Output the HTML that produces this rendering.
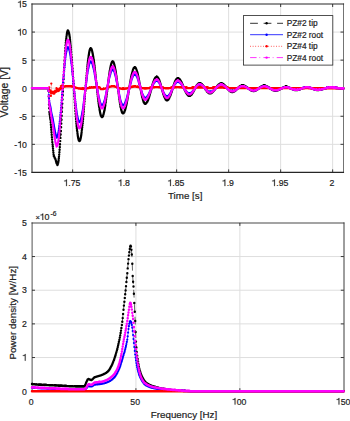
<!DOCTYPE html><html><head><meta charset="utf-8"><style>html,body{margin:0;padding:0;background:#fff;overflow:hidden}svg{display:block}text{font-family:"Liberation Sans",sans-serif;fill:#222;stroke:#222;stroke-width:0.2px}</style></head><body>
<svg width="350" height="421" viewBox="0 0 350 421">
<rect width="350" height="421" fill="#fff"/>
<path d="M72.65 4.0V172.4M124.65 4.0V172.4M176.65 4.0V172.4M228.65 4.0V172.4M280.65 4.0V172.4M332.65 4.0V172.4M32.0 32.07H343.5M32.0 60.13H343.5M32.0 88.20H343.5M32.0 116.27H343.5M32.0 144.33H343.5" stroke="#dedede" stroke-width="1" fill="none"/>
<path d="M135.93 222.9V391.2M239.87 222.9V391.2M32.0 256.56H343.8M32.0 290.22H343.8M32.0 323.88H343.8M32.0 357.54H343.8" stroke="#dedede" stroke-width="1" fill="none"/>
<path d="M32.0 4.0H343.5" stroke="#262626" stroke-width="1.15" stroke-linecap="square" fill="none"/>
<path d="M32.0 172.4H343.5" stroke="#262626" stroke-width="1.1" stroke-linecap="square" fill="none"/>
<path d="M32.0 4.0V172.4" stroke="#262626" stroke-width="1.0" stroke-linecap="square" fill="none"/>
<path d="M343.5 4.0V172.4" stroke="#262626" stroke-width="0.65" stroke-linecap="square" fill="none"/>
<path d="M72.65 172.4v-3M72.65 4.0v3M124.65 172.4v-3M124.65 4.0v3M176.65 172.4v-3M176.65 4.0v3M228.65 172.4v-3M228.65 4.0v3M280.65 172.4v-3M280.65 4.0v3M332.65 172.4v-3M332.65 4.0v3M32.0 32.07h3M343.5 32.07h-3M32.0 60.13h3M343.5 60.13h-3M32.0 88.20h3M343.5 88.20h-3M32.0 116.27h3M343.5 116.27h-3M32.0 144.33h3M343.5 144.33h-3" stroke="#262626" stroke-width="0.9" fill="none"/>
<path d="M32.0 223.0H343.8" stroke="#262626" stroke-width="0.85" stroke-linecap="square" fill="none"/>
<path d="M32.0 391.2H343.8" stroke="#262626" stroke-width="1.0" stroke-linecap="square" fill="none"/>
<path d="M32.1 222.9V391.2" stroke="#262626" stroke-width="0.8" stroke-linecap="square" fill="none"/>
<path d="M344.0 222.9V391.2" stroke="#262626" stroke-width="0.9" stroke-linecap="square" fill="none"/>
<path d="M135.93 391.2v-3M135.93 222.9v3M239.87 391.2v-3M239.87 222.9v3M32.0 256.56h3M343.8 256.56h-3M32.0 290.22h3M343.8 290.22h-3M32.0 323.88h3M343.8 323.88h-3M32.0 357.54h3M343.8 357.54h-3" stroke="#262626" stroke-width="0.9" fill="none"/>
<polyline points="32.00,88.10 32.21,88.10 32.42,88.10 32.62,88.10 32.83,88.10 33.04,88.10 33.25,88.10 33.45,88.10 33.66,88.10 33.87,88.10 34.08,88.10 34.28,88.10 34.49,88.10 34.70,88.10 34.91,88.10 35.11,88.10 35.32,88.10 35.53,88.10 35.74,88.10 35.94,88.10 36.15,88.10 36.36,88.10 36.57,88.10 36.77,88.10 36.98,88.10 37.19,88.10 37.40,88.10 37.61,88.10 37.81,88.10 38.02,88.10 38.23,88.10 38.44,88.10 38.64,88.10 38.85,88.10 39.06,88.10 39.27,88.10 39.47,88.10 39.68,88.10 39.89,88.10 40.10,88.10 40.30,88.10 40.51,88.10 40.72,88.10 40.93,88.10 41.13,88.10 41.34,88.10 41.55,88.10 41.76,88.10 41.96,88.10 42.17,88.10 42.38,88.10 42.59,88.10 42.80,88.10 43.00,88.10 43.21,88.10 43.42,88.10 43.63,88.10 43.83,88.10 44.04,88.10 44.25,88.10 44.46,88.10 44.66,88.10 44.87,88.10 45.08,88.10 45.29,88.10 45.49,88.10 45.70,88.10 45.91,88.10 46.12,88.10 46.32,88.10 46.53,88.10 46.74,88.10 46.95,88.10 47.15,88.10 47.36,88.10 47.57,88.10 47.78,88.10 47.99,88.10 48.19,88.10 48.40,88.10 48.61,90.94 48.82,96.62 49.02,104.42 49.23,108.15 49.44,111.89 49.65,114.02 49.85,115.48 50.06,116.93 50.27,118.38 50.48,119.83 50.68,122.21 50.89,124.70 51.10,127.19 51.31,129.68 51.51,132.17 51.72,134.66 51.93,137.16 52.14,139.65 52.34,142.14 52.55,144.51 52.76,146.53 52.97,148.56 53.18,150.58 53.38,152.61 53.59,154.63 53.80,155.91 54.01,156.35 54.21,156.78 54.42,157.22 54.63,157.66 54.84,158.10 55.04,158.54 55.25,158.97 55.46,159.41 55.67,160.08 55.87,160.81 56.08,161.54 56.29,162.26 56.50,162.99 56.70,163.51 56.91,164.03 57.12,164.55 57.33,164.97 57.53,164.72 57.74,164.38 57.95,163.65 58.16,162.79 58.37,161.58 58.57,160.21 58.78,158.54 58.99,156.69 59.20,154.59 59.40,152.29 59.61,149.78 59.82,147.06 60.03,144.18 60.23,141.09 60.44,137.89 60.65,134.47 60.86,130.98 61.06,127.30 61.27,123.57 61.48,119.68 61.69,115.76 61.89,111.73 62.10,107.68 62.31,103.57 62.52,99.45 62.72,95.32 62.93,91.20 63.14,87.11 63.35,83.04 63.56,79.06 63.76,75.12 63.97,71.29 64.18,67.54 64.39,63.92 64.59,60.42 64.80,57.06 65.01,53.87 65.22,50.82 65.42,47.98 65.63,45.28 65.84,42.84 66.05,40.53 66.25,38.54 66.46,36.65 66.67,35.13 66.88,33.69 67.08,32.67 67.29,31.70 67.50,31.19 67.71,30.72 67.91,30.70 68.12,30.72 68.33,31.06 68.54,31.46 68.75,32.14 68.95,32.90 69.16,33.91 69.37,35.02 69.58,36.35 69.78,37.79 69.99,39.42 70.20,41.18 70.41,43.08 70.61,45.13 70.82,47.30 71.03,49.61 71.24,52.01 71.44,54.55 71.65,57.16 71.86,59.90 72.07,62.67 72.27,65.57 72.48,68.49 72.69,71.50 72.90,74.53 73.10,77.62 73.31,80.72 73.52,83.84 73.73,86.97 73.94,90.09 74.14,93.20 74.35,96.28 74.56,99.34 74.77,102.34 74.97,105.30 75.18,108.19 75.39,111.01 75.60,113.75 75.80,116.40 76.01,118.95 76.22,121.39 76.43,123.73 76.63,125.92 76.84,128.03 77.05,129.94 77.26,131.78 77.46,133.39 77.67,134.94 77.88,136.23 78.09,137.48 78.29,138.42 78.50,139.35 78.71,139.94 78.92,140.51 79.13,140.76 79.33,140.97 79.54,140.90 79.75,140.75 79.96,140.38 80.16,139.92 80.37,139.26 80.58,138.50 80.79,137.55 80.99,136.48 81.20,135.27 81.41,133.92 81.62,132.45 81.82,130.83 82.03,129.12 82.24,127.26 82.45,125.34 82.65,123.27 82.86,121.14 83.07,118.89 83.28,116.60 83.48,114.19 83.69,111.76 83.90,109.23 84.11,106.69 84.32,104.08 84.52,101.46 84.73,98.80 84.94,96.14 85.15,93.47 85.35,90.81 85.56,88.16 85.77,85.52 85.98,82.93 86.18,80.36 86.39,77.85 86.60,75.40 86.81,73.00 87.01,70.69 87.22,68.44 87.43,66.30 87.64,64.22 87.84,62.29 88.05,60.41 88.26,58.71 88.47,57.05 88.67,55.61 88.88,54.20 89.09,53.03 89.30,51.88 89.51,51.00 89.71,50.14 89.92,49.55 90.13,49.00 90.34,48.71 90.54,48.47 90.75,48.46 90.96,48.51 91.17,48.73 91.37,49.03 91.58,49.47 91.79,50.00 92.00,50.65 92.20,51.40 92.41,52.25 92.62,53.21 92.83,54.26 93.03,55.42 93.24,56.65 93.45,57.99 93.66,59.38 93.86,60.89 94.07,62.43 94.28,64.08 94.49,65.75 94.70,67.52 94.90,69.30 95.11,71.16 95.32,73.03 95.53,74.96 95.73,76.89 95.94,78.86 96.15,80.83 96.36,82.81 96.56,84.79 96.77,86.76 96.98,88.72 97.19,90.66 97.39,92.57 97.60,94.45 97.81,96.29 98.02,98.09 98.22,99.83 98.43,101.53 98.64,103.14 98.85,104.71 99.05,106.18 99.26,107.61 99.47,108.91 99.68,110.18 99.89,111.29 100.09,112.38 100.30,113.29 100.51,114.18 100.72,114.88 100.92,115.56 101.13,116.05 101.34,116.50 101.55,116.78 101.75,116.99 101.96,117.05 102.17,117.04 102.38,116.89 102.58,116.66 102.79,116.32 103.00,115.88 103.21,115.34 103.41,114.70 103.62,113.98 103.83,113.15 104.04,112.25 104.24,111.24 104.45,110.18 104.66,109.01 104.87,107.81 105.08,106.49 105.28,105.15 105.49,103.71 105.70,102.26 105.91,100.72 106.11,99.17 106.32,97.56 106.53,95.94 106.74,94.28 106.94,92.61 107.15,90.92 107.36,89.23 107.57,87.54 107.77,85.85 107.98,84.18 108.19,82.53 108.40,80.90 108.60,79.31 108.81,77.74 109.02,76.23 109.23,74.76 109.43,73.35 109.64,71.98 109.85,70.71 110.06,69.47 110.27,68.34 110.47,67.24 110.68,66.29 110.89,65.35 111.10,64.57 111.30,63.81 111.51,63.22 111.72,62.65 111.93,62.26 112.13,61.90 112.34,61.70 112.55,61.55 112.76,61.55 112.96,61.61 113.17,61.81 113.38,62.08 113.59,62.48 113.79,62.96 114.00,63.55 114.21,64.24 114.42,65.01 114.62,65.88 114.83,66.82 115.04,67.87 115.25,68.96 115.46,70.17 115.66,71.40 115.87,72.74 116.08,74.10 116.29,75.55 116.49,77.02 116.70,78.56 116.91,80.10 117.12,81.70 117.32,83.30 117.53,84.94 117.74,86.57 117.95,88.21 118.15,89.85 118.36,91.48 118.57,93.09 118.78,94.68 118.98,96.24 119.19,97.76 119.40,99.25 119.61,100.68 119.81,102.06 120.02,103.40 120.23,104.65 120.44,105.85 120.65,106.96 120.85,108.02 121.06,108.95 121.27,109.85 121.48,110.60 121.68,111.33 121.89,111.88 122.10,112.42 122.31,112.77 122.51,113.11 122.72,113.26 122.93,113.38 123.14,113.35 123.34,113.29 123.55,113.12 123.76,112.92 123.97,112.61 124.17,112.27 124.38,111.84 124.59,111.35 124.80,110.79 125.00,110.18 125.21,109.51 125.42,108.77 125.63,107.98 125.84,107.13 126.04,106.25 126.25,105.29 126.46,104.31 126.67,103.27 126.87,102.21 127.08,101.09 127.29,99.97 127.50,98.79 127.70,97.60 127.91,96.38 128.12,95.15 128.33,93.89 128.53,92.64 128.74,91.37 128.95,90.10 129.16,88.83 129.36,87.57 129.57,86.31 129.78,85.07 129.99,83.84 130.19,82.64 130.40,81.45 130.61,80.30 130.82,79.17 131.03,78.09 131.23,77.03 131.44,76.02 131.65,75.04 131.86,74.13 132.06,73.25 132.27,72.45 132.48,71.66 132.69,70.98 132.89,70.30 133.10,69.74 133.31,69.19 133.52,68.76 133.72,68.34 133.93,68.04 134.14,67.77 134.35,67.60 134.55,67.46 134.76,67.43 134.97,67.44 135.18,67.55 135.38,67.70 135.59,67.94 135.80,68.25 136.01,68.62 136.22,69.06 136.42,69.56 136.63,70.14 136.84,70.76 137.05,71.45 137.25,72.18 137.46,72.99 137.67,73.82 137.88,74.73 138.08,75.65 138.29,76.63 138.50,77.63 138.71,78.68 138.91,79.74 139.12,80.84 139.33,81.94 139.54,83.07 139.74,84.20 139.95,85.34 140.16,86.48 140.37,87.61 140.57,88.74 140.78,89.86 140.99,90.95 141.20,92.03 141.41,93.08 141.61,94.11 141.82,95.10 142.03,96.05 142.24,96.96 142.44,97.84 142.65,98.64 142.86,99.42 143.07,100.12 143.27,100.80 143.48,101.37 143.69,101.93 143.90,102.38 144.10,102.81 144.31,103.12 144.52,103.41 144.73,103.58 144.93,103.73 145.14,103.77 145.35,103.78 145.56,103.72 145.76,103.63 145.97,103.48 146.18,103.31 146.39,103.08 146.60,102.82 146.80,102.52 147.01,102.17 147.22,101.80 147.43,101.38 147.63,100.93 147.84,100.44 148.05,99.92 148.26,99.37 148.46,98.79 148.67,98.18 148.88,97.56 149.09,96.90 149.29,96.23 149.50,95.53 149.71,94.82 149.92,94.09 150.12,93.36 150.33,92.61 150.54,91.85 150.75,91.09 150.95,90.33 151.16,89.57 151.37,88.81 151.58,88.06 151.79,87.31 151.99,86.57 152.20,85.85 152.41,85.14 152.62,84.45 152.82,83.77 153.03,83.12 153.24,82.48 153.45,81.89 153.65,81.30 153.86,80.76 154.07,80.23 154.28,79.76 154.48,79.29 154.69,78.89 154.90,78.50 155.11,78.17 155.31,77.85 155.52,77.61 155.73,77.38 155.94,77.21 156.14,77.06 156.35,76.98 156.56,76.92 156.77,76.92 156.98,76.95 157.18,77.05 157.39,77.17 157.60,77.35 157.81,77.58 158.01,77.84 158.22,78.16 158.43,78.51 158.64,78.91 158.84,79.33 159.05,79.81 159.26,80.31 159.47,80.85 159.67,81.42 159.88,82.02 160.09,82.64 160.30,83.30 160.50,83.96 160.71,84.66 160.92,85.36 161.13,86.09 161.33,86.81 161.54,87.55 161.75,88.29 161.96,89.04 162.17,89.78 162.37,90.51 162.58,91.24 162.79,91.96 163.00,92.67 163.20,93.36 163.41,94.03 163.62,94.68 163.83,95.30 164.03,95.90 164.24,96.47 164.45,97.01 164.66,97.51 164.86,97.99 165.07,98.41 165.28,98.81 165.49,99.15 165.69,99.48 165.90,99.73 166.11,99.97 166.32,100.12 166.52,100.27 166.73,100.34 166.94,100.39 167.15,100.37 167.36,100.33 167.56,100.24 167.77,100.11 167.98,99.94 168.19,99.74 168.39,99.49 168.60,99.21 168.81,98.89 169.02,98.54 169.22,98.16 169.43,97.74 169.64,97.29 169.85,96.81 170.05,96.31 170.26,95.78 170.47,95.23 170.68,94.65 170.88,94.06 171.09,93.45 171.30,92.83 171.51,92.18 171.71,91.54 171.92,90.88 172.13,90.22 172.34,89.55 172.55,88.88 172.75,88.22 172.96,87.56 173.17,86.91 173.38,86.26 173.58,85.63 173.79,85.01 174.00,84.40 174.21,83.82 174.41,83.25 174.62,82.71 174.83,82.18 175.04,81.69 175.24,81.22 175.45,80.79 175.66,80.38 175.87,80.02 176.07,79.67 176.28,79.38 176.49,79.09 176.70,78.88 176.90,78.67 177.11,78.54 177.32,78.41 177.53,78.35 177.74,78.31 177.94,78.32 178.15,78.35 178.36,78.41 178.57,78.50 178.77,78.61 178.98,78.75 179.19,78.92 179.40,79.12 179.60,79.34 179.81,79.58 180.02,79.85 180.23,80.14 180.43,80.45 180.64,80.79 180.85,81.14 181.06,81.51 181.26,81.90 181.47,82.31 181.68,82.73 181.89,83.17 182.09,83.61 182.30,84.08 182.51,84.54 182.72,85.02 182.93,85.50 183.13,85.99 183.34,86.48 183.55,86.98 183.76,87.47 183.96,87.96 184.17,88.45 184.38,88.94 184.59,89.42 184.79,89.89 185.00,90.36 185.21,90.81 185.42,91.25 185.62,91.68 185.83,92.09 186.04,92.50 186.25,92.87 186.45,93.24 186.66,93.58 186.87,93.91 187.08,94.21 187.28,94.49 187.49,94.74 187.70,94.98 187.91,95.18 188.12,95.37 188.32,95.52 188.53,95.65 188.74,95.75 188.95,95.83 189.15,95.87 189.36,95.89 189.57,95.88 189.78,95.85 189.98,95.79 190.19,95.71 190.40,95.60 190.61,95.47 190.81,95.31 191.02,95.13 191.23,94.93 191.44,94.70 191.64,94.46 191.85,94.20 192.06,93.92 192.27,93.62 192.47,93.30 192.68,92.97 192.89,92.63 193.10,92.27 193.31,91.90 193.51,91.52 193.72,91.14 193.93,90.75 194.14,90.35 194.34,89.95 194.55,89.55 194.76,89.15 194.97,88.75 195.17,88.35 195.38,87.96 195.59,87.57 195.80,87.20 196.00,86.83 196.21,86.47 196.42,86.13 196.63,85.80 196.83,85.48 197.04,85.18 197.25,84.90 197.46,84.64 197.66,84.39 197.87,84.17 198.08,83.96 198.29,83.79 198.50,83.62 198.70,83.50 198.91,83.38 199.12,83.31 199.33,83.24 199.53,83.22 199.74,83.20 199.95,83.22 200.16,83.25 200.36,83.31 200.57,83.38 200.78,83.48 200.99,83.59 201.19,83.73 201.40,83.88 201.61,84.05 201.82,84.23 202.02,84.43 202.23,84.65 202.44,84.88 202.65,85.13 202.85,85.39 203.06,85.66 203.27,85.94 203.48,86.23 203.69,86.53 203.89,86.83 204.10,87.14 204.31,87.46 204.52,87.78 204.72,88.10 204.93,88.43 205.14,88.75 205.35,89.07 205.55,89.38 205.76,89.70 205.97,90.00 206.18,90.31 206.38,90.60 206.59,90.88 206.80,91.15 207.01,91.41 207.21,91.66 207.42,91.90 207.63,92.12 207.84,92.32 208.04,92.52 208.25,92.68 208.46,92.84 208.67,92.98 208.88,93.10 209.08,93.19 209.29,93.28 209.50,93.33 209.71,93.38 209.91,93.39 210.12,93.40 210.33,93.37 210.54,93.34 210.74,93.29 210.95,93.22 211.16,93.13 211.37,93.04 211.57,92.92 211.78,92.79 211.99,92.64 212.20,92.48 212.40,92.31 212.61,92.13 212.82,91.93 213.03,91.72 213.23,91.50 213.44,91.26 213.65,91.02 213.86,90.77 214.07,90.51 214.27,90.25 214.48,89.98 214.69,89.70 214.90,89.42 215.10,89.14 215.31,88.85 215.52,88.56 215.73,88.28 215.93,87.99 216.14,87.70 216.35,87.42 216.56,87.14 216.76,86.86 216.97,86.59 217.18,86.33 217.39,86.07 217.59,85.83 217.80,85.59 218.01,85.36 218.22,85.14 218.42,84.93 218.63,84.73 218.84,84.55 219.05,84.38 219.26,84.22 219.46,84.08 219.67,83.95 219.88,83.84 220.09,83.74 220.29,83.67 220.50,83.59 220.71,83.55 220.92,83.52 221.12,83.51 221.33,83.50 221.54,83.53 221.75,83.55 221.95,83.60 222.16,83.66 222.37,83.74 222.58,83.82 222.78,83.93 222.99,84.04 223.20,84.17 223.41,84.31 223.61,84.46 223.82,84.62 224.03,84.79 224.24,84.98 224.45,85.17 224.65,85.38 224.86,85.59 225.07,85.81 225.28,86.03 225.48,86.26 225.69,86.50 225.90,86.74 226.11,86.98 226.31,87.23 226.52,87.48 226.73,87.72 226.94,87.97 227.14,88.22 227.35,88.47 227.56,88.71 227.77,88.96 227.97,89.19 228.18,89.42 228.39,89.65 228.60,89.87 228.80,90.08 229.01,90.29 229.22,90.48 229.43,90.67 229.64,90.84 229.84,91.01 230.05,91.16 230.26,91.30 230.47,91.44 230.67,91.55 230.88,91.66 231.09,91.75 231.30,91.83 231.50,91.89 231.71,91.94 231.92,91.97 232.13,91.99 232.33,91.99 232.54,91.99 232.75,91.96 232.96,91.93 233.16,91.88 233.37,91.82 233.58,91.74 233.79,91.66 233.99,91.56 234.20,91.45 234.41,91.32 234.62,91.19 234.83,91.05 235.03,90.89 235.24,90.73 235.45,90.56 235.66,90.39 235.86,90.20 236.07,90.01 236.28,89.82 236.49,89.62 236.69,89.41 236.90,89.20 237.11,89.00 237.32,88.78 237.52,88.57 237.73,88.36 237.94,88.16 238.15,87.95 238.35,87.75 238.56,87.55 238.77,87.35 238.98,87.16 239.18,86.98 239.39,86.80 239.60,86.63 239.81,86.47 240.02,86.32 240.22,86.18 240.43,86.05 240.64,85.93 240.85,85.82 241.05,85.73 241.26,85.64 241.47,85.57 241.68,85.51 241.88,85.47 242.09,85.43 242.30,85.41 242.51,85.40 242.71,85.41 242.92,85.42 243.13,85.45 243.34,85.48 243.54,85.53 243.75,85.58 243.96,85.64 244.17,85.71 244.37,85.79 244.58,85.87 244.79,85.97 245.00,86.07 245.21,86.18 245.41,86.30 245.62,86.42 245.83,86.56 246.04,86.69 246.24,86.83 246.45,86.98 246.66,87.13 246.87,87.28 247.07,87.44 247.28,87.60 247.49,87.76 247.70,87.92 247.90,88.08 248.11,88.25 248.32,88.41 248.53,88.58 248.73,88.74 248.94,88.90 249.15,89.06 249.36,89.21 249.56,89.36 249.77,89.51 249.98,89.65 250.19,89.79 250.40,89.92 250.60,90.05 250.81,90.17 251.02,90.28 251.23,90.39 251.43,90.49 251.64,90.58 251.85,90.66 252.06,90.74 252.26,90.80 252.47,90.86 252.68,90.90 252.89,90.94 253.09,90.97 253.30,90.99 253.51,90.99 253.72,91.00 253.92,90.98 254.13,90.97 254.34,90.93 254.55,90.89 254.75,90.84 254.96,90.78 255.17,90.71 255.38,90.63 255.59,90.54 255.79,90.45 256.00,90.34 256.21,90.23 256.42,90.11 256.62,89.99 256.83,89.85 257.04,89.71 257.25,89.57 257.45,89.42 257.66,89.27 257.87,89.12 258.08,88.96 258.28,88.80 258.49,88.63 258.70,88.47 258.91,88.30 259.11,88.14 259.32,87.98 259.53,87.82 259.74,87.66 259.94,87.50 260.15,87.34 260.36,87.19 260.57,87.05 260.78,86.91 260.98,86.77 261.19,86.64 261.40,86.52 261.61,86.41 261.81,86.30 262.02,86.20 262.23,86.11 262.44,86.02 262.64,85.95 262.85,85.88 263.06,85.83 263.27,85.78 263.47,85.75 263.68,85.72 263.89,85.71 264.10,85.70 264.30,85.71 264.51,85.72 264.72,85.74 264.93,85.76 265.13,85.80 265.34,85.84 265.55,85.90 265.76,85.95 265.97,86.02 266.17,86.09 266.38,86.17 266.59,86.26 266.80,86.35 267.00,86.45 267.21,86.55 267.42,86.66 267.63,86.77 267.83,86.89 268.04,87.02 268.25,87.14 268.46,87.27 268.66,87.41 268.87,87.54 269.08,87.68 269.29,87.82 269.49,87.96 269.70,88.10 269.91,88.24 270.12,88.38 270.32,88.52 270.53,88.66 270.74,88.80 270.95,88.94 271.16,89.07 271.36,89.20 271.57,89.33 271.78,89.46 271.99,89.58 272.19,89.69 272.40,89.80 272.61,89.91 272.82,90.01 273.02,90.10 273.23,90.19 273.44,90.27 273.65,90.35 273.85,90.42 274.06,90.48 274.27,90.53 274.48,90.58 274.68,90.62 274.89,90.65 275.10,90.67 275.31,90.69 275.51,90.70 275.72,90.70 275.93,90.69 276.14,90.67 276.35,90.65 276.55,90.62 276.76,90.58 276.97,90.54 277.18,90.49 277.38,90.43 277.59,90.36 277.80,90.29 278.01,90.22 278.21,90.14 278.42,90.05 278.63,89.96 278.84,89.86 279.04,89.76 279.25,89.66 279.46,89.55 279.67,89.44 279.87,89.32 280.08,89.21 280.29,89.09 280.50,88.97 280.70,88.85 280.91,88.74 281.12,88.62 281.33,88.50 281.54,88.38 281.74,88.27 281.95,88.15 282.16,88.04 282.37,87.94 282.57,87.83 282.78,87.73 282.99,87.63 283.20,87.54 283.40,87.46 283.61,87.38 283.82,87.30 284.03,87.23 284.23,87.17 284.44,87.11 284.65,87.06 284.86,87.01 285.06,86.98 285.27,86.95 285.48,86.93 285.69,86.91 285.89,86.90 286.10,86.90 286.31,86.91 286.52,86.92 286.73,86.94 286.93,86.97 287.14,87.00 287.35,87.04 287.56,87.09 287.76,87.14 287.97,87.19 288.18,87.25 288.39,87.32 288.59,87.39 288.80,87.47 289.01,87.55 289.22,87.64 289.42,87.73 289.63,87.82 289.84,87.91 290.05,88.01 290.25,88.11 290.46,88.21 290.67,88.31 290.88,88.41 291.08,88.52 291.29,88.62 291.50,88.72 291.71,88.82 291.92,88.92 292.12,89.02 292.33,89.12 292.54,89.21 292.75,89.30 292.95,89.39 293.16,89.47 293.37,89.56 293.58,89.63 293.78,89.70 293.99,89.77 294.20,89.83 294.41,89.88 294.61,89.93 294.82,89.97 295.03,90.01 295.24,90.04 295.44,90.06 295.65,90.08 295.86,90.09 296.07,90.10 296.27,90.10 296.48,90.09 296.69,90.08 296.90,90.06 297.11,90.04 297.31,90.01 297.52,89.97 297.73,89.94 297.94,89.89 298.14,89.85 298.35,89.79 298.56,89.74 298.77,89.68 298.97,89.61 299.18,89.55 299.39,89.47 299.60,89.40 299.80,89.32 300.01,89.24 300.22,89.16 300.43,89.08 300.63,88.99 300.84,88.90 301.05,88.82 301.26,88.73 301.46,88.64 301.67,88.55 301.88,88.46 302.09,88.37 302.30,88.28 302.50,88.19 302.71,88.11 302.92,88.02 303.13,87.94 303.33,87.86 303.54,87.79 303.75,87.71 303.96,87.64 304.16,87.57 304.37,87.51 304.58,87.45 304.79,87.40 304.99,87.35 305.20,87.30 305.41,87.26 305.62,87.22 305.82,87.19 306.03,87.16 306.24,87.14 306.45,87.12 306.65,87.11 306.86,87.10 307.07,87.10 307.28,87.11 307.49,87.12 307.69,87.13 307.90,87.15 308.11,87.18 308.32,87.21 308.52,87.25 308.73,87.29 308.94,87.33 309.15,87.39 309.35,87.44 309.56,87.50 309.77,87.56 309.98,87.63 310.18,87.70 310.39,87.77 310.60,87.85 310.81,87.93 311.01,88.01 311.22,88.10 311.43,88.18 311.64,88.27 311.84,88.36 312.05,88.44 312.26,88.53 312.47,88.62 312.68,88.71 312.88,88.80 313.09,88.89 313.30,88.97 313.51,89.06 313.71,89.14 313.92,89.22 314.13,89.30 314.34,89.37 314.54,89.44 314.75,89.51 314.96,89.58 315.17,89.64 315.37,89.69 315.58,89.75 315.79,89.79 316.00,89.84 316.20,89.88 316.41,89.91 316.62,89.94 316.83,89.96 317.03,89.98 317.24,89.99 317.45,90.00 317.66,90.00 317.87,90.00 318.07,89.99 318.28,89.98 318.49,89.97 318.70,89.95 318.90,89.93 319.11,89.91 319.32,89.88 319.53,89.85 319.73,89.82 319.94,89.79 320.15,89.75 320.36,89.71 320.56,89.66 320.77,89.62 320.98,89.57 321.19,89.52 321.39,89.46 321.60,89.41 321.81,89.35 322.02,89.30 322.22,89.24 322.43,89.17 322.64,89.11 322.85,89.05 323.06,88.98 323.26,88.92 323.47,88.85 323.68,88.79 323.89,88.72 324.09,88.66 324.30,88.59 324.51,88.53 324.72,88.46 324.92,88.40 325.13,88.34 325.34,88.28 325.55,88.22 325.75,88.16 325.96,88.10 326.17,88.04 326.38,87.99 326.58,87.94 326.79,87.89 327.00,87.84 327.21,87.80 327.41,87.76 327.62,87.72 327.83,87.69 328.04,87.65 328.25,87.62 328.45,87.60 328.66,87.57 328.87,87.55 329.08,87.54 329.28,87.52 329.49,87.51 329.70,87.50 329.91,87.50 330.11,87.50 330.32,87.50 330.53,87.50 330.74,87.51 330.94,87.51 331.15,87.52 331.36,87.53 331.57,87.53 331.77,87.54 331.98,87.55 332.19,87.56 332.40,87.58 332.60,87.59 332.81,87.60 333.02,87.62 333.23,87.63 333.44,87.65 333.64,87.67 333.85,87.69 334.06,87.71 334.27,87.73 334.47,87.75 334.68,87.77 334.89,87.79 335.10,87.81 335.30,87.83 335.51,87.86 335.72,87.88 335.93,87.90 336.13,87.93 336.34,87.95 336.55,87.98 336.76,88.00 336.96,88.02 337.17,88.05 337.38,88.07 337.59,88.10 337.79,88.12 338.00,88.14 338.21,88.17 338.42,88.19 338.63,88.21 338.83,88.23 339.04,88.25 339.25,88.27 339.46,88.29 339.66,88.31 339.87,88.33 340.08,88.35 340.29,88.37 340.49,88.38 340.70,88.40 340.91,88.41 341.12,88.42 341.32,88.44 341.53,88.45 341.74,88.46 341.95,88.47 342.15,88.48 342.36,88.48 342.57,88.49 342.78,88.49 342.98,88.50 343.19,88.50 343.40,88.50" fill="none" stroke="#000" stroke-width="0.6" stroke-dasharray="7.8,5.7"/>
<path d="M32 88.1h0m.2 0h0m.2 0h0m.2 0h0m.2 0h0m.2 0h0m.2 0h0m.3 0h0m.2 0h0m.2 0h0m.2 0h0m.2 0h0m.2 0h0m.2 0h0m.2 0h0m.2 0h0m.2 0h0m.2 0h0m.2 0h0m.2 0h0m.3 0h0m.2 0h0m.2 0h0m.2 0h0m.2 0h0m.2 0h0m.2 0h0m.2 0h0m.2 0h0m.2 0h0m.2 0h0m.2 0h0m.2 0h0m.3 0h0m.2 0h0m.2 0h0m.2 0h0m.2 0h0m.2 0h0m.2 0h0m.2 0h0m.2 0h0m.2 0h0m.2 0h0m.2 0h0m.2 0h0m.2 0h0m.3 0h0m.2 0h0m.2 0h0m.2 0h0m.2 0h0m.2 0h0m.2 0h0m.2 0h0m.2 0h0m.2 0h0m.2 0h0m.2 0h0m.2 0h0m.3 0h0m.2 0h0m.2 0h0m.2 0h0m.2 0h0m.2 0h0m.2 0h0m.2 0h0m.2 0h0m.2 0h0m.2 0h0m.2 0h0m.2 0h0m.3 0h0m.2 0h0m.2 0h0m.2 0h0m.2 0h0m.2 0h0m.2 0h0m.2 2.8h0m.2 5.7h0m.2 7.8h0m.2 3.8h0m.2 3.7h0m.2 2.1h0m.3 1.5h0m.2 1.4h0m.2 1.5h0m.2 1.4h0m.2 2.4h0m.2 2.5h0m.2 2.5h0m.2 2.5h0m.2 2.5h0m.2 2.5h0m.2 2.5h0m.2 2.4h0m.2 2.5h0m.3 2.4h0m.2 2h0m.2 2.1h0m.2 2h0m.2 2h0m.2 2h0m.2 1.3h0m.2 .4h0m.2 .5h0m.2 .4h0m.2 .5h0m.2 .4h0m.2 .4h0m.3 .5h0m.2 .4h0m.2 .7h0m.2 .7h0m.2 .7h0m.2 .8h0m.2 .7h0m.2 .5h0m.2 .5h0m.2 .5h0m.2 .5h0m.2-.3h0m.2-.3h0m.2-.8h0m.3-.8h0m.2-1.2h0m.2-1.4h0m.2-1.7h0m.2-1.8h0m.2-2.1h0m.2-2.3h0m.2-2.5h0m.2-2.7h0m.2-2.9h0m.2-3.1h0m.2-3.2h0m.2-3.4h0m.3-3.5h0m.2-3.7h0m.2-3.7h0m.2-3.9h0m.2-3.9h0m.2-4.1h0m.2-4h0m.2-4.1h0m.2-4.2h0m.2-4.1h0m.2-4.1h0m.2-4.1h0m.2-4.1h0m.3-3.9h0m.2-4h0m.2-3.8h0m.2-3.8h0m.2-3.6h0m.2-3.5h0m.2-3.3h0m.2-3.2h0m.2-3.1h0m.2-2.8h0m.2-2.7h0m.2-2.5h0m.2-2.3h0m.3-2h0m.2-1.8h0m.2-1.6h0m.2-1.4h0m.2-1h0m.2-1h0m.2-.5h0m.2-.5h0m.2 0h0m.2 0h0m.2 .4h0m.2 .4h0m.2 .6h0m.3 .8h0m.2 1h0m.2 1.1h0m.2 1.3h0m.2 1.5h0m.2 1.6h0m.2 1.8h0m.2 1.9h0m.2 2h0m.2 2.2h0m.2 2.3h0m.2 2.4h0m.2 2.6h0m.3 2.6h0m.2 2.7h0m.2 2.8h0m.2 2.9h0m.2 2.9h0m.2 3h0m.2 3h0m.2 3.1h0m.2 3.1h0m.2 3.1h0m.2 3.2h0m.2 3.1h0m.2 3.1h0m.3 3.1h0m.2 3h0m.2 3h0m.2 3h0m.2 2.9h0m.2 2.8h0m.2 2.8h0m.2 2.6h0m.2 2.6h0m.2 2.4h0m.2 2.3h0m.2 2.2h0m.2 2.1h0m.2 1.9h0m.3 1.9h0m.2 1.6h0m.2 1.5h0m.2 1.3h0m.2 1.3h0m.2 .9h0m.2 .9h0m.2 .6h0m.2 .6h0m.2 .3h0m.2 .2h0m.2-.1h0m.2-.1h0m.3-.4h0m.2-.5h0m.2-.6h0m.2-.8h0m.2-.9h0m.2-1.1h0m.2-1.2h0m.2-1.4h0m.2-1.5h0m.2-1.6h0m.2-1.7h0m.2-1.8h0m.2-2h0m.3-2h0m.2-2.2h0m.2-2.2h0m.2-2.3h0m.2-2.4h0m.2-2.4h0m.2-2.6h0m.2-2.5h0m.2-2.6h0m.2-2.6h0m.2-2.7h0m.2-2.7h0m.2-2.6h0m.3-2.7h0m.2-2.6h0m.2-2.7h0m.2-2.6h0m.2-2.5h0m.2-2.5h0m.2-2.5h0m.2-2.4h0m.2-2.3h0m.2-2.3h0m.2-2.1h0m.2-2.1h0m.2-1.9h0m.3-1.9h0m.2-1.7h0m.2-1.6h0m.2-1.5h0m.2-1.4h0m.2-1.2h0m.2-1.1h0m.2-.9h0m.2-.9h0m.2-.5h0m.2-.6h0m.2-.3h0m.2-.2h0m.3 0h0m.2 0h0m.2 .2h0m.2 .3h0m.2 .5h0m.2 .5h0m.2 .6h0m.2 .8h0m.2 .8h0m.2 1h0m.2 1.1h0m.2 1.1h0m.2 1.2h0m.2 1.4h0m.3 1.4h0m.2 1.5h0m.2 1.5h0m.2 1.7h0m.2 1.7h0m.2 1.7h0m.2 1.8h0m.2 1.9h0m.2 1.8h0m.2 2h0m.2 1.9h0m.2 2h0m.2 1.9h0m.3 2h0m.2 2h0m.2 2h0m.2 1.9h0m.2 2h0m.2 1.9h0m.2 1.9h0m.2 1.8h0m.2 1.8h0m.2 1.7h0m.2 1.7h0m.2 1.6h0m.2 1.6h0m.3 1.5h0m.2 1.4h0m.2 1.3h0m.2 1.3h0m.2 1.1h0m.2 1.1h0m.2 .9h0m.2 .9h0m.2 .7h0m.2 .7h0m.2 .5h0m.2 .4h0m.2 .3h0m.3 .2h0m.2 .1h0m.2-.1h0m.2-.1h0m.2-.2h0m.2-.4h0m.2-.4h0m.2-.6h0m.2-.6h0m.2-.7h0m.2-.9h0m.2-.8h0m.2-1.1h0m.3-1h0m.2-1.2h0m.2-1.2h0m.2-1.3h0m.2-1.3h0m.2-1.5h0m.2-1.4h0m.2-1.6h0m.2-1.5h0m.2-1.6h0m.2-1.7h0m.2-1.6h0m.2-1.7h0m.3-1.7h0m.2-1.7h0m.2-1.7h0m.2-1.6h0m.2-1.7h0m.2-1.7h0m.2-1.6h0m.2-1.6h0m.2-1.6h0m.2-1.5h0m.2-1.4h0m.2-1.4h0m.2-1.4h0m.2-1.3h0m.3-1.2h0m.2-1.2h0m.2-1.1h0m.2-.9h0m.2-1h0m.2-.7h0m.2-.8h0m.2-.6h0m.2-.5h0m.2-.4h0m.2-.4h0m.2-.2h0m.2-.2h0m.3 0h0m.2 .1h0m.2 .2h0m.2 .3h0m.2 .4h0m.2 .5h0m.2 .6h0m.2 .6h0m.2 .8h0m.2 .9h0m.2 .9h0m.2 1.1h0m.2 1.1h0m.3 1.2h0m.2 1.2h0m.2 1.3h0m.2 1.4h0m.2 1.5h0m.2 1.4h0m.2 1.6h0m.2 1.5h0m.2 1.6h0m.2 1.6h0m.2 1.6h0m.2 1.7h0m.2 1.6h0m.3 1.6h0m.2 1.7h0m.2 1.6h0m.2 1.6h0m.2 1.5h0m.2 1.6h0m.2 1.4h0m.2 1.5h0m.2 1.4h0m.2 1.3h0m.2 1.2h0m.2 1.3h0m.2 1.1h0m.3 1h0m.2 1h0m.2 .9h0m.2 .7h0m.2 .7h0m.2 .6h0m.2 .5h0m.2 .4h0m.2 .3h0m.2 .2h0m.2 .1h0m.2 0h0m.2-.1h0m.3-.2h0m.2-.2h0m.2-.3h0m.2-.3h0m.2-.5h0m.2-.4h0m.2-.6h0m.2-.6h0m.2-.7h0m.2-.7h0m.2-.8h0m.2-.9h0m.2-.9h0m.3-.9h0m.2-1h0m.2-1h0m.2-1.1h0m.2-1.1h0m.2-1.1h0m.2-1.2h0m.2-1.2h0m.2-1.2h0m.2-1.3h0m.2-1.2h0m.2-1.3h0m.2-1.2h0m.2-1.3h0m.3-1.3h0m.2-1.2h0m.2-1.3h0m.2-1.2h0m.2-1.3h0m.2-1.2h0m.2-1.1h0m.2-1.2h0m.2-1.1h0m.2-1.1h0m.2-1.1h0m.2-1h0m.2-1h0m.3-.9h0m.2-.9h0m.2-.8h0m.2-.7h0m.2-.7h0m.2-.7h0m.2-.6h0m.2-.5h0m.2-.4h0m.2-.5h0m.2-.3h0m.2-.2h0m.2-.2h0m.3-.1h0m.2-.1h0m.2 0h0m.2 .1h0m.2 .2h0m.2 .2h0m.2 .3h0m.2 .4h0m.2 .5h0m.2 .5h0m.2 .5h0m.2 .7h0m.2 .7h0m.3 .7h0m.2 .8h0m.2 .8h0m.2 .9h0m.2 .9h0m.2 1h0m.2 1h0m.2 1.1h0m.2 1h0m.2 1.1h0m.2 1.1h0m.2 1.2h0m.2 1.1h0m.3 1.1h0m.2 1.2h0m.2 1.1h0m.2 1.1h0m.2 1.2h0m.2 1.1h0m.2 1h0m.2 1.1h0m.2 1h0m.2 1h0m.2 1h0m.2 .9h0m.2 .8h0m.3 .8h0m.2 .8h0m.2 .7h0m.2 .7h0m.2 .6h0m.2 .5h0m.2 .5h0m.2 .4h0m.2 .3h0m.2 .3h0m.2 .2h0m.2 .1h0m.2 .1h0m.2 0h0m.3-.1h0m.2-.1h0m.2-.1h0m.2-.2h0m.2-.2h0m.2-.3h0m.2-.3h0m.2-.3h0m.2-.4h0m.2-.4h0m.2-.5h0m.2-.5h0m.2-.5h0m.3-.5h0m.2-.6h0m.2-.6h0m.2-.6h0m.2-.7h0m.2-.7h0m.2-.7h0m.2-.7h0m.2-.7h0m.2-.7h0m.2-.8h0m.2-.7h0m.2-.8h0m.3-.8h0m.2-.7h0m.2-.8h0m.2-.7h0m.2-.8h0m.2-.7h0m.2-.8h0m.2-.7h0m.2-.7h0m.2-.6h0m.2-.7h0m.2-.6h0m.2-.6h0m.3-.6h0m.2-.5h0m.2-.6h0m.2-.4h0m.2-.5h0m.2-.4h0m.2-.4h0m.2-.3h0m.2-.3h0m.2-.3h0m.2-.2h0m.2-.2h0m.2-.1h0m.3-.1h0m.2-.1h0m.2 0h0m.2 .1h0m.2 0h0m.2 .2h0m.2 .2h0m.2 .2h0m.2 .2h0m.2 .4h0m.2 .3h0m.2 .4h0m.2 .4h0m.3 .5h0m.2 .5h0m.2 .6h0m.2 .5h0m.2 .6h0m.2 .6h0m.2 .7h0m.2 .7h0m.2 .7h0m.2 .7h0m.2 .7h0m.2 .7h0m.2 .8h0m.2 .7h0m.3 .7h0m.2 .8h0m.2 .7h0m.2 .7h0m.2 .8h0m.2 .7h0m.2 .7h0m.2 .6h0m.2 .7h0m.2 .6h0m.2 .6h0m.2 .6h0m.2 .5h0m.3 .5h0m.2 .5h0m.2 .4h0m.2 .4h0m.2 .4h0m.2 .3h0m.2 .2h0m.2 .3h0m.2 .1h0m.2 .2h0m.2 0h0m.2 .1h0m.2 0h0m.3-.1h0m.2-.1h0m.2-.1h0m.2-.2h0m.2-.2h0m.2-.2h0m.2-.3h0m.2-.3h0m.2-.4h0m.2-.3h0m.2-.5h0m.2-.4h0m.2-.5h0m.3-.5h0m.2-.5h0m.2-.6h0m.2-.5h0m.2-.6h0m.2-.7h0m.2-.6h0m.2-.6h0m.2-.7h0m.2-.6h0m.2-.7h0m.2-.6h0m.2-.7h0m.3-.7h0m.2-.6h0m.2-.7h0m.2-.6h0m.2-.7h0m.2-.6h0m.2-.6h0m.2-.6h0m.2-.6h0m.2-.5h0m.2-.5h0m.2-.5h0m.2-.5h0m.3-.4h0m.2-.4h0m.2-.4h0m.2-.3h0m.2-.3h0m.2-.3h0m.2-.2h0m.2-.2h0m.2-.2h0m.2-.1h0m.2 0h0m.2-.1h0m.2 0h0m.3 0h0m.2 .1h0m.2 .1h0m.2 .1h0m.2 .2h0m.2 .1h0m.2 .2h0m.2 .2h0m.2 .3h0m.2 .2h0m.2 .3h0m.2 .4h0m.2 .3h0m.2 .3h0m.3 .4h0m.2 .4h0m.2 .4h0m.2 .4h0m.2 .5h0m.2 .4h0m.2 .5h0m.2 .4h0m.2 .5h0m.2 .5h0m.2 .5h0m.2 .5h0m.2 .5h0m.3 .5h0m.2 .5h0m.2 .5h0m.2 .4h0m.2 .5h0m.2 .5h0m.2 .5h0m.2 .4h0m.2 .5h0m.2 .4h0m.2 .4h0m.2 .4h0m.2 .4h0m.3 .3h0m.2 .4h0m.2 .3h0m.2 .3h0m.2 .3h0m.2 .2h0m.2 .3h0m.2 .2h0m.2 .2h0m.2 .1h0m.2 .2h0m.2 0h0m.2 .1h0m.3 .1h0m.2 0h0m.2 0h0m.2 0h0m.2-.1h0m.2-.1h0m.2-.1h0m.2-.1h0m.2-.2h0m.2-.2h0m.2-.2h0m.2-.2h0m.2-.2h0m.3-.3h0m.2-.3h0m.2-.3h0m.2-.3h0m.2-.3h0m.2-.4h0m.2-.3h0m.2-.4h0m.2-.4h0m.2-.4h0m.2-.4h0m.2-.3h0m.2-.5h0m.3-.4h0m.2-.4h0m.2-.4h0m.2-.3h0m.2-.4h0m.2-.4h0m.2-.4h0m.2-.4h0m.2-.3h0m.2-.4h0m.2-.3h0m.2-.3h0m.2-.3h0m.2-.3h0m.3-.3h0m.2-.2h0m.2-.2h0m.2-.2h0m.2-.2h0m.2-.2h0m.2-.1h0m.2-.1h0m.2-.1h0m.2-.1h0m.2 0h0m.2 0h0m.2 0h0m.3 .1h0m.2 0h0m.2 .1h0m.2 .1h0m.2 .1h0m.2 .1h0m.2 .2h0m.2 .1h0m.2 .2h0m.2 .2h0m.2 .3h0m.2 .2h0m.2 .2h0m.3 .3h0m.2 .3h0m.2 .2h0m.2 .3h0m.2 .3h0m.2 .3h0m.2 .3h0m.2 .4h0m.2 .3h0m.2 .3h0m.2 .3h0m.2 .3h0m.2 .4h0m.3 .3h0m.2 .3h0m.2 .3h0m.2 .3h0m.2 .3h0m.2 .3h0m.2 .3h0m.2 .2h0m.2 .3h0m.2 .2h0m.2 .2h0m.2 .2h0m.2 .2h0m.3 .2h0m.2 .1h0m.2 .2h0m.2 .1h0m.2 .1h0m.2 .1h0m.2 0h0m.2 .1h0m.2 0h0m.2 0h0m.2 0h0m.2-.1h0m.2 0h0m.3-.1h0m.2-.1h0m.2-.1h0m.2-.1h0m.2-.1h0m.2-.2h0m.2-.1h0m.2-.2h0m.2-.2h0m.2-.2h0m.2-.2h0m.2-.2h0m.2-.2h0m.2-.3h0m.3-.2h0m.2-.3h0m.2-.3h0m.2-.2h0m.2-.3h0m.2-.3h0m.2-.3h0m.2-.2h0m.2-.3h0m.2-.3h0m.2-.3h0m.2-.3h0m.2-.3h0m.3-.3h0m.2-.2h0m.2-.3h0m.2-.3h0m.2-.2h0m.2-.3h0m.2-.2h0m.2-.2h0m.2-.3h0m.2-.2h0m.2-.2h0m.2-.2h0m.2-.1h0m.3-.2h0m.2-.1h0m.2-.1h0m.2-.2h0m.2-.1h0m.2 0h0m.2-.1h0m.2 0h0m.2-.1h0m.2 0h0m.2 0h0m.2 0h0m.2 .1h0m.3 0h0m.2 .1h0m.2 0h0m.2 .1h0m.2 .1h0m.2 .1h0m.2 .2h0m.2 .1h0m.2 .2h0m.2 .1h0m.2 .2h0m.2 .2h0m.2 .2h0m.3 .2h0m.2 .2h0m.2 .2h0m.2 .2h0m.2 .3h0m.2 .2h0m.2 .2h0m.2 .3h0m.2 .2h0m.2 .3h0m.2 .2h0m.2 .3h0m.2 .2h0m.3 .3h0m.2 .2h0m.2 .3h0m.2 .2h0m.2 .2h0m.2 .2h0m.2 .3h0m.2 .2h0m.2 .2h0m.2 .2h0m.2 .2h0m.2 .1h0m.2 .2h0m.3 .2h0m.2 .1h0m.2 .1h0m.2 .2h0m.2 .1h0m.2 0h0m.2 .1h0m.2 .1h0m.2 0h0m.2 .1h0m.2 0h0m.2 0h0m.2 0h0m.2 0h0m.3-.1h0m.2 0h0m.2-.1h0m.2-.1h0m.2 0h0m.2-.1h0m.2-.2h0m.2-.1h0m.2-.1h0m.2-.2h0m.2-.1h0m.2-.2h0m.2-.1h0m.3-.2h0m.2-.2h0m.2-.2h0m.2-.2h0m.2-.2h0m.2-.2h0m.2-.2h0m.2-.2h0m.2-.2h0m.2-.2h0m.2-.2h0m.2-.2h0m.2-.3h0m.3-.2h0m.2-.2h0m.2-.1h0m.2-.2h0m.2-.2h0m.2-.2h0m.2-.2h0m.2-.1h0m.2-.2h0m.2-.1h0m.2-.1h0m.2-.2h0m.2-.1h0m.3-.1h0m.2-.1h0m.2 0h0m.2-.1h0m.2 0h0m.2-.1h0m.2 0h0m.2 0h0m.2 0h0m.2 0h0m.2 0h0m.2 .1h0m.2 0h0m.3 .1h0m.2 0h0m.2 .1h0m.2 .1h0m.2 .1h0m.2 .1h0m.2 .1h0m.2 .1h0m.2 .1h0m.2 .1h0m.2 .2h0m.2 .1h0m.2 .1h0m.3 .2h0m.2 .1h0m.2 .2h0m.2 .1h0m.2 .2h0m.2 .2h0m.2 .1h0m.2 .2h0m.2 .1h0m.2 .2h0m.2 .2h0m.2 .1h0m.2 .2h0m.2 .2h0m.3 .1h0m.2 .2h0m.2 .1h0m.2 .2h0m.2 .1h0m.2 .1h0m.2 .1h0m.2 .2h0m.2 .1h0m.2 .1h0m.2 .1h0m.2 .1h0m.2 .1h0m.3 0h0m.2 .1h0m.2 .1h0m.2 0h0m.2 0h0m.2 .1h0m.2 0h0m.2 0h0m.2 0h0m.2 0h0m.2 0h0m.2-.1h0m.2 0h0m.3-.1h0m.2 0h0m.2-.1h0m.2-.1h0m.2-.1h0m.2-.1h0m.2-.1h0m.2-.1h0m.2-.1h0m.2-.1h0m.2-.1h0m.2-.2h0m.2-.1h0m.3-.2h0m.2-.1h0m.2-.2h0m.2-.1h0m.2-.2h0m.2-.2h0m.2-.1h0m.2-.2h0m.2-.2h0m.2-.1h0m.2-.2h0m.2-.1h0m.2-.2h0m.3-.2h0m.2-.1h0m.2-.2h0m.2-.1h0m.2-.1h0m.2-.2h0m.2-.1h0m.2-.1h0m.2-.1h0m.2-.1h0m.2-.1h0m.2-.1h0m.2 0h0m.3-.1h0m.2-.1h0m.2 0h0m.2 0h0m.2-.1h0m.2 0h0m.2 0h0m.2 0h0m.2 0h0m.2 0h0m.2 .1h0m.2 0h0m.2 0h0m.2 .1h0m.3 .1h0m.2 0h0m.2 .1h0m.2 .1h0m.2 .1h0m.2 0h0m.2 .1h0m.2 .2h0m.2 .1h0m.2 .1h0m.2 .1h0m.2 .1h0m.2 .1h0m.3 .2h0m.2 .1h0m.2 .1h0m.2 .2h0m.2 .1h0m.2 .2h0m.2 .1h0m.2 .1h0m.2 .2h0m.2 .1h0m.2 .2h0m.2 .1h0m.2 .1h0m.3 .2h0m.2 .1h0m.2 .1h0m.2 .2h0m.2 .1h0m.2 .1h0m.2 .1h0m.2 .1h0m.2 .1h0m.2 .1h0m.2 .1h0m.2 .1h0m.2 .1h0m.3 0h0m.2 .1h0m.2 0h0m.2 .1h0m.2 0h0m.2 .1h0m.2 0h0m.2 0h0m.2 0h0m.2 0h0m.2 0h0m.2 0h0m.2-.1h0m.3 0h0m.2 0h0m.2-.1h0m.2 0h0m.2-.1h0m.2 0h0m.2-.1h0m.2-.1h0m.2-.1h0m.2-.1h0m.2 0h0m.2-.1h0m.2-.1h0m.3-.1h0m.2-.2h0m.2-.1h0m.2-.1h0m.2-.1h0m.2-.1h0m.2-.1h0m.2-.1h0m.2-.2h0m.2-.1h0m.2-.1h0m.2-.1h0m.2-.1h0m.3-.1h0m.2-.2h0m.2-.1h0m.2-.1h0m.2-.1h0m.2-.1h0m.2-.1h0m.2 0h0m.2-.1h0m.2-.1h0m.2-.1h0m.2 0h0m.2-.1h0m.2 0h0m.3-.1h0m.2 0h0m.2-.1h0m.2 0h0m.2 0h0m.2 0h0m.2 0h0m.2 0h0m.2 0h0m.2 0h0m.2 .1h0m.2 0h0m.2 0h0m.3 .1h0m.2 0h0m.2 .1h0m.2 .1h0m.2 0h0m.2 .1h0m.2 .1h0m.2 .1h0m.2 0h0m.2 .1h0m.2 .1h0m.2 .1h0m.2 .1h0m.3 .1h0m.2 .1h0m.2 .1h0m.2 .1h0m.2 .1h0m.2 .1h0m.2 .1h0m.2 .1h0m.2 .1h0m.2 .1h0m.2 .1h0m.2 .1h0m.2 .1h0m.3 .1h0m.2 .1h0m.2 .1h0m.2 0h0m.2 .1h0m.2 .1h0m.2 0h0m.2 .1h0m.2 0h0m.2 .1h0m.2 0h0m.2 0h0m.2 .1h0m.3 0h0m.2 0h0m.2 0h0m.2 0h0m.2 0h0m.2 0h0m.2 0h0m.2-.1h0m.2 0h0m.2 0h0m.2-.1h0m.2 0h0m.2-.1h0m.3 0h0m.2-.1h0m.2 0h0m.2-.1h0m.2-.1h0m.2 0h0m.2-.1h0m.2-.1h0m.2-.1h0m.2 0h0m.2-.1h0m.2-.1h0m.2-.1h0m.2-.1h0m.3-.1h0m.2-.1h0m.2-.1h0m.2 0h0m.2-.1h0m.2-.1h0m.2-.1h0m.2-.1h0m.2-.1h0m.2-.1h0m.2 0h0m.2-.1h0m.2-.1h0m.3-.1h0m.2 0h0m.2-.1h0m.2 0h0m.2-.1h0m.2-.1h0m.2 0h0m.2 0h0m.2-.1h0m.2 0h0m.2 0h0m.2-.1h0m.2 0h0m.3 0h0m.2 0h0m.2 0h0m.2 0h0m.2 0h0m.2 0h0m.2 .1h0m.2 0h0m.2 0h0m.2 0h0m.2 .1h0m.2 0h0m.2 .1h0m.3 0h0m.2 .1h0m.2 .1h0m.2 0h0m.2 .1h0m.2 .1h0m.2 .1h0m.2 0h0m.2 .1h0m.2 .1h0m.2 .1h0m.2 .1h0m.2 .1h0m.3 0h0m.2 .1h0m.2 .1h0m.2 .1h0m.2 .1h0m.2 .1h0m.2 .1h0m.2 .1h0m.2 0h0m.2 .1h0m.2 .1h0m.2 .1h0m.2 0h0m.3 .1h0m.2 .1h0m.2 0h0m.2 .1h0m.2 0h0m.2 .1h0m.2 0h0m.2 .1h0m.2 0h0m.2 0h0m.2 .1h0m.2 0h0m.2 0h0m.2 0h0m.3 0h0m.2 0h0m.2 0h0m.2 0h0m.2 0h0m.2 0h0m.2-.1h0m.2 0h0m.2 0h0m.2 0h0m.2-.1h0m.2 0h0m.2-.1h0m.3 0h0m.2 0h0m.2-.1h0m.2 0h0m.2-.1h0m.2 0h0m.2-.1h0m.2 0h0m.2-.1h0m.2-.1h0m.2 0h0m.2-.1h0m.2-.1h0m.3 0h0m.2-.1h0m.2 0h0m.2-.1h0m.2-.1h0m.2 0h0m.2-.1h0m.2-.1h0m.2 0h0m.2-.1h0m.2-.1h0m.2 0h0m.2-.1h0m.3 0h0m.2-.1h0m.2-.1h0m.2 0h0m.2-.1h0m.2 0h0m.2-.1h0m.2 0h0m.2 0h0m.2-.1h0m.2 0h0m.2 0h0m.2-.1h0m.3 0h0m.2 0h0m.2 0h0m.2-.1h0m.2 0h0m.2 0h0m.2 0h0m.2 0h0m.2 0h0m.2 0h0m.2 0h0m.2 0h0m.2 0h0m.3 0h0m.2 0h0m.2 0h0m.2 0h0m.2 .1h0m.2 0h0m.2 0h0m.2 0h0m.2 0h0m.2 0h0m.2 0h0m.2 .1h0m.2 0h0m.3 0h0m.2 0h0m.2 0h0m.2 0h0m.2 .1h0m.2 0h0m.2 0h0m.2 0h0m.2 .1h0m.2 0h0m.2 0h0m.2 0h0m.2 .1h0m.2 0h0m.3 0h0m.2 0h0m.2 0h0m.2 .1h0m.2 0h0m.2 0h0m.2 0h0m.2 .1h0m.2 0h0m.2 0h0m.2 0h0m.2 .1h0m.2 0h0m.3 0h0m.2 0h0m.2 0h0m.2 0h0m.2 .1h0m.2 0h0m.2 0h0m.2 0h0m.2 0h0m.2 0h0m.2 0h0m.2 .1h0m.2 0h0m.3 0h0m.2 0h0m.2 0h0m.2 0h0m.2 0h0m.2 0h0m.2 0h0" fill="none" stroke="#000" stroke-width="2.4" stroke-linecap="round"/>
<polyline points="32.00,88.10 32.21,88.10 32.42,88.10 32.62,88.10 32.83,88.10 33.04,88.10 33.25,88.10 33.45,88.10 33.66,88.10 33.87,88.10 34.08,88.10 34.28,88.10 34.49,88.10 34.70,88.10 34.91,88.10 35.11,88.10 35.32,88.10 35.53,88.10 35.74,88.10 35.94,88.10 36.15,88.10 36.36,88.10 36.57,88.10 36.77,88.10 36.98,88.10 37.19,88.10 37.40,88.10 37.61,88.10 37.81,88.10 38.02,88.10 38.23,88.10 38.44,88.10 38.64,88.10 38.85,88.10 39.06,88.10 39.27,88.10 39.47,88.10 39.68,88.10 39.89,88.10 40.10,88.10 40.30,88.10 40.51,88.10 40.72,88.10 40.93,88.10 41.13,88.10 41.34,88.10 41.55,88.10 41.76,88.10 41.96,88.10 42.17,88.10 42.38,88.10 42.59,88.10 42.80,88.10 43.00,88.10 43.21,88.10 43.42,88.10 43.63,88.10 43.83,88.10 44.04,88.10 44.25,88.10 44.46,88.10 44.66,88.10 44.87,88.10 45.08,88.10 45.29,88.10 45.49,88.10 45.70,88.10 45.91,88.10 46.12,88.10 46.32,88.10 46.53,88.10 46.74,88.10 46.95,88.10 47.15,88.10 47.36,88.10 47.57,88.10 47.78,88.10 47.99,88.10 48.19,88.10 48.40,88.10 48.61,90.52 48.82,95.08 49.02,98.61 49.23,100.84 49.44,102.32 49.65,103.79 49.85,104.82 50.06,105.70 50.27,106.59 50.48,107.47 50.68,108.66 50.89,109.90 51.10,111.13 51.31,112.37 51.51,113.58 51.72,114.46 51.93,115.34 52.14,116.23 52.34,117.11 52.55,118.07 52.76,119.24 52.97,120.42 53.18,121.60 53.38,122.77 53.59,123.95 53.80,125.12 54.01,126.30 54.21,127.42 54.42,128.53 54.63,129.65 54.84,130.77 55.04,131.89 55.25,133.01 55.46,134.12 55.67,134.82 55.87,135.40 56.08,135.99 56.29,136.58 56.50,137.17 56.70,137.74 56.91,137.59 57.12,137.42 57.33,136.98 57.53,136.49 57.74,135.76 57.95,134.96 58.16,133.95 58.37,132.86 58.57,131.59 58.78,130.22 58.99,128.69 59.20,127.06 59.40,125.31 59.61,123.44 59.82,121.48 60.03,119.40 60.23,117.25 60.44,115.00 60.65,112.69 60.86,110.29 61.06,107.85 61.27,105.34 61.48,102.81 61.69,100.22 61.89,97.62 62.10,94.99 62.31,92.36 62.52,89.73 62.72,87.11 62.93,84.51 63.14,81.92 63.35,79.39 63.56,76.89 63.76,74.45 63.97,72.06 64.18,69.76 64.39,67.52 64.59,65.37 64.80,63.31 65.01,61.35 65.22,59.50 65.42,57.74 65.63,56.13 65.84,54.61 66.05,53.26 66.25,51.99 66.46,50.92 66.67,49.91 66.88,49.14 67.08,48.41 67.29,47.95 67.50,47.51 67.71,47.36 67.91,47.23 68.12,47.35 68.33,47.50 68.54,47.84 68.75,48.24 68.95,48.81 69.16,49.45 69.37,50.24 69.58,51.11 69.78,52.12 69.99,53.21 70.20,54.41 70.41,55.70 70.61,57.09 70.82,58.57 71.03,60.12 71.24,61.77 71.44,63.48 71.65,65.27 71.86,67.10 72.07,69.02 72.27,70.96 72.48,72.97 72.69,74.99 72.90,77.07 73.10,79.15 73.31,81.26 73.52,83.38 73.73,85.50 73.94,87.62 74.14,89.73 74.35,91.83 74.56,93.90 74.77,95.95 74.97,97.95 75.18,99.92 75.39,101.83 75.60,103.69 75.80,105.49 76.01,107.22 76.22,108.88 76.43,110.46 76.63,111.97 76.84,113.37 77.05,114.71 77.26,115.91 77.46,117.06 77.67,118.05 77.88,119.00 78.09,119.76 78.29,120.50 78.50,121.02 78.71,121.53 78.92,121.81 79.13,122.08 79.33,122.14 79.54,122.15 79.75,122.01 79.96,121.81 80.16,121.48 80.37,121.07 80.58,120.55 80.79,119.95 80.99,119.24 81.20,118.45 81.41,117.58 81.62,116.61 81.82,115.57 82.03,114.43 82.24,113.24 82.45,111.96 82.65,110.64 82.86,109.22 83.07,107.78 83.28,106.25 83.48,104.71 83.69,103.10 83.90,101.48 84.11,99.79 84.32,98.11 84.52,96.38 84.73,94.66 84.94,92.92 85.15,91.18 85.35,89.44 85.56,87.71 85.77,85.99 85.98,84.29 86.18,82.62 86.39,80.98 86.60,79.38 86.81,77.82 87.01,76.30 87.22,74.85 87.43,73.43 87.64,72.10 87.84,70.81 88.05,69.62 88.26,68.47 88.47,67.44 88.67,66.44 88.88,65.58 89.09,64.74 89.30,64.07 89.51,63.42 89.71,62.94 89.92,62.48 90.13,62.19 90.34,61.93 90.54,61.84 90.75,61.78 90.96,61.85 91.17,61.96 91.37,62.17 91.58,62.43 91.79,62.78 92.00,63.19 92.20,63.66 92.41,64.21 92.62,64.81 92.83,65.49 93.03,66.21 93.24,67.01 93.45,67.84 93.66,68.75 93.86,69.68 94.07,70.68 94.28,71.70 94.49,72.79 94.70,73.89 94.90,75.04 95.11,76.20 95.32,77.40 95.53,78.61 95.73,79.85 95.94,81.09 96.15,82.35 96.36,83.60 96.56,84.86 96.77,86.11 96.98,87.35 97.19,88.58 97.39,89.80 97.60,90.99 97.81,92.16 98.02,93.30 98.22,94.41 98.43,95.48 98.64,96.52 98.85,97.50 99.05,98.45 99.26,99.33 99.47,100.19 99.68,100.95 99.89,101.70 100.09,102.35 100.30,102.98 100.51,103.49 100.72,103.99 100.92,104.37 101.13,104.73 101.34,104.97 101.55,105.18 101.75,105.29 101.96,105.35 102.17,105.32 102.38,105.24 102.58,105.08 102.79,104.87 103.00,104.59 103.21,104.24 103.41,103.84 103.62,103.37 103.83,102.85 104.04,102.26 104.24,101.64 104.45,100.94 104.66,100.21 104.87,99.42 105.08,98.60 105.28,97.72 105.49,96.83 105.70,95.87 105.91,94.91 106.11,93.90 106.32,92.89 106.53,91.84 106.74,90.79 106.94,89.72 107.15,88.64 107.36,87.56 107.57,86.48 107.77,85.40 107.98,84.33 108.19,83.28 108.40,82.24 108.60,81.22 108.81,80.22 109.02,79.25 109.23,78.32 109.43,77.41 109.64,76.55 109.85,75.71 110.06,74.95 110.27,74.20 110.47,73.53 110.68,72.88 110.89,72.32 111.10,71.78 111.30,71.34 111.51,70.92 111.72,70.60 111.93,70.31 112.13,70.12 112.34,69.95 112.55,69.89 112.76,69.86 112.96,69.93 113.17,70.04 113.38,70.25 113.59,70.51 113.79,70.85 114.00,71.25 114.21,71.71 114.42,72.25 114.62,72.83 114.83,73.49 115.04,74.19 115.25,74.96 115.46,75.76 115.66,76.63 115.87,77.53 116.08,78.48 116.29,79.45 116.49,80.48 116.70,81.51 116.91,82.58 117.12,83.66 117.32,84.77 117.53,85.88 117.74,87.01 117.95,88.13 118.15,89.25 118.36,90.37 118.57,91.47 118.78,92.56 118.98,93.62 119.19,94.67 119.40,95.68 119.61,96.67 119.81,97.62 120.02,98.52 120.23,99.39 120.44,100.20 120.65,100.97 120.85,101.67 121.06,102.34 121.27,102.92 121.48,103.48 121.68,103.93 121.89,104.36 122.10,104.67 122.31,104.97 122.51,105.15 122.72,105.30 122.93,105.34 123.14,105.36 123.34,105.29 123.55,105.20 123.76,105.04 123.97,104.85 124.17,104.61 124.38,104.33 124.59,104.00 124.80,103.63 125.00,103.21 125.21,102.76 125.42,102.27 125.63,101.74 125.84,101.17 126.04,100.57 126.25,99.94 126.46,99.27 126.67,98.59 126.87,97.86 127.08,97.13 127.29,96.36 127.50,95.58 127.70,94.77 127.91,93.96 128.12,93.13 128.33,92.29 128.53,91.45 128.74,90.60 128.95,89.75 129.16,88.89 129.36,88.05 129.57,87.20 129.78,86.37 129.99,85.55 130.19,84.74 130.40,83.95 130.61,83.17 130.82,82.42 131.03,81.68 131.23,80.98 131.44,80.30 131.65,79.65 131.86,79.03 132.06,78.45 132.27,77.89 132.48,77.39 132.69,76.90 132.89,76.48 133.10,76.07 133.31,75.74 133.52,75.42 133.72,75.17 133.93,74.94 134.14,74.78 134.35,74.64 134.55,74.57 134.76,74.53 134.97,74.56 135.18,74.61 135.38,74.72 135.59,74.87 135.80,75.07 136.01,75.31 136.22,75.59 136.42,75.92 136.63,76.28 136.84,76.69 137.05,77.13 137.25,77.61 137.46,78.12 137.67,78.67 137.88,79.23 138.08,79.85 138.29,80.46 138.50,81.12 138.71,81.78 138.91,82.48 139.12,83.18 139.33,83.90 139.54,84.62 139.74,85.35 139.95,86.08 140.16,86.82 140.37,87.55 140.57,88.28 140.78,89.00 140.99,89.70 141.20,90.40 141.41,91.08 141.61,91.74 141.82,92.38 142.03,92.99 142.24,93.58 142.44,94.13 142.65,94.67 142.86,95.15 143.07,95.62 143.27,96.03 143.48,96.43 143.69,96.76 143.90,97.08 144.10,97.33 144.31,97.56 144.52,97.71 144.73,97.86 144.93,97.92 145.14,97.98 145.35,97.96 145.56,97.94 145.76,97.87 145.97,97.79 146.18,97.67 146.39,97.53 146.60,97.36 146.80,97.16 147.01,96.95 147.22,96.70 147.43,96.44 147.63,96.15 147.84,95.84 148.05,95.50 148.26,95.16 148.46,94.78 148.67,94.40 148.88,93.99 149.09,93.58 149.29,93.15 149.50,92.71 149.71,92.25 149.92,91.79 150.12,91.32 150.33,90.84 150.54,90.36 150.75,89.87 150.95,89.39 151.16,88.90 151.37,88.42 151.58,87.94 151.79,87.46 151.99,86.99 152.20,86.53 152.41,86.07 152.62,85.63 152.82,85.20 153.03,84.78 153.24,84.38 153.45,83.99 153.65,83.63 153.86,83.27 154.07,82.95 154.28,82.63 154.48,82.35 154.69,82.08 154.90,81.84 155.11,81.62 155.31,81.43 155.52,81.26 155.73,81.13 155.94,81.01 156.14,80.93 156.35,80.86 156.56,80.83 156.77,80.83 156.98,80.86 157.18,80.91 157.39,81.00 157.60,81.12 157.81,81.27 158.01,81.45 158.22,81.65 158.43,81.89 158.64,82.15 158.84,82.45 159.05,82.76 159.26,83.10 159.47,83.46 159.67,83.84 159.88,84.24 160.09,84.66 160.30,85.09 160.50,85.55 160.71,86.00 160.92,86.48 161.13,86.96 161.33,87.45 161.54,87.94 161.75,88.44 161.96,88.94 162.17,89.43 162.37,89.93 162.58,90.41 162.79,90.89 163.00,91.37 163.20,91.83 163.41,92.28 163.62,92.71 163.83,93.13 164.03,93.53 164.24,93.91 164.45,94.27 164.66,94.61 164.86,94.92 165.07,95.22 165.28,95.47 165.49,95.72 165.69,95.91 165.90,96.11 166.11,96.24 166.32,96.37 166.52,96.45 166.73,96.51 166.94,96.53 167.15,96.53 167.36,96.49 167.56,96.44 167.77,96.35 167.98,96.24 168.19,96.10 168.39,95.94 168.60,95.75 168.81,95.54 169.02,95.31 169.22,95.05 169.43,94.77 169.64,94.47 169.85,94.16 170.05,93.82 170.26,93.47 170.47,93.10 170.68,92.72 170.88,92.32 171.09,91.92 171.30,91.50 171.51,91.08 171.71,90.64 171.92,90.21 172.13,89.77 172.34,89.32 172.55,88.88 172.75,88.44 172.96,88.00 173.17,87.56 173.38,87.14 173.58,86.71 173.79,86.30 174.00,85.90 174.21,85.51 174.41,85.13 174.62,84.77 174.83,84.43 175.04,84.09 175.24,83.79 175.45,83.49 175.66,83.23 175.87,82.97 176.07,82.76 176.28,82.55 176.49,82.38 176.70,82.21 176.90,82.10 177.11,81.99 177.32,81.92 177.53,81.87 177.74,81.85 177.94,81.85 178.15,81.87 178.36,81.91 178.57,81.97 178.77,82.05 178.98,82.14 179.19,82.25 179.40,82.38 179.60,82.53 179.81,82.69 180.02,82.87 180.23,83.06 180.43,83.27 180.64,83.48 180.85,83.72 181.06,83.96 181.26,84.23 181.47,84.49 181.68,84.77 181.89,85.06 182.09,85.36 182.30,85.66 182.51,85.97 182.72,86.29 182.93,86.61 183.13,86.93 183.34,87.26 183.55,87.58 183.76,87.91 183.96,88.24 184.17,88.56 184.38,88.88 184.59,89.20 184.79,89.51 185.00,89.82 185.21,90.12 185.42,90.41 185.62,90.70 185.83,90.97 186.04,91.23 186.25,91.49 186.45,91.73 186.66,91.96 186.87,92.17 187.08,92.37 187.28,92.55 187.49,92.73 187.70,92.87 187.91,93.02 188.12,93.13 188.32,93.24 188.53,93.32 188.74,93.39 188.95,93.44 189.15,93.47 189.36,93.48 189.57,93.48 189.78,93.45 189.98,93.42 190.19,93.36 190.40,93.28 190.61,93.19 190.81,93.09 191.02,92.97 191.23,92.83 191.44,92.68 191.64,92.51 191.85,92.33 192.06,92.14 192.27,91.93 192.47,91.71 192.68,91.49 192.89,91.25 193.10,91.01 193.31,90.76 193.51,90.50 193.72,90.24 193.93,89.97 194.14,89.70 194.34,89.43 194.55,89.16 194.76,88.88 194.97,88.61 195.17,88.34 195.38,88.07 195.59,87.81 195.80,87.55 196.00,87.30 196.21,87.06 196.42,86.82 196.63,86.59 196.83,86.38 197.04,86.17 197.25,85.98 197.46,85.80 197.66,85.64 197.87,85.48 198.08,85.35 198.29,85.22 198.50,85.12 198.70,85.02 198.91,84.96 199.12,84.89 199.33,84.86 199.53,84.83 199.74,84.83 199.95,84.84 200.16,84.86 200.36,84.90 200.57,84.95 200.78,85.02 200.99,85.10 201.19,85.19 201.40,85.30 201.61,85.42 201.82,85.55 202.02,85.69 202.23,85.84 202.44,86.00 202.65,86.17 202.85,86.36 203.06,86.54 203.27,86.74 203.48,86.94 203.69,87.16 203.89,87.37 204.10,87.59 204.31,87.81 204.52,88.03 204.72,88.26 204.93,88.48 205.14,88.71 205.35,88.93 205.55,89.16 205.76,89.37 205.97,89.59 206.18,89.80 206.38,90.00 206.59,90.20 206.80,90.39 207.01,90.58 207.21,90.75 207.42,90.92 207.63,91.07 207.84,91.22 208.04,91.35 208.25,91.47 208.46,91.57 208.67,91.67 208.88,91.75 209.08,91.83 209.29,91.88 209.50,91.93 209.71,91.95 209.91,91.97 210.12,91.96 210.33,91.95 210.54,91.92 210.74,91.89 210.95,91.84 211.16,91.79 211.37,91.72 211.57,91.64 211.78,91.55 211.99,91.45 212.20,91.34 212.40,91.22 212.61,91.09 212.82,90.96 213.03,90.81 213.23,90.66 213.44,90.50 213.65,90.34 213.86,90.16 214.07,89.99 214.27,89.81 214.48,89.62 214.69,89.43 214.90,89.24 215.10,89.04 215.31,88.85 215.52,88.65 215.73,88.45 215.93,88.25 216.14,88.06 216.35,87.86 216.56,87.67 216.76,87.48 216.97,87.30 217.18,87.12 217.39,86.94 217.59,86.77 217.80,86.60 218.01,86.45 218.22,86.30 218.42,86.15 218.63,86.02 218.84,85.89 219.05,85.77 219.26,85.67 219.46,85.57 219.67,85.48 219.88,85.40 220.09,85.34 220.29,85.28 220.50,85.24 220.71,85.21 220.92,85.19 221.12,85.17 221.33,85.18 221.54,85.19 221.75,85.21 221.95,85.24 222.16,85.28 222.37,85.33 222.58,85.39 222.78,85.46 222.99,85.54 223.20,85.63 223.41,85.72 223.61,85.83 223.82,85.94 224.03,86.06 224.24,86.18 224.45,86.31 224.65,86.45 224.86,86.59 225.07,86.74 225.28,86.89 225.48,87.05 225.69,87.21 225.90,87.37 226.11,87.54 226.31,87.71 226.52,87.88 226.73,88.05 226.94,88.22 227.14,88.39 227.35,88.55 227.56,88.72 227.77,88.88 227.97,89.05 228.18,89.20 228.39,89.36 228.60,89.51 228.80,89.65 229.01,89.79 229.22,89.92 229.43,90.05 229.64,90.17 229.84,90.28 230.05,90.39 230.26,90.49 230.47,90.57 230.67,90.65 230.88,90.72 231.09,90.79 231.30,90.84 231.50,90.88 231.71,90.91 231.92,90.94 232.13,90.95 232.33,90.96 232.54,90.95 232.75,90.93 232.96,90.91 233.16,90.88 233.37,90.83 233.58,90.78 233.79,90.72 233.99,90.66 234.20,90.58 234.41,90.50 234.62,90.41 234.83,90.31 235.03,90.21 235.24,90.09 235.45,89.98 235.66,89.86 235.86,89.73 236.07,89.60 236.28,89.47 236.49,89.33 236.69,89.19 236.90,89.05 237.11,88.91 237.32,88.76 237.52,88.62 237.73,88.48 237.94,88.34 238.15,88.19 238.35,88.06 238.56,87.92 238.77,87.79 238.98,87.66 239.18,87.53 239.39,87.41 239.60,87.30 239.81,87.19 240.02,87.09 240.22,86.99 240.43,86.90 240.64,86.82 240.85,86.75 241.05,86.68 241.26,86.62 241.47,86.57 241.68,86.53 241.88,86.50 242.09,86.48 242.30,86.46 242.51,86.46 242.71,86.46 242.92,86.47 243.13,86.49 243.34,86.51 243.54,86.54 243.75,86.58 243.96,86.62 244.17,86.67 244.37,86.72 244.58,86.78 244.79,86.85 245.00,86.92 245.21,86.99 245.41,87.07 245.62,87.16 245.83,87.25 246.04,87.34 246.24,87.44 246.45,87.54 246.66,87.64 246.87,87.74 247.07,87.85 247.28,87.96 247.49,88.07 247.70,88.18 247.90,88.29 248.11,88.40 248.32,88.52 248.53,88.63 248.73,88.74 248.94,88.85 249.15,88.96 249.36,89.06 249.56,89.17 249.77,89.27 249.98,89.36 250.19,89.46 250.40,89.55 250.60,89.64 250.81,89.72 251.02,89.80 251.23,89.87 251.43,89.94 251.64,90.00 251.85,90.05 252.06,90.10 252.26,90.15 252.47,90.19 252.68,90.22 252.89,90.24 253.09,90.27 253.30,90.28 253.51,90.28 253.72,90.28 253.92,90.28 254.13,90.26 254.34,90.24 254.55,90.21 254.75,90.18 254.96,90.13 255.17,90.09 255.38,90.03 255.59,89.97 255.79,89.90 256.00,89.83 256.21,89.75 256.42,89.67 256.62,89.59 256.83,89.49 257.04,89.40 257.25,89.30 257.45,89.20 257.66,89.09 257.87,88.99 258.08,88.88 258.28,88.77 258.49,88.65 258.70,88.54 258.91,88.43 259.11,88.31 259.32,88.20 259.53,88.09 259.74,87.98 259.94,87.87 260.15,87.76 260.36,87.66 260.57,87.56 260.78,87.46 260.98,87.37 261.19,87.28 261.40,87.20 261.61,87.12 261.81,87.04 262.02,86.97 262.23,86.91 262.44,86.85 262.64,86.80 262.85,86.76 263.06,86.72 263.27,86.69 263.47,86.66 263.68,86.65 263.89,86.63 264.10,86.63 264.30,86.63 264.51,86.64 264.72,86.65 264.93,86.68 265.13,86.70 265.34,86.73 265.55,86.76 265.76,86.80 265.97,86.85 266.17,86.90 266.38,86.95 266.59,87.01 266.80,87.07 267.00,87.14 267.21,87.21 267.42,87.28 267.63,87.36 267.83,87.44 268.04,87.52 268.25,87.61 268.46,87.70 268.66,87.79 268.87,87.88 269.08,87.97 269.29,88.07 269.49,88.17 269.70,88.26 269.91,88.36 270.12,88.45 270.32,88.55 270.53,88.64 270.74,88.74 270.95,88.83 271.16,88.92 271.36,89.01 271.57,89.10 271.78,89.18 271.99,89.27 272.19,89.34 272.40,89.42 272.61,89.49 272.82,89.56 273.02,89.62 273.23,89.68 273.44,89.74 273.65,89.79 273.85,89.84 274.06,89.88 274.27,89.92 274.48,89.95 274.68,89.98 274.89,90.00 275.10,90.01 275.31,90.02 275.51,90.03 275.72,90.03 275.93,90.02 276.14,90.01 276.35,90.00 276.55,89.97 276.76,89.95 276.97,89.92 277.18,89.88 277.38,89.84 277.59,89.80 277.80,89.75 278.01,89.70 278.21,89.64 278.42,89.58 278.63,89.52 278.84,89.45 279.04,89.38 279.25,89.31 279.46,89.23 279.67,89.15 279.87,89.08 280.08,89.00 280.29,88.91 280.50,88.83 280.70,88.75 280.91,88.67 281.12,88.59 281.33,88.50 281.54,88.42 281.74,88.34 281.95,88.26 282.16,88.19 282.37,88.11 282.57,88.04 282.78,87.97 282.99,87.90 283.20,87.84 283.40,87.78 283.61,87.72 283.82,87.67 284.03,87.62 284.23,87.58 284.44,87.54 284.65,87.50 284.86,87.47 285.06,87.45 285.27,87.43 285.48,87.41 285.69,87.40 285.89,87.40 286.10,87.40 286.31,87.40 286.52,87.41 286.73,87.42 286.93,87.45 287.14,87.47 287.35,87.50 287.56,87.53 287.76,87.57 287.97,87.60 288.18,87.65 288.39,87.70 288.59,87.75 288.80,87.80 289.01,87.86 289.22,87.92 289.42,87.99 289.63,88.05 289.84,88.12 290.05,88.19 290.25,88.26 290.46,88.33 290.67,88.41 290.88,88.48 291.08,88.55 291.29,88.63 291.50,88.70 291.71,88.78 291.92,88.85 292.12,88.92 292.33,88.99 292.54,89.05 292.75,89.12 292.95,89.18 293.16,89.24 293.37,89.30 293.58,89.35 293.78,89.40 293.99,89.45 294.20,89.49 294.41,89.53 294.61,89.57 294.82,89.60 295.03,89.63 295.24,89.65 295.44,89.67 295.65,89.68 295.86,89.69 296.07,89.69 296.27,89.69 296.48,89.68 296.69,89.67 296.90,89.66 297.11,89.64 297.31,89.62 297.52,89.59 297.73,89.56 297.94,89.53 298.14,89.50 298.35,89.46 298.56,89.41 298.77,89.37 298.97,89.32 299.18,89.27 299.39,89.21 299.60,89.15 299.80,89.10 300.01,89.03 300.22,88.97 300.43,88.91 300.63,88.84 300.84,88.77 301.05,88.71 301.26,88.64 301.46,88.57 301.67,88.50 301.88,88.43 302.09,88.37 302.30,88.30 302.50,88.23 302.71,88.17 302.92,88.10 303.13,88.04 303.33,87.98 303.54,87.92 303.75,87.86 303.96,87.81 304.16,87.76 304.37,87.71 304.58,87.66 304.79,87.62 304.99,87.58 305.20,87.55 305.41,87.51 305.62,87.49 305.82,87.46 306.03,87.44 306.24,87.42 306.45,87.41 306.65,87.40 306.86,87.40 307.07,87.40 307.28,87.40 307.49,87.41 307.69,87.42 307.90,87.44 308.11,87.46 308.32,87.48 308.52,87.51 308.73,87.54 308.94,87.58 309.15,87.62 309.35,87.66 309.56,87.71 309.77,87.76 309.98,87.81 310.18,87.87 310.39,87.93 310.60,87.99 310.81,88.05 311.01,88.12 311.22,88.18 311.43,88.25 311.64,88.32 311.84,88.39 312.05,88.46 312.26,88.53 312.47,88.60 312.68,88.67 312.88,88.74 313.09,88.81 313.30,88.88 313.51,88.94 313.71,89.01 313.92,89.07 314.13,89.13 314.34,89.19 314.54,89.25 314.75,89.30 314.96,89.35 315.17,89.40 315.37,89.45 315.58,89.49 315.79,89.53 316.00,89.56 316.20,89.59 316.41,89.62 316.62,89.64 316.83,89.66 317.03,89.67 317.24,89.68 317.45,89.69 317.66,89.69 317.87,89.69 318.07,89.68 318.28,89.67 318.49,89.66 318.70,89.65 318.90,89.63 319.11,89.62 319.32,89.59 319.53,89.57 319.73,89.54 319.94,89.52 320.15,89.48 320.36,89.45 320.56,89.41 320.77,89.38 320.98,89.34 321.19,89.30 321.39,89.25 321.60,89.21 321.81,89.16 322.02,89.11 322.22,89.07 322.43,89.02 322.64,88.97 322.85,88.91 323.06,88.86 323.26,88.81 323.47,88.76 323.68,88.70 323.89,88.65 324.09,88.59 324.30,88.54 324.51,88.49 324.72,88.44 324.92,88.38 325.13,88.33 325.34,88.28 325.55,88.23 325.75,88.19 325.96,88.14 326.17,88.09 326.38,88.05 326.58,88.01 326.79,87.97 327.00,87.93 327.21,87.90 327.41,87.86 327.62,87.83 327.83,87.80 328.04,87.77 328.25,87.75 328.45,87.73 328.66,87.71 328.87,87.69 329.08,87.68 329.28,87.67 329.49,87.66 329.70,87.65 329.91,87.65 330.11,87.65 330.32,87.65 330.53,87.65 330.74,87.66 330.94,87.66 331.15,87.67 331.36,87.67 331.57,87.68 331.77,87.69 331.98,87.69 332.19,87.70 332.40,87.71 332.60,87.73 332.81,87.74 333.02,87.75 333.23,87.76 333.44,87.78 333.64,87.79 333.85,87.81 334.06,87.83 334.27,87.84 334.47,87.86 334.68,87.88 334.89,87.90 335.10,87.92 335.30,87.93 335.51,87.95 335.72,87.97 335.93,87.99 336.13,88.01 336.34,88.03 336.55,88.06 336.76,88.08 336.96,88.10 337.17,88.12 337.38,88.14 337.59,88.16 337.79,88.18 338.00,88.20 338.21,88.22 338.42,88.24 338.63,88.25 338.83,88.27 339.04,88.29 339.25,88.31 339.46,88.33 339.66,88.34 339.87,88.36 340.08,88.37 340.29,88.39 340.49,88.40 340.70,88.41 340.91,88.42 341.12,88.44 341.32,88.45 341.53,88.46 341.74,88.46 341.95,88.47 342.15,88.48 342.36,88.48 342.57,88.49 342.78,88.49 342.98,88.50 343.19,88.50 343.40,88.50" fill="none" stroke="#00f" stroke-width="0.6"/>
<path d="M32 88.1h0m.2 0h0m.2 0h0m.2 0h0m.2 0h0m.2 0h0m.2 0h0m.3 0h0m.2 0h0m.2 0h0m.2 0h0m.2 0h0m.2 0h0m.2 0h0m.2 0h0m.2 0h0m.2 0h0m.2 0h0m.2 0h0m.2 0h0m.3 0h0m.2 0h0m.2 0h0m.2 0h0m.2 0h0m.2 0h0m.2 0h0m.2 0h0m.2 0h0m.2 0h0m.2 0h0m.2 0h0m.2 0h0m.3 0h0m.2 0h0m.2 0h0m.2 0h0m.2 0h0m.2 0h0m.2 0h0m.2 0h0m.2 0h0m.2 0h0m.2 0h0m.2 0h0m.2 0h0m.2 0h0m.3 0h0m.2 0h0m.2 0h0m.2 0h0m.2 0h0m.2 0h0m.2 0h0m.2 0h0m.2 0h0m.2 0h0m.2 0h0m.2 0h0m.2 0h0m.3 0h0m.2 0h0m.2 0h0m.2 0h0m.2 0h0m.2 0h0m.2 0h0m.2 0h0m.2 0h0m.2 0h0m.2 0h0m.2 0h0m.2 0h0m.3 0h0m.2 0h0m.2 0h0m.2 0h0m.2 0h0m.2 0h0m.2 0h0m.2 2.4h0m.2 4.6h0m.2 3.5h0m.2 2.2h0m.2 1.5h0m.2 1.5h0m.3 1h0m.2 .9h0m.2 .9h0m.2 .9h0m.2 1.2h0m.2 1.2h0m.2 1.2h0m.2 1.3h0m.2 1.2h0m.2 .9h0m.2 .8h0m.2 .9h0m.2 .9h0m.3 1h0m.2 1.1h0m.2 1.2h0m.2 1.2h0m.2 1.2h0m.2 1.1h0m.2 1.2h0m.2 1.2h0m.2 1.1h0m.2 1.1h0m.2 1.2h0m.2 1.1h0m.2 1.1h0m.3 1.1h0m.2 1.1h0m.2 .7h0m.2 .6h0m.2 .6h0m.2 .6h0m.2 .6h0m.2 .5h0m.2-.1h0m.2-.2h0m.2-.4h0m.2-.5h0m.2-.7h0m.2-.8h0m.3-1h0m.2-1.1h0m.2-1.3h0m.2-1.4h0m.2-1.5h0m.2-1.6h0m.2-1.8h0m.2-1.9h0m.2-1.9h0m.2-2.1h0m.2-2.1h0m.2-2.3h0m.2-2.3h0m.3-2.4h0m.2-2.4h0m.2-2.6h0m.2-2.5h0m.2-2.6h0m.2-2.6h0m.2-2.6h0m.2-2.6h0m.2-2.7h0m.2-2.6h0m.2-2.6h0m.2-2.6h0m.2-2.5h0m.3-2.5h0m.2-2.4h0m.2-2.4h0m.2-2.3h0m.2-2.3h0m.2-2.1h0m.2-2.1h0m.2-2h0m.2-1.8h0m.2-1.8h0m.2-1.6h0m.2-1.5h0m.2-1.3h0m.3-1.3h0m.2-1.1h0m.2-1h0m.2-.8h0m.2-.7h0m.2-.5h0m.2-.4h0m.2-.1h0m.2-.2h0m.2 .1h0m.2 .2h0m.2 .3h0m.2 .4h0m.3 .6h0m.2 .6h0m.2 .8h0m.2 .9h0m.2 1h0m.2 1.1h0m.2 1.2h0m.2 1.3h0m.2 1.4h0m.2 1.5h0m.2 1.5h0m.2 1.7h0m.2 1.7h0m.3 1.8h0m.2 1.8h0m.2 1.9h0m.2 2h0m.2 2h0m.2 2h0m.2 2.1h0m.2 2h0m.2 2.2h0m.2 2.1h0m.2 2.1h0m.2 2.1h0m.2 2.1h0m.3 2.1h0m.2 2.1h0m.2 2h0m.2 2h0m.2 2h0m.2 1.9h0m.2 1.9h0m.2 1.8h0m.2 1.7h0m.2 1.7h0m.2 1.6h0m.2 1.5h0m.2 1.4h0m.2 1.3h0m.3 1.2h0m.2 1.2h0m.2 .9h0m.2 1h0m.2 .8h0m.2 .7h0m.2 .5h0m.2 .5h0m.2 .3h0m.2 .3h0m.2 0h0m.2 .1h0m.2-.2h0m.3-.2h0m.2-.3h0m.2-.4h0m.2-.5h0m.2-.6h0m.2-.8h0m.2-.7h0m.2-.9h0m.2-1h0m.2-1h0m.2-1.2h0m.2-1.2h0m.2-1.2h0m.3-1.4h0m.2-1.4h0m.2-1.4h0m.2-1.5h0m.2-1.6h0m.2-1.6h0m.2-1.6h0m.2-1.7h0m.2-1.7h0m.2-1.7h0m.2-1.7h0m.2-1.8h0m.2-1.7h0m.3-1.8h0m.2-1.7h0m.2-1.7h0m.2-1.7h0m.2-1.7h0m.2-1.6h0m.2-1.6h0m.2-1.6h0m.2-1.5h0m.2-1.5h0m.2-1.4h0m.2-1.3h0m.2-1.3h0m.3-1.2h0m.2-1.1h0m.2-1.1h0m.2-1h0m.2-.8h0m.2-.9h0m.2-.6h0m.2-.7h0m.2-.5h0m.2-.4h0m.2-.3h0m.2-.3h0m.2-.1h0m.3 0h0m.2 0h0m.2 .2h0m.2 .2h0m.2 .2h0m.2 .4h0m.2 .4h0m.2 .5h0m.2 .5h0m.2 .6h0m.2 .7h0m.2 .7h0m.2 .8h0m.2 .8h0m.3 .9h0m.2 1h0m.2 1h0m.2 1h0m.2 1.1h0m.2 1.1h0m.2 1.1h0m.2 1.2h0m.2 1.2h0m.2 1.2h0m.2 1.3h0m.2 1.2h0m.2 1.2h0m.3 1.3h0m.2 1.3h0m.2 1.2h0m.2 1.3h0m.2 1.2h0m.2 1.2h0m.2 1.2h0m.2 1.2h0m.2 1.1h0m.2 1.1h0m.2 1.1h0m.2 1h0m.2 1h0m.3 1h0m.2 .8h0m.2 .9h0m.2 .8h0m.2 .7h0m.2 .6h0m.2 .7h0m.2 .5h0m.2 .5h0m.2 .4h0m.2 .3h0m.2 .3h0m.2 .2h0m.3 .1h0m.2 .1h0m.2-.1h0m.2-.1h0m.2-.1h0m.2-.2h0m.2-.3h0m.2-.4h0m.2-.4h0m.2-.4h0m.2-.5h0m.2-.6h0m.2-.7h0m.3-.7h0m.2-.7h0m.2-.8h0m.2-.8h0m.2-.9h0m.2-.9h0m.2-.9h0m.2-1h0m.2-1h0m.2-1h0m.2-1.1h0m.2-1h0m.2-1.1h0m.3-1.1h0m.2-1h0m.2-1.1h0m.2-1.1h0m.2-1.1h0m.2-1h0m.2-1.1h0m.2-1h0m.2-1h0m.2-.9h0m.2-1h0m.2-.9h0m.2-.9h0m.2-.8h0m.3-.8h0m.2-.7h0m.2-.7h0m.2-.6h0m.2-.6h0m.2-.5h0m.2-.5h0m.2-.4h0m.2-.3h0m.2-.3h0m.2-.2h0m.2-.1h0m.2-.1h0m.3 0h0m.2 0h0m.2 .1h0m.2 .2h0m.2 .3h0m.2 .3h0m.2 .4h0m.2 .5h0m.2 .5h0m.2 .6h0m.2 .7h0m.2 .7h0m.2 .8h0m.3 .8h0m.2 .8h0m.2 .9h0m.2 1h0m.2 1h0m.2 1h0m.2 1h0m.2 1.1h0m.2 1.1h0m.2 1.1h0m.2 1.1h0m.2 1.1h0m.2 1.1h0m.3 1.1h0m.2 1.2h0m.2 1.1h0m.2 1.1h0m.2 1h0m.2 1.1h0m.2 1h0m.2 1h0m.2 .9h0m.2 .9h0m.2 .9h0m.2 .8h0m.2 .8h0m.3 .7h0m.2 .6h0m.2 .6h0m.2 .6h0m.2 .4h0m.2 .5h0m.2 .3h0m.2 .3h0m.2 .1h0m.2 .2h0m.2 0h0m.2 .1h0m.2-.1h0m.3-.1h0m.2-.2h0m.2-.1h0m.2-.3h0m.2-.3h0m.2-.3h0m.2-.4h0m.2-.4h0m.2-.4h0m.2-.5h0m.2-.6h0m.2-.5h0m.2-.6h0m.3-.7h0m.2-.6h0m.2-.7h0m.2-.7h0m.2-.8h0m.2-.7h0m.2-.8h0m.2-.8h0m.2-.8h0m.2-.9h0m.2-.8h0m.2-.9h0m.2-.8h0m.2-.9h0m.3-.8h0m.2-.9h0m.2-.8h0m.2-.8h0m.2-.9h0m.2-.8h0m.2-.8h0m.2-.7h0m.2-.8h0m.2-.7h0m.2-.7h0m.2-.7h0m.2-.6h0m.3-.7h0m.2-.5h0m.2-.6h0m.2-.5h0m.2-.5h0m.2-.4h0m.2-.4h0m.2-.4h0m.2-.3h0m.2-.2h0m.2-.3h0m.2-.1h0m.2-.2h0m.3 0h0m.2-.1h0m.2 .1h0m.2 0h0m.2 .1h0m.2 .2h0m.2 .2h0m.2 .2h0m.2 .3h0m.2 .3h0m.2 .4h0m.2 .4h0m.2 .4h0m.3 .5h0m.2 .5h0m.2 .6h0m.2 .5h0m.2 .6h0m.2 .7h0m.2 .6h0m.2 .7h0m.2 .7h0m.2 .7h0m.2 .7h0m.2 .7h0m.2 .7h0m.3 .8h0m.2 .7h0m.2 .7h0m.2 .8h0m.2 .7h0m.2 .7h0m.2 .7h0m.2 .7h0m.2 .6h0m.2 .7h0m.2 .6h0m.2 .6h0m.2 .5h0m.3 .6h0m.2 .5h0m.2 .4h0m.2 .4h0m.2 .4h0m.2 .4h0m.2 .3h0m.2 .2h0m.2 .3h0m.2 .1h0m.2 .2h0m.2 0h0m.2 .1h0m.2 0h0m.3-.1h0m.2 0h0m.2-.1h0m.2-.1h0m.2-.2h0m.2-.1h0m.2-.2h0m.2-.3h0m.2-.2h0m.2-.3h0m.2-.3h0m.2-.3h0m.2-.3h0m.3-.3h0m.2-.4h0m.2-.4h0m.2-.4h0m.2-.4h0m.2-.5h0m.2-.4h0m.2-.5h0m.2-.4h0m.2-.5h0m.2-.5h0m.2-.4h0m.2-.5h0m.3-.5h0m.2-.5h0m.2-.5h0m.2-.5h0m.2-.4h0m.2-.5h0m.2-.5h0m.2-.4h0m.2-.5h0m.2-.4h0m.2-.4h0m.2-.4h0m.2-.4h0m.3-.4h0m.2-.3h0m.2-.4h0m.2-.3h0m.2-.2h0m.2-.3h0m.2-.3h0m.2-.2h0m.2-.2h0m.2-.1h0m.2-.2h0m.2-.1h0m.2-.1h0m.3 0h0m.2-.1h0m.2 0h0m.2 .1h0m.2 0h0m.2 .1h0m.2 .1h0m.2 .2h0m.2 .1h0m.2 .3h0m.2 .2h0m.2 .3h0m.2 .2h0m.3 .4h0m.2 .3h0m.2 .4h0m.2 .3h0m.2 .4h0m.2 .5h0m.2 .4h0m.2 .4h0m.2 .5h0m.2 .5h0m.2 .5h0m.2 .5h0m.2 .4h0m.2 .5h0m.3 .5h0m.2 .5h0m.2 .5h0m.2 .5h0m.2 .5h0m.2 .5h0m.2 .4h0m.2 .5h0m.2 .4h0m.2 .4h0m.2 .4h0m.2 .4h0m.2 .4h0m.3 .3h0m.2 .3h0m.2 .3h0m.2 .3h0m.2 .2h0m.2 .2h0m.2 .2h0m.2 .1h0m.2 .2h0m.2 0h0m.2 .1h0m.2 0h0m.2 0h0m.3 0h0m.2-.1h0m.2-.1h0m.2-.1h0m.2-.1h0m.2-.2h0m.2-.1h0m.2-.3h0m.2-.2h0m.2-.3h0m.2-.2h0m.2-.3h0m.2-.3h0m.3-.4h0m.2-.3h0m.2-.4h0m.2-.4h0m.2-.4h0m.2-.4h0m.2-.4h0m.2-.4h0m.2-.5h0m.2-.4h0m.2-.4h0m.2-.5h0m.2-.4h0m.3-.5h0m.2-.4h0m.2-.4h0m.2-.5h0m.2-.4h0m.2-.4h0m.2-.4h0m.2-.4h0m.2-.4h0m.2-.3h0m.2-.4h0m.2-.3h0m.2-.3h0m.3-.3h0m.2-.3h0m.2-.2h0m.2-.2h0m.2-.3h0m.2-.1h0m.2-.2h0m.2-.1h0m.2-.1h0m.2-.1h0m.2 0h0m.2 0h0m.2-.1h0m.3 .1h0m.2 0h0m.2 .1h0m.2 0h0m.2 .1h0m.2 .2h0m.2 .1h0m.2 .1h0m.2 .2h0m.2 .2h0m.2 .2h0m.2 .2h0m.2 .2h0m.2 .2h0m.3 .3h0m.2 .2h0m.2 .3h0m.2 .3h0m.2 .3h0m.2 .3h0m.2 .3h0m.2 .3h0m.2 .3h0m.2 .3h0m.2 .3h0m.2 .4h0m.2 .3h0m.3 .3h0m.2 .3h0m.2 .4h0m.2 .3h0m.2 .3h0m.2 .3h0m.2 .3h0m.2 .3h0m.2 .3h0m.2 .3h0m.2 .3h0m.2 .2h0m.2 .3h0m.3 .2h0m.2 .3h0m.2 .2h0m.2 .2h0m.2 .2h0m.2 .1h0m.2 .2h0m.2 .1h0m.2 .1h0m.2 .1h0m.2 .1h0m.2 .1h0m.2 0h0m.3 .1h0m.2 0h0m.2 0h0m.2 0h0m.2-.1h0m.2 0h0m.2-.1h0m.2-.1h0m.2-.1h0m.2-.1h0m.2-.2h0m.2-.1h0m.2-.2h0m.3-.2h0m.2-.2h0m.2-.2h0m.2-.2h0m.2-.2h0m.2-.2h0m.2-.3h0m.2-.2h0m.2-.3h0m.2-.3h0m.2-.2h0m.2-.3h0m.2-.3h0m.3-.2h0m.2-.3h0m.2-.3h0m.2-.3h0m.2-.2h0m.2-.3h0m.2-.2h0m.2-.3h0m.2-.2h0m.2-.3h0m.2-.2h0m.2-.2h0m.2-.2h0m.2-.2h0m.3-.2h0m.2-.2h0m.2-.1h0m.2-.2h0m.2-.1h0m.2-.1h0m.2-.1h0m.2 0h0m.2-.1h0m.2 0h0m.2-.1h0m.2 0h0m.2 0h0m.3 .1h0m.2 0h0m.2 .1h0m.2 0h0m.2 .1h0m.2 .1h0m.2 .1h0m.2 .1h0m.2 .1h0m.2 .2h0m.2 .1h0m.2 .2h0m.2 .2h0m.3 .2h0m.2 .1h0m.2 .2h0m.2 .2h0m.2 .3h0m.2 .2h0m.2 .2h0m.2 .2h0m.2 .2h0m.2 .3h0m.2 .2h0m.2 .2h0m.2 .2h0m.3 .3h0m.2 .2h0m.2 .2h0m.2 .2h0m.2 .2h0m.2 .2h0m.2 .2h0m.2 .2h0m.2 .2h0m.2 .1h0m.2 .2h0m.2 .1h0m.2 .1h0m.3 .2h0m.2 .1h0m.2 .1h0m.2 .1h0m.2 0h0m.2 .1h0m.2 0h0m.2 0h0m.2 .1h0m.2 0h0m.2 0h0m.2-.1h0m.2 0h0m.3-.1h0m.2 0h0m.2-.1h0m.2-.1h0m.2-.1h0m.2-.1h0m.2-.1h0m.2-.1h0m.2-.1h0m.2-.1h0m.2-.2h0m.2-.1h0m.2-.2h0m.2-.2h0m.3-.1h0m.2-.2h0m.2-.2h0m.2-.2h0m.2-.2h0m.2-.2h0m.2-.2h0m.2-.2h0m.2-.2h0m.2-.1h0m.2-.2h0m.2-.2h0m.2-.2h0m.3-.2h0m.2-.2h0m.2-.2h0m.2-.2h0m.2-.2h0m.2-.1h0m.2-.2h0m.2-.2h0m.2-.1h0m.2-.1h0m.2-.2h0m.2-.1h0m.2-.1h0m.3-.1h0m.2-.1h0m.2-.1h0m.2-.1h0m.2-.1h0m.2 0h0m.2-.1h0m.2 0h0m.2 0h0m.2 0h0m.2 0h0m.2 0h0m.2 0h0m.3 0h0m.2 .1h0m.2 0h0m.2 .1h0m.2 .1h0m.2 0h0m.2 .1h0m.2 .1h0m.2 .1h0m.2 .1h0m.2 .2h0m.2 .1h0m.2 .1h0m.3 .1h0m.2 .2h0m.2 .1h0m.2 .2h0m.2 .2h0m.2 .1h0m.2 .2h0m.2 .1h0m.2 .2h0m.2 .2h0m.2 .1h0m.2 .2h0m.2 .2h0m.3 .2h0m.2 .1h0m.2 .2h0m.2 .1h0m.2 .2h0m.2 .2h0m.2 .1h0m.2 .2h0m.2 .1h0m.2 .1h0m.2 .2h0m.2 .1h0m.2 .1h0m.3 .1h0m.2 .1h0m.2 .1h0m.2 .1h0m.2 0h0m.2 .1h0m.2 0h0m.2 .1h0m.2 0h0m.2 0h0m.2 0h0m.2 .1h0m.2-.1h0m.2 0h0m.3 0h0m.2 0h0m.2-.1h0m.2 0h0m.2-.1h0m.2 0h0m.2-.1h0m.2-.1h0m.2-.1h0m.2-.1h0m.2-.1h0m.2-.1h0m.2-.1h0m.3-.1h0m.2-.2h0m.2-.1h0m.2-.1h0m.2-.2h0m.2-.1h0m.2-.1h0m.2-.2h0m.2-.1h0m.2-.2h0m.2-.1h0m.2-.2h0m.2-.1h0m.3-.1h0m.2-.2h0m.2-.1h0m.2-.1h0m.2-.2h0m.2-.1h0m.2-.1h0m.2-.1h0m.2-.1h0m.2-.1h0m.2-.1h0m.2-.1h0m.2-.1h0m.3 0h0m.2-.1h0m.2 0h0m.2-.1h0m.2 0h0m.2 0h0m.2 0h0m.2 0h0m.2 0h0m.2 0h0m.2 0h0m.2 0h0m.2 0h0m.3 .1h0m.2 0h0m.2 .1h0m.2 0h0m.2 .1h0m.2 0h0m.2 .1h0m.2 .1h0m.2 .1h0m.2 .1h0m.2 0h0m.2 .1h0m.2 .1h0m.3 .1h0m.2 .1h0m.2 .1h0m.2 .1h0m.2 .2h0m.2 .1h0m.2 .1h0m.2 .1h0m.2 .1h0m.2 .1h0m.2 .1h0m.2 .1h0m.2 .1h0m.2 .2h0m.3 .1h0m.2 .1h0m.2 .1h0m.2 .1h0m.2 .1h0m.2 0h0m.2 .1h0m.2 .1h0m.2 .1h0m.2 .1h0m.2 0h0m.2 .1h0m.2 .1h0m.3 0h0m.2 0h0m.2 .1h0m.2 0h0m.2 0h0m.2 .1h0m.2 0h0m.2 0h0m.2 0h0m.2 0h0m.2 0h0m.2-.1h0m.2 0h0m.3 0h0m.2-.1h0m.2 0h0m.2-.1h0m.2 0h0m.2-.1h0m.2-.1h0m.2 0h0m.2-.1h0m.2-.1h0m.2-.1h0m.2-.1h0m.2-.1h0m.3-.1h0m.2-.1h0m.2-.1h0m.2-.1h0m.2-.1h0m.2-.1h0m.2-.2h0m.2-.1h0m.2-.1h0m.2-.1h0m.2-.1h0m.2-.1h0m.2-.1h0m.3-.1h0m.2-.1h0m.2-.1h0m.2-.1h0m.2-.1h0m.2-.1h0m.2-.1h0m.2-.1h0m.2-.1h0m.2 0h0m.2-.1h0m.2 0h0m.2-.1h0m.3 0h0m.2-.1h0m.2 0h0m.2 0h0m.2-.1h0m.2 0h0m.2 0h0m.2 0h0m.2 0h0m.2 .1h0m.2 0h0m.2 0h0m.2 0h0m.2 .1h0m.3 0h0m.2 0h0m.2 .1h0m.2 .1h0m.2 0h0m.2 .1h0m.2 0h0m.2 .1h0m.2 .1h0m.2 .1h0m.2 0h0m.2 .1h0m.2 .1h0m.3 .1h0m.2 .1h0m.2 .1h0m.2 .1h0m.2 .1h0m.2 .1h0m.2 .1h0m.2 .1h0m.2 .1h0m.2 0h0m.2 .1h0m.2 .1h0m.2 .1h0m.3 .1h0m.2 .1h0m.2 .1h0m.2 .1h0m.2 .1h0m.2 0h0m.2 .1h0m.2 .1h0m.2 .1h0m.2 0h0m.2 .1h0m.2 0h0m.2 .1h0m.3 0h0m.2 .1h0m.2 0h0m.2 0h0m.2 .1h0m.2 0h0m.2 0h0m.2 0h0m.2 0h0m.2 0h0m.2 0h0m.2 0h0m.2 0h0m.3 0h0m.2-.1h0m.2 0h0m.2 0h0m.2-.1h0m.2 0h0m.2-.1h0m.2 0h0m.2-.1h0m.2 0h0m.2-.1h0m.2-.1h0m.2 0h0m.3-.1h0m.2-.1h0m.2 0h0m.2-.1h0m.2-.1h0m.2-.1h0m.2-.1h0m.2 0h0m.2-.1h0m.2-.1h0m.2-.1h0m.2-.1h0m.2-.1h0m.3 0h0m.2-.1h0m.2-.1h0m.2-.1h0m.2 0h0m.2-.1h0m.2-.1h0m.2 0h0m.2-.1h0m.2 0h0m.2-.1h0m.2 0h0m.2-.1h0m.2 0h0m.3 0h0m.2-.1h0m.2 0h0m.2 0h0m.2 0h0m.2 0h0m.2 0h0m.2 0h0m.2 0h0m.2 0h0m.2 0h0m.2 .1h0m.2 0h0m.3 0h0m.2 .1h0m.2 0h0m.2 0h0m.2 .1h0m.2 0h0m.2 .1h0m.2 .1h0m.2 0h0m.2 .1h0m.2 .1h0m.2 0h0m.2 .1h0m.3 .1h0m.2 0h0m.2 .1h0m.2 .1h0m.2 .1h0m.2 0h0m.2 .1h0m.2 .1h0m.2 0h0m.2 .1h0m.2 .1h0m.2 .1h0m.2 0h0m.3 .1h0m.2 0h0m.2 .1h0m.2 .1h0m.2 0h0m.2 .1h0m.2 0h0m.2 0h0m.2 .1h0m.2 0h0m.2 0h0m.2 0h0m.2 .1h0m.3 0h0m.2 0h0m.2 0h0m.2 0h0m.2 0h0m.2 0h0m.2 0h0m.2-.1h0m.2 0h0m.2 0h0m.2 0h0m.2-.1h0m.2 0h0m.3 0h0m.2-.1h0m.2 0h0m.2-.1h0m.2 0h0m.2-.1h0m.2 0h0m.2-.1h0m.2-.1h0m.2 0h0m.2-.1h0m.2-.1h0m.2 0h0m.2-.1h0m.3-.1h0m.2 0h0m.2-.1h0m.2-.1h0m.2 0h0m.2-.1h0m.2-.1h0m.2 0h0m.2-.1h0m.2-.1h0m.2 0h0m.2-.1h0m.2 0h0m.3-.1h0m.2 0h0m.2-.1h0m.2 0h0m.2-.1h0m.2 0h0m.2-.1h0m.2 0h0m.2 0h0m.2 0h0m.2-.1h0m.2 0h0m.2 0h0m.3 0h0m.2 0h0m.2 0h0m.2 0h0m.2 0h0m.2 0h0m.2 0h0m.2 .1h0m.2 0h0m.2 0h0m.2 0h0m.2 .1h0m.2 0h0m.3 .1h0m.2 0h0m.2 .1h0m.2 0h0m.2 .1h0m.2 0h0m.2 .1h0m.2 .1h0m.2 0h0m.2 .1h0m.2 .1h0m.2 0h0m.2 .1h0m.3 .1h0m.2 0h0m.2 .1h0m.2 .1h0m.2 0h0m.2 .1h0m.2 .1h0m.2 0h0m.2 .1h0m.2 .1h0m.2 0h0m.2 .1h0m.2 0h0m.3 .1h0m.2 .1h0m.2 0h0m.2 0h0m.2 .1h0m.2 0h0m.2 .1h0m.2 0h0m.2 0h0m.2 0h0m.2 .1h0m.2 0h0m.2 0h0m.2 0h0m.3 0h0m.2 0h0m.2 0h0m.2 0h0m.2 0h0m.2 0h0m.2-.1h0m.2 0h0m.2 0h0m.2 0h0m.2-.1h0m.2 0h0m.2 0h0m.3 0h0m.2-.1h0m.2 0h0m.2-.1h0m.2 0h0m.2 0h0m.2-.1h0m.2 0h0m.2-.1h0m.2 0h0m.2-.1h0m.2 0h0m.2-.1h0m.3 0h0m.2-.1h0m.2 0h0m.2-.1h0m.2-.1h0m.2 0h0m.2-.1h0m.2 0h0m.2-.1h0m.2 0h0m.2-.1h0m.2 0h0m.2-.1h0m.3 0h0m.2-.1h0m.2 0h0m.2 0h0m.2-.1h0m.2 0h0m.2-.1h0m.2 0h0m.2 0h0m.2-.1h0m.2 0h0m.2 0h0m.2-.1h0m.3 0h0m.2 0h0m.2 0h0m.2 0h0m.2 0h0m.2 0h0m.2 0h0m.2 0h0m.2 0h0m.2 0h0m.2 0h0m.2 0h0m.2 0h0m.3 0h0m.2 0h0m.2 0h0m.2 0h0m.2 0h0m.2 0h0m.2 0h0m.2 0h0m.2 0h0m.2 .1h0m.2 0h0m.2 0h0m.2 0h0m.3 0h0m.2 0h0m.2 0h0m.2 .1h0m.2 0h0m.2 0h0m.2 0h0m.2 0h0m.2 .1h0m.2 0h0m.2 0h0m.2 0h0m.2 0h0m.2 .1h0m.3 0h0m.2 0h0m.2 0h0m.2 0h0m.2 .1h0m.2 0h0m.2 0h0m.2 0h0m.2 0h0m.2 .1h0m.2 0h0m.2 0h0m.2 0h0m.3 0h0m.2 0h0m.2 .1h0m.2 0h0m.2 0h0m.2 0h0m.2 0h0m.2 0h0m.2 0h0m.2 0h0m.2 .1h0m.2 0h0m.2 0h0m.3 0h0m.2 0h0m.2 0h0m.2 0h0m.2 0h0m.2 0h0m.2 0h0" fill="none" stroke="#00f" stroke-width="2.28" stroke-linecap="round"/>
<polyline points="32.00,88.10 32.21,88.10 32.42,88.10 32.62,88.10 32.83,88.10 33.04,88.10 33.25,88.10 33.45,88.10 33.66,88.10 33.87,88.10 34.08,88.10 34.28,88.10 34.49,88.10 34.70,88.10 34.91,88.10 35.11,88.10 35.32,88.10 35.53,88.10 35.74,88.10 35.94,88.10 36.15,88.10 36.36,88.10 36.57,88.10 36.77,88.10 36.98,88.10 37.19,88.10 37.40,88.10 37.61,88.10 37.81,88.10 38.02,88.10 38.23,88.10 38.44,88.10 38.64,88.10 38.85,88.10 39.06,88.10 39.27,88.10 39.47,88.10 39.68,88.10 39.89,88.10 40.10,88.10 40.30,88.10 40.51,88.10 40.72,88.10 40.93,88.10 41.13,88.10 41.34,88.10 41.55,88.10 41.76,88.10 41.96,88.10 42.17,88.10 42.38,88.10 42.59,88.10 42.80,88.10 43.00,88.10 43.21,88.10 43.42,88.10 43.63,88.10 43.83,88.10 44.04,88.10 44.25,88.10 44.46,88.10 44.66,88.10 44.87,88.10 45.08,88.10 45.29,88.10 45.49,88.10 45.70,88.10 45.91,88.10 46.12,88.10 46.32,88.10 46.53,88.10 46.74,88.10 46.95,88.10 47.15,88.10 47.36,88.10 47.57,88.10 47.78,88.10 47.99,88.10 48.19,88.10 48.40,88.10 48.61,88.29 48.82,88.67 49.02,90.91 49.23,87.39 49.44,90.69 49.65,90.43 49.85,91.15 50.06,91.87 50.27,90.45 50.48,92.27 50.68,91.91 50.89,95.88 51.10,93.15 51.31,83.60 51.51,92.49 51.72,92.04 51.93,91.59 52.14,92.11 52.34,92.85 52.55,92.15 52.76,93.17 52.97,92.08 53.18,92.23 53.38,93.55 53.59,92.59 53.80,91.60 54.01,91.83 54.21,92.38 54.42,93.53 54.63,91.44 54.84,91.36 55.04,92.38 55.25,90.58 55.46,91.01 55.67,91.96 55.87,91.59 56.08,91.04 56.29,91.46 56.50,88.21 56.70,91.57 56.91,89.68 57.12,88.94 57.33,90.59 57.53,90.86 57.74,89.73 57.95,89.06 58.16,89.94 58.37,89.77 58.57,90.98 58.78,90.28 58.99,89.68 59.20,90.40 59.40,89.11 59.61,88.36 59.82,89.62 60.03,89.50 60.23,88.63 60.44,87.96 60.65,88.72 60.86,86.11 61.06,88.82 61.27,88.49 61.48,86.42 61.69,87.79 61.89,86.71 62.10,88.14 62.31,85.55 62.52,86.47 62.72,87.85 62.93,88.17 63.14,87.04 63.35,86.96 63.56,86.88 63.76,86.79 63.97,86.71 64.18,86.67 64.39,86.63 64.59,86.60 64.80,86.56 65.01,86.52 65.22,86.49 65.42,86.45 65.63,86.42 65.84,86.38 66.05,86.35 66.25,86.33 66.46,86.30 66.67,86.30 66.88,86.30 67.08,86.30 67.29,86.30 67.50,86.30 67.71,86.30 67.91,86.30 68.12,86.30 68.33,86.30 68.54,86.30 68.75,86.30 68.95,86.30 69.16,86.30 69.37,86.30 69.58,86.30 69.78,86.30 69.99,86.30 70.20,86.33 70.41,86.37 70.61,86.40 70.82,86.44 71.03,86.47 71.24,86.51 71.44,86.54 71.65,86.58 71.86,86.61 72.07,86.64 72.27,86.68 72.48,86.71 72.69,86.75 72.90,86.78 73.10,86.83 73.31,86.90 73.52,86.97 73.73,87.04 73.94,87.11 74.14,87.18 74.35,87.25 74.56,87.32 74.77,87.39 74.97,87.46 75.18,87.53 75.39,87.60 75.60,87.67 75.80,87.73 76.01,87.80 76.22,87.86 76.43,87.91 76.63,87.97 76.84,88.02 77.05,88.08 77.26,88.14 77.46,88.19 77.67,88.25 77.88,88.30 78.09,88.36 78.29,88.41 78.50,88.47 78.71,88.52 78.92,88.58 79.13,88.61 79.33,88.63 79.54,88.65 79.75,88.67 79.96,88.70 80.16,88.72 80.37,88.74 80.58,88.76 80.79,88.78 80.99,88.80 81.20,88.82 81.41,88.84 81.62,88.86 81.82,88.88 82.03,88.90 82.24,88.92 82.45,88.94 82.65,88.97 82.86,88.99 83.07,88.99 83.28,88.96 83.48,88.94 83.69,88.91 83.90,88.88 84.11,88.85 84.32,88.82 84.52,88.80 84.73,88.77 84.94,88.74 85.15,88.71 85.35,88.69 85.56,88.66 85.77,88.63 85.98,88.60 86.18,88.56 86.39,88.52 86.60,88.48 86.81,88.44 87.01,88.40 87.22,88.36 87.43,88.31 87.64,88.27 87.84,88.23 88.05,88.19 88.26,88.15 88.47,88.11 88.67,88.07 88.88,88.02 89.09,87.98 89.30,87.94 89.51,87.90 89.71,87.86 89.92,87.82 90.13,87.79 90.34,87.77 90.54,87.76 90.75,87.74 90.96,87.72 91.17,87.71 91.37,87.69 91.58,87.67 91.79,87.66 92.00,87.64 92.20,87.62 92.41,87.61 92.62,87.59 92.83,87.57 93.03,87.56 93.24,87.54 93.45,87.52 93.66,87.51 93.86,87.49 94.07,87.47 94.28,87.46 94.49,87.44 94.70,87.42 94.90,87.41 95.11,87.40 95.32,87.41 95.53,87.42 95.73,87.43 95.94,87.44 96.15,87.45 96.36,87.45 96.56,87.46 96.77,87.47 96.98,87.48 97.19,87.49 97.39,87.50 97.60,87.50 97.81,87.51 98.02,87.52 98.22,87.53 98.43,87.54 98.64,87.55 98.85,87.55 99.05,87.56 99.26,87.57 99.47,87.58 99.68,87.59 99.89,87.60 100.09,87.86 100.30,88.43 100.51,88.99 100.72,89.02 100.92,89.06 101.13,89.08 101.34,89.10 101.55,89.12 101.75,89.13 101.96,89.13 102.17,89.13 102.38,89.12 102.58,89.11 102.79,89.09 103.00,89.08 103.21,89.04 103.41,89.01 103.62,88.98 103.83,88.94 104.04,88.89 104.24,88.84 104.45,88.79 104.66,88.73 104.87,88.67 105.08,88.61 105.28,88.54 105.49,88.47 105.70,88.39 105.91,88.32 106.11,88.24 106.32,88.16 106.53,88.08 106.74,88.00 106.94,87.91 107.15,87.83 107.36,87.75 107.57,87.66 107.77,87.58 107.98,87.49 108.19,87.41 108.40,87.33 108.60,87.25 108.81,87.17 109.02,87.10 109.23,87.02 109.43,86.95 109.64,86.89 109.85,86.82 110.06,86.76 110.27,86.70 110.47,86.65 110.68,86.60 110.89,86.56 111.10,86.52 111.30,86.48 111.51,86.45 111.72,86.42 111.93,86.40 112.13,86.38 112.34,86.37 112.55,86.36 112.76,86.37 112.96,86.37 113.17,86.38 113.38,86.39 113.59,86.41 113.79,86.44 114.00,86.46 114.21,86.50 114.42,86.54 114.62,86.58 114.83,86.63 115.04,86.68 115.25,86.74 115.46,86.80 115.66,86.86 115.87,86.93 116.08,86.99 116.29,87.07 116.49,87.14 116.70,87.22 116.91,87.29 117.12,87.37 117.32,87.45 117.53,87.54 117.74,87.62 117.95,87.70 118.15,87.78 118.36,87.86 118.57,87.94 118.78,88.02 118.98,88.10 119.19,88.18 119.40,88.25 119.61,88.32 119.81,88.39 120.02,88.46 120.23,88.52 120.44,88.58 120.65,88.64 120.85,88.69 121.06,88.74 121.27,88.78 121.48,88.82 121.68,88.85 121.89,88.88 122.10,88.91 122.31,88.93 122.51,88.95 122.72,88.95 122.93,88.96 123.14,88.96 123.34,88.95 123.55,88.95 123.76,88.93 123.97,88.92 124.17,88.90 124.38,88.88 124.59,88.86 124.80,88.83 125.00,88.80 125.21,88.77 125.42,88.73 125.63,88.69 125.84,88.65 126.04,88.60 126.25,88.56 126.46,88.51 126.67,88.46 126.87,88.40 127.08,88.35 127.29,88.29 127.50,88.23 127.70,88.17 127.91,88.11 128.12,88.05 128.33,87.99 128.53,87.93 128.74,87.86 128.95,87.80 129.16,87.74 129.36,87.67 129.57,87.61 129.78,87.55 129.99,87.49 130.19,87.43 130.40,87.37 130.61,87.31 130.82,87.26 131.03,87.20 131.23,87.15 131.44,87.10 131.65,87.05 131.86,87.00 132.06,86.96 132.27,86.92 132.48,86.88 132.69,86.85 132.89,86.81 133.10,86.78 133.31,86.76 133.52,86.74 133.72,86.72 133.93,86.70 134.14,86.69 134.35,86.68 134.55,86.67 134.76,86.67 134.97,86.67 135.18,86.68 135.38,86.69 135.59,86.70 135.80,86.71 136.01,86.73 136.22,86.75 136.42,86.78 136.63,86.81 136.84,86.84 137.05,86.87 137.25,86.91 137.46,86.95 137.67,86.99 137.88,87.04 138.08,87.08 138.29,87.13 138.50,87.18 138.71,87.23 138.91,87.29 139.12,87.34 139.33,87.40 139.54,87.45 139.74,87.51 139.95,87.57 140.16,87.62 140.37,87.68 140.57,87.74 140.78,87.79 140.99,87.85 141.20,87.90 141.41,87.95 141.61,88.01 141.82,88.05 142.03,88.10 142.24,88.15 142.44,88.19 142.65,88.23 142.86,88.27 143.07,88.31 143.27,88.34 143.48,88.37 143.69,88.40 143.90,88.42 144.10,88.44 144.31,88.46 144.52,88.47 144.73,88.48 144.93,88.49 145.14,88.49 145.35,88.49 145.56,88.49 145.76,88.48 145.97,88.48 146.18,88.47 146.39,88.46 146.60,88.44 146.80,88.43 147.01,88.41 147.22,88.39 147.43,88.37 147.63,88.35 147.84,88.32 148.05,88.30 148.26,88.27 148.46,88.24 148.67,88.21 148.88,88.18 149.09,88.15 149.29,88.12 149.50,88.08 149.71,88.05 149.92,88.01 150.12,87.97 150.33,87.94 150.54,87.90 150.75,87.86 150.95,87.82 151.16,87.78 151.37,87.75 151.58,87.71 151.79,87.67 151.99,87.63 152.20,87.60 152.41,87.56 152.62,87.53 152.82,87.50 153.03,87.46 153.24,87.43 153.45,87.40 153.65,87.37 153.86,87.35 154.07,87.32 154.28,87.30 154.48,87.27 154.69,87.25 154.90,87.23 155.11,87.22 155.31,87.20 155.52,87.19 155.73,87.18 155.94,87.17 156.14,87.16 156.35,87.16 156.56,87.15 156.77,87.16 156.98,87.16 157.18,87.16 157.39,87.17 157.60,87.18 157.81,87.19 158.01,87.20 158.22,87.22 158.43,87.23 158.64,87.26 158.84,87.28 159.05,87.30 159.26,87.33 159.47,87.35 159.67,87.38 159.88,87.41 160.09,87.44 160.30,87.48 160.50,87.51 160.71,87.54 160.92,87.58 161.13,87.62 161.33,87.65 161.54,87.69 161.75,87.73 161.96,87.76 162.17,87.80 162.37,87.84 162.58,87.87 162.79,87.91 163.00,87.94 163.20,87.98 163.41,88.01 163.62,88.04 163.83,88.08 164.03,88.11 164.24,88.13 164.45,88.16 164.66,88.19 164.86,88.21 165.07,88.23 165.28,88.25 165.49,88.27 165.69,88.28 165.90,88.30 166.11,88.31 166.32,88.32 166.52,88.33 166.73,88.33 166.94,88.33 167.15,88.33 167.36,88.33 167.56,88.32 167.77,88.32 167.98,88.31 168.19,88.30 168.39,88.29 168.60,88.27 168.81,88.26 169.02,88.24 169.22,88.22 169.43,88.20 169.64,88.18 169.85,88.15 170.05,88.13 170.26,88.10 170.47,88.08 170.68,88.05 170.88,88.02 171.09,87.99 171.30,87.96 171.51,87.92 171.71,87.89 171.92,87.86 172.13,87.83 172.34,87.79 172.55,87.76 172.75,87.73 172.96,87.69 173.17,87.66 173.38,87.63 173.58,87.60 173.79,87.57 174.00,87.54 174.21,87.51 174.41,87.48 174.62,87.45 174.83,87.43 175.04,87.40 175.24,87.38 175.45,87.36 175.66,87.34 175.87,87.32 176.07,87.30 176.28,87.29 176.49,87.27 176.70,87.26 176.90,87.25 177.11,87.25 177.32,87.24 177.53,87.24 177.74,87.24 177.94,87.24 178.15,87.24 178.36,87.24 178.57,87.24 178.77,87.25 178.98,87.26 179.19,87.27 179.40,87.28 179.60,87.29 179.81,87.30 180.02,87.31 180.23,87.33 180.43,87.34 180.64,87.36 180.85,87.38 181.06,87.40 181.26,87.42 181.47,87.44 181.68,87.46 181.89,87.48 182.09,87.50 182.30,87.53 182.51,87.55 182.72,87.57 182.93,87.60 183.13,87.62 183.34,87.65 183.55,87.67 183.76,87.70 183.96,87.72 184.17,87.74 184.38,87.77 184.59,87.79 184.79,87.82 185.00,87.84 185.21,87.86 185.42,87.88 185.62,87.91 185.83,87.93 186.04,87.95 186.25,87.97 186.45,87.99 186.66,88.00 186.87,88.02 187.08,88.03 187.28,88.05 187.49,88.06 187.70,88.07 187.91,88.08 188.12,88.09 188.32,88.10 188.53,88.11 188.74,88.11 188.95,88.12 189.15,88.12 189.36,88.12 189.57,88.12 189.78,88.12 189.98,88.11 190.19,88.11 190.40,88.10 190.61,88.10 190.81,88.09 191.02,88.08 191.23,88.07 191.44,88.06 191.64,88.05 191.85,88.04 192.06,88.02 192.27,88.01 192.47,87.99 192.68,87.97 192.89,87.96 193.10,87.94 193.31,87.92 193.51,87.90 193.72,87.88 193.93,87.86 194.14,87.84 194.34,87.82 194.55,87.80 194.76,87.78 194.97,87.76 195.17,87.75 195.38,87.73 195.59,87.71 195.80,87.69 196.00,87.67 196.21,87.65 196.42,87.63 196.63,87.62 196.83,87.60 197.04,87.59 197.25,87.57 197.46,87.56 197.66,87.55 197.87,87.54 198.08,87.53 198.29,87.52 198.50,87.51 198.70,87.50 198.91,87.50 199.12,87.50 199.33,87.49 199.53,87.49 199.74,87.49 199.95,87.49 200.16,87.49 200.36,87.50 200.57,87.50 200.78,87.51 200.99,87.52 201.19,87.53 201.40,87.54 201.61,87.55 201.82,87.56 202.02,87.57 202.23,87.58 202.44,87.59 202.65,87.61 202.85,87.62 203.06,87.64 203.27,87.65 203.48,87.67 203.69,87.69 203.89,87.70 204.10,87.72 204.31,87.74 204.52,87.76 204.72,87.77 204.93,87.79 205.14,87.81 205.35,87.83 205.55,87.85 205.76,87.86 205.97,87.88 206.18,87.90 206.38,87.91 206.59,87.93 206.80,87.94 207.01,87.96 207.21,87.97 207.42,87.99 207.63,88.00 207.84,88.01 208.04,88.02 208.25,88.03 208.46,88.04 208.67,88.05 208.88,88.06 209.08,88.07 209.29,88.07 209.50,88.08 209.71,88.08 209.91,88.08 210.12,88.08 210.33,88.08 210.54,88.08 210.74,88.08 210.95,88.08 211.16,88.08 211.37,88.08 211.57,88.07 211.78,88.07 211.99,88.06 212.20,88.06 212.40,88.05 212.61,88.04 212.82,88.03 213.03,88.02 213.23,88.01 213.44,88.00 213.65,87.99 213.86,87.98 214.07,87.97 214.27,87.96 214.48,87.95 214.69,87.94 214.90,87.93 215.10,87.91 215.31,87.90 215.52,87.89 215.73,87.87 215.93,87.86 216.14,87.85 216.35,87.84 216.56,87.82 216.76,87.81 216.97,87.80 217.18,87.79 217.39,87.78 217.59,87.77 217.80,87.76 218.01,87.75 218.22,87.74 218.42,87.73 218.63,87.72 218.84,87.71 219.05,87.71 219.26,87.70 219.46,87.70 219.67,87.69 219.88,87.69 220.09,87.68 220.29,87.68 220.50,87.68 220.71,87.68 220.92,87.68 221.12,87.68 221.33,87.68 221.54,87.69 221.75,87.69 221.95,87.69 222.16,87.70 222.37,87.70 222.58,87.71 222.78,87.72 222.99,87.72 223.20,87.73 223.41,87.74 223.61,87.75 223.82,87.76 224.03,87.77 224.24,87.78 224.45,87.79 224.65,87.80 224.86,87.82 225.07,87.83 225.28,87.84 225.48,87.86 225.69,87.87 225.90,87.88 226.11,87.90 226.31,87.91 226.52,87.92 226.73,87.94 226.94,87.95 227.14,87.97 227.35,87.98 227.56,88.00 227.77,88.01 227.97,88.02 228.18,88.04 228.39,88.05 228.60,88.06 228.80,88.07 229.01,88.09 229.22,88.10 229.43,88.11 229.64,88.12 229.84,88.13 230.05,88.14 230.26,88.15 230.47,88.16 230.67,88.16 230.88,88.17 231.09,88.18 231.30,88.18 231.50,88.19 231.71,88.19 231.92,88.19 232.13,88.20 232.33,88.20 232.54,88.20 232.75,88.20 232.96,88.20 233.16,88.20 233.37,88.20 233.58,88.20 233.79,88.19 233.99,88.19 234.20,88.19 234.41,88.18 234.62,88.18 234.83,88.17 235.03,88.17 235.24,88.16 235.45,88.15 235.66,88.15 235.86,88.14 236.07,88.13 236.28,88.12 236.49,88.11 236.69,88.11 236.90,88.10 237.11,88.09 237.32,88.08 237.52,88.07 237.73,88.06 237.94,88.05 238.15,88.05 238.35,88.04 238.56,88.03 238.77,88.02 238.98,88.01 239.18,88.01 239.39,88.00 239.60,87.99 239.81,87.99 240.02,87.98 240.22,87.97 240.43,87.97 240.64,87.97 240.85,87.96 241.05,87.96 241.26,87.96 241.47,87.95 241.68,87.95 241.88,87.95 242.09,87.95 242.30,87.95 242.51,87.95 242.71,87.96 242.92,87.96 243.13,87.96 243.34,87.97 243.54,87.97 243.75,87.97 243.96,87.98 244.17,87.98 244.37,87.99 244.58,88.00 244.79,88.00 245.00,88.01 245.21,88.02 245.41,88.02 245.62,88.03 245.83,88.04 246.04,88.05 246.24,88.06 246.45,88.07 246.66,88.08 246.87,88.08 247.07,88.09 247.28,88.10 247.49,88.11 247.70,88.12 247.90,88.13 248.11,88.14 248.32,88.15 248.53,88.16 248.73,88.17 248.94,88.18 249.15,88.19 249.36,88.20 249.56,88.21 249.77,88.22 249.98,88.23 250.19,88.24 250.40,88.25 250.60,88.25 250.81,88.26 251.02,88.27 251.23,88.28 251.43,88.28 251.64,88.29 251.85,88.29 252.06,88.30 252.26,88.31 252.47,88.31 252.68,88.31 252.89,88.32 253.09,88.32 253.30,88.32 253.51,88.33 253.72,88.33 253.92,88.33 254.13,88.33 254.34,88.33 254.55,88.33 254.75,88.33 254.96,88.33 255.17,88.32 255.38,88.32 255.59,88.32 255.79,88.32 256.00,88.31 256.21,88.31 256.42,88.31 256.62,88.30 256.83,88.30 257.04,88.29 257.25,88.29 257.45,88.28 257.66,88.27 257.87,88.27 258.08,88.26 258.28,88.26 258.49,88.25 258.70,88.24 258.91,88.24 259.11,88.23 259.32,88.22 259.53,88.22 259.74,88.21 259.94,88.20 260.15,88.20 260.36,88.19 260.57,88.18 260.78,88.18 260.98,88.17 261.19,88.16 261.40,88.16 261.61,88.15 261.81,88.15 262.02,88.14 262.23,88.14 262.44,88.13 262.64,88.13 262.85,88.13 263.06,88.13 263.27,88.12 263.47,88.12 263.68,88.12 263.89,88.12 264.10,88.12 264.30,88.12 264.51,88.12 264.72,88.12 264.93,88.12 265.13,88.13 265.34,88.13 265.55,88.13 265.76,88.13 265.97,88.14 266.17,88.14 266.38,88.15 266.59,88.15 266.80,88.16 267.00,88.16 267.21,88.17 267.42,88.17 267.63,88.18 267.83,88.18 268.04,88.19 268.25,88.20 268.46,88.20 268.66,88.21 268.87,88.22 269.08,88.22 269.29,88.23 269.49,88.24 269.70,88.25 269.91,88.25 270.12,88.26 270.32,88.27 270.53,88.28 270.74,88.28 270.95,88.29 271.16,88.30 271.36,88.30 271.57,88.31 271.78,88.32 271.99,88.32 272.19,88.33 272.40,88.33 272.61,88.34 272.82,88.35 273.02,88.35 273.23,88.36 273.44,88.36 273.65,88.36 273.85,88.37 274.06,88.37 274.27,88.37 274.48,88.38 274.68,88.38 274.89,88.38 275.10,88.38 275.31,88.38 275.51,88.38 275.72,88.38 275.93,88.38 276.14,88.38 276.35,88.38 276.55,88.38 276.76,88.38 276.97,88.38 277.18,88.37 277.38,88.37 277.59,88.37 277.80,88.37 278.01,88.36 278.21,88.36 278.42,88.35 278.63,88.35 278.84,88.35 279.04,88.34 279.25,88.34 279.46,88.33 279.67,88.33 279.87,88.32 280.08,88.31 280.29,88.31 280.50,88.30 280.70,88.30 280.91,88.29 281.12,88.29 281.33,88.28 281.54,88.27 281.74,88.27 281.95,88.26 282.16,88.26 282.37,88.25 282.57,88.25 282.78,88.24 282.99,88.24 283.20,88.24 283.40,88.23 283.61,88.23 283.82,88.22 284.03,88.22 284.23,88.22 284.44,88.21 284.65,88.21 284.86,88.21 285.06,88.21 285.27,88.21 285.48,88.21 285.69,88.21 285.89,88.21 286.10,88.21 286.31,88.21 286.52,88.21 286.73,88.21 286.93,88.21 287.14,88.21 287.35,88.22 287.56,88.22 287.76,88.22 287.97,88.22 288.18,88.23 288.39,88.23 288.59,88.23 288.80,88.24 289.01,88.24 289.22,88.25 289.42,88.25 289.63,88.26 289.84,88.26 290.05,88.27 290.25,88.27 290.46,88.28 290.67,88.28 290.88,88.29 291.08,88.29 291.29,88.30 291.50,88.30 291.71,88.31 291.92,88.31 292.12,88.32 292.33,88.32 292.54,88.33 292.75,88.33 292.95,88.34 293.16,88.34 293.37,88.35 293.58,88.35 293.78,88.36 293.99,88.36 294.20,88.36 294.41,88.37 294.61,88.37 294.82,88.37 295.03,88.37 295.24,88.37 295.44,88.38 295.65,88.38 295.86,88.38 296.07,88.38 296.27,88.38 296.48,88.38 296.69,88.38 296.90,88.38 297.11,88.38 297.31,88.37 297.52,88.37 297.73,88.37 297.94,88.37 298.14,88.37 298.35,88.37 298.56,88.36 298.77,88.36 298.97,88.36 299.18,88.35 299.39,88.35 299.60,88.35 299.80,88.34 300.01,88.34 300.22,88.34 300.43,88.33 300.63,88.33 300.84,88.32 301.05,88.32 301.26,88.32 301.46,88.31 301.67,88.31 301.88,88.30 302.09,88.30 302.30,88.29 302.50,88.29 302.71,88.29 302.92,88.28 303.13,88.28 303.33,88.28 303.54,88.27 303.75,88.27 303.96,88.26 304.16,88.26 304.37,88.26 304.58,88.26 304.79,88.25 304.99,88.25 305.20,88.25 305.41,88.25 305.62,88.25 305.82,88.24 306.03,88.24 306.24,88.24 306.45,88.24 306.65,88.24 306.86,88.24 307.07,88.24 307.28,88.24 307.49,88.24 307.69,88.24 307.90,88.25 308.11,88.25 308.32,88.25 308.52,88.25 308.73,88.25 308.94,88.26 309.15,88.26 309.35,88.26 309.56,88.26 309.77,88.27 309.98,88.27 310.18,88.28 310.39,88.28 310.60,88.28 310.81,88.29 311.01,88.29 311.22,88.30 311.43,88.30 311.64,88.31 311.84,88.31 312.05,88.31 312.26,88.32 312.47,88.32 312.68,88.33 312.88,88.33 313.09,88.34 313.30,88.34 313.51,88.35 313.71,88.35 313.92,88.36 314.13,88.36 314.34,88.36 314.54,88.37 314.75,88.37 314.96,88.37 315.17,88.38 315.37,88.38 315.58,88.38 315.79,88.39 316.00,88.39 316.20,88.39 316.41,88.39 316.62,88.39 316.83,88.40 317.03,88.40 317.24,88.40 317.45,88.40 317.66,88.40 317.87,88.40 318.07,88.40 318.28,88.40 318.49,88.40 318.70,88.40 318.90,88.40 319.11,88.40 319.32,88.40 319.53,88.39 319.73,88.39 319.94,88.39 320.15,88.39 320.36,88.39 320.56,88.39 320.77,88.38 320.98,88.38 321.19,88.38 321.39,88.38 321.60,88.37 321.81,88.37 322.02,88.37 322.22,88.37 322.43,88.36 322.64,88.36 322.85,88.36 323.06,88.35 323.26,88.35 323.47,88.35 323.68,88.35 323.89,88.34 324.09,88.34 324.30,88.34 324.51,88.33 324.72,88.33 324.92,88.33 325.13,88.32 325.34,88.32 325.55,88.32 325.75,88.32 325.96,88.31 326.17,88.31 326.38,88.31 326.58,88.31 326.79,88.30 327.00,88.30 327.21,88.30 327.41,88.30 327.62,88.30 327.83,88.30 328.04,88.29 328.25,88.29 328.45,88.29 328.66,88.29 328.87,88.29 329.08,88.29 329.28,88.29 329.49,88.29 329.70,88.29 329.91,88.29 330.11,88.29 330.32,88.29 330.53,88.29 330.74,88.29 330.94,88.29 331.15,88.29 331.36,88.29 331.57,88.29 331.77,88.29 331.98,88.29 332.19,88.29 332.40,88.30 332.60,88.30 332.81,88.30 333.02,88.30 333.23,88.30 333.44,88.30 333.64,88.30 333.85,88.30 334.06,88.30 334.27,88.31 334.47,88.31 334.68,88.31 334.89,88.31 335.10,88.31 335.30,88.31 335.51,88.31 335.72,88.31 335.93,88.32 336.13,88.32 336.34,88.32 336.55,88.32 336.76,88.32 336.96,88.32 337.17,88.32 337.38,88.33 337.59,88.33 337.79,88.33 338.00,88.33 338.21,88.33 338.42,88.33 338.63,88.33 338.83,88.34 339.04,88.34 339.25,88.34 339.46,88.34 339.66,88.34 339.87,88.34 340.08,88.34 340.29,88.34 340.49,88.35 340.70,88.35 340.91,88.35 341.12,88.35 341.32,88.35 341.53,88.35 341.74,88.35 341.95,88.35 342.15,88.35 342.36,88.35 342.57,88.35 342.78,88.35 342.98,88.35 343.19,88.35 343.40,88.35" fill="none" stroke="#f00" stroke-width="0.6" stroke-dasharray="0.8,1.8"/>
<path d="M32 88.1h0m.2 0h0m.2 0h0m.2 0h0m.2 0h0m.2 0h0m.2 0h0m.3 0h0m.2 0h0m.2 0h0m.2 0h0m.2 0h0m.2 0h0m.2 0h0m.2 0h0m.2 0h0m.2 0h0m.2 0h0m.2 0h0m.2 0h0m.3 0h0m.2 0h0m.2 0h0m.2 0h0m.2 0h0m.2 0h0m.2 0h0m.2 0h0m.2 0h0m.2 0h0m.2 0h0m.2 0h0m.2 0h0m.3 0h0m.2 0h0m.2 0h0m.2 0h0m.2 0h0m.2 0h0m.2 0h0m.2 0h0m.2 0h0m.2 0h0m.2 0h0m.2 0h0m.2 0h0m.2 0h0m.3 0h0m.2 0h0m.2 0h0m.2 0h0m.2 0h0m.2 0h0m.2 0h0m.2 0h0m.2 0h0m.2 0h0m.2 0h0m.2 0h0m.2 0h0m.3 0h0m.2 0h0m.2 0h0m.2 0h0m.2 0h0m.2 0h0m.2 0h0m.2 0h0m.2 0h0m.2 0h0m.2 0h0m.2 0h0m.2 0h0m.3 0h0m.2 0h0m.2 0h0m.2 0h0m.2 0h0m.2 0h0m.2 0h0m.2 .2h0m.2 .4h0m.2 2.2h0m.2-3.5h0m.2 3.3h0m.2-.3h0m.3 .8h0m.2 .7h0m.2-1.4h0m.2 1.8h0m.2-.4h0m.2 4h0m.2-2.7h0m.2-9.6h0m.2 8.9h0m.2-.5h0m.2-.4h0m.2 .5h0m.2 .7h0m.3-.7h0m.2 1.1h0m.2-1.1h0m.2 .1h0m.2 1.3h0m.2-.9h0m.2-1h0m.2 .2h0m.2 .6h0m.2 1.1h0m.2-2.1h0m.2 0h0m.2 1h0m.3-1.8h0m.2 .4h0m.2 1h0m.2-.4h0m.2-.6h0m.2 .5h0m.2-3.3h0m.2 3.4h0m.2-1.9h0m.2-.8h0m.2 1.7h0m.2 .3h0m.2-1.2h0m.2-.6h0m.3 .8h0m.2-.1h0m.2 1.2h0m.2-.7h0m.2-.6h0m.2 .7h0m.2-1.3h0m.2-.7h0m.2 1.2h0m.2-.1h0m.2-.9h0m.2-.6h0m.2 .7h0m.3-2.6h0m.2 2.7h0m.2-.3h0m.2-2.1h0m.2 1.4h0m.2-1.1h0m.2 1.4h0m.2-2.6h0m.2 1h0m.2 1.3h0m.2 .4h0m.2-1.2h0m.2 0h0m.3-.1h0m.2-.1h0m.2-.1h0m.2 0h0m.2-.1h0m.2 0h0m.2 0h0m.2-.1h0m.2 0h0m.2 0h0m.2-.1h0m.2 0h0m.2-.1h0m.3 0h0m.2 0h0m.2 0h0m.2 0h0m.2 0h0m.2 0h0m.2 0h0m.2 0h0m.2 0h0m.2 0h0m.2 0h0m.2 0h0m.2 0h0m.3 0h0m.2 0h0m.2 0h0m.2 0h0m.2 0h0m.2 0h0m.2 0h0m.2 .1h0m.2 0h0m.2 0h0m.2 .1h0m.2 0h0m.2 0h0m.3 .1h0m.2 0h0m.2 0h0m.2 .1h0m.2 0h0m.2 0h0m.2 .1h0m.2 0h0m.2 .1h0m.2 .1h0m.2 0h0m.2 .1h0m.2 .1h0m.3 .1h0m.2 0h0m.2 .1h0m.2 .1h0m.2 0h0m.2 .1h0m.2 .1h0m.2 0h0m.2 .1h0m.2 .1h0m.2 0h0m.2 .1h0m.2 0h0m.2 .1h0m.3 0h0m.2 .1h0m.2 0h0m.2 .1h0m.2 .1h0m.2 0h0m.2 .1h0m.2 0h0m.2 .1h0m.2 0h0m.2 0h0m.2 .1h0m.2 0h0m.3 0h0m.2 0h0m.2 0h0m.2 .1h0m.2 0h0m.2 0h0m.2 0h0m.2 0h0m.2 .1h0m.2 0h0m.2 0h0m.2 0h0m.2 0h0m.3 .1h0m.2 0h0m.2 0h0m.2 0h0m.2-.1h0m.2 0h0m.2 0h0m.2 0h0m.2-.1h0m.2 0h0m.2 0h0m.2-.1h0m.2 0h0m.3 0h0m.2 0h0m.2-.1h0m.2 0h0m.2 0h0m.2-.1h0m.2 0h0m.2-.1h0m.2 0h0m.2 0h0m.2-.1h0m.2 0h0m.2-.1h0m.3 0h0m.2-.1h0m.2 0h0m.2 0h0m.2-.1h0m.2 0h0m.2-.1h0m.2 0h0m.2 0h0m.2-.1h0m.2 0h0m.2 0h0m.2 0h0m.3-.1h0m.2 0h0m.2 0h0m.2 0h0m.2 0h0m.2 0h0m.2-.1h0m.2 0h0m.2 0h0m.2 0h0m.2 0h0m.2 0h0m.2-.1h0m.2 0h0m.3 0h0m.2 0h0m.2 0h0m.2 0h0m.2-.1h0m.2 0h0m.2 0h0m.2 0h0m.2 0h0m.2 0h0m.2 0h0m.2 0h0m.2 0h0m.3 .1h0m.2 0h0m.2 0h0m.2 0h0m.2 0h0m.2 0h0m.2 0h0m.2 0h0m.2 0h0m.2 0h0m.2 0h0m.2 0h0m.2 .1h0m.3 0h0m.2 0h0m.2 0h0m.2 0h0m.2 0h0m.2 .3h0m.2 .5h0m.2 .6h0m.2 0h0m.2 .1h0m.2 0h0m.2 0h0m.2 0h0m.3 0h0m.2 0h0m.2 0h0m.2 0h0m.2 0h0m.2 0h0m.2 0h0m.2-.1h0m.2 0h0m.2 0h0m.2-.1h0m.2 0h0m.2-.1h0m.3 0h0m.2-.1h0m.2 0h0m.2-.1h0m.2-.1h0m.2 0h0m.2-.1h0m.2-.1h0m.2-.1h0m.2 0h0m.2-.1h0m.2-.1h0m.2-.1h0m.3-.1h0m.2-.1h0m.2 0h0m.2-.1h0m.2-.1h0m.2-.1h0m.2-.1h0m.2-.1h0m.2 0h0m.2-.1h0m.2-.1h0m.2 0h0m.2-.1h0m.2-.1h0m.3 0h0m.2-.1h0m.2-.1h0m.2 0h0m.2 0h0m.2-.1h0m.2 0h0m.2-.1h0m.2 0h0m.2 0h0m.2 0h0m.2 0h0m.2 0h0m.3 0h0m.2 0h0m.2 0h0m.2 0h0m.2 0h0m.2 0h0m.2 .1h0m.2 0h0m.2 0h0m.2 .1h0m.2 0h0m.2 .1h0m.2 0h0m.3 .1h0m.2 .1h0m.2 0h0m.2 .1h0m.2 .1h0m.2 0h0m.2 .1h0m.2 .1h0m.2 .1h0m.2 .1h0m.2 0h0m.2 .1h0m.2 .1h0m.3 .1h0m.2 .1h0m.2 0h0m.2 .1h0m.2 .1h0m.2 .1h0m.2 .1h0m.2 0h0m.2 .1h0m.2 .1h0m.2 0h0m.2 .1h0m.2 0h0m.3 .1h0m.2 0h0m.2 .1h0m.2 0h0m.2 .1h0m.2 0h0m.2 0h0m.2 0h0m.2 0h0m.2 .1h0m.2 0h0m.2 0h0m.2 0h0m.3-.1h0m.2 0h0m.2 0h0m.2 0h0m.2 0h0m.2 0h0m.2-.1h0m.2 0h0m.2 0h0m.2-.1h0m.2 0h0m.2-.1h0m.2 0h0m.3 0h0m.2-.1h0m.2 0h0m.2-.1h0m.2-.1h0m.2 0h0m.2-.1h0m.2 0h0m.2-.1h0m.2 0h0m.2-.1h0m.2-.1h0m.2 0h0m.2-.1h0m.3-.1h0m.2 0h0m.2-.1h0m.2-.1h0m.2 0h0m.2-.1h0m.2 0h0m.2-.1h0m.2 0h0m.2-.1h0m.2-.1h0m.2 0h0m.2-.1h0m.3 0h0m.2 0h0m.2-.1h0m.2 0h0m.2-.1h0m.2 0h0m.2 0h0m.2 0h0m.2-.1h0m.2 0h0m.2 0h0m.2 0h0m.2 0h0m.3 0h0m.2 0h0m.2 0h0m.2 0h0m.2 0h0m.2 0h0m.2 0h0m.2 0h0m.2 .1h0m.2 0h0m.2 0h0m.2 0h0m.2 .1h0m.3 0h0m.2 0h0m.2 .1h0m.2 0h0m.2 .1h0m.2 0h0m.2 .1h0m.2 0h0m.2 .1h0m.2 0h0m.2 .1h0m.2 .1h0m.2 0h0m.3 .1h0m.2 0h0m.2 .1h0m.2 0h0m.2 .1h0m.2 0h0m.2 .1h0m.2 .1h0m.2 0h0m.2 .1h0m.2 0h0m.2 0h0m.2 .1h0m.3 0h0m.2 .1h0m.2 0h0m.2 0h0m.2 .1h0m.2 0h0m.2 0h0m.2 0h0m.2 .1h0m.2 0h0m.2 0h0m.2 0h0m.2 0h0m.2 0h0m.3 0h0m.2 0h0m.2 0h0m.2 0h0m.2 0h0m.2-.1h0m.2 0h0m.2 0h0m.2 0h0m.2 0h0m.2-.1h0m.2 0h0m.2 0h0m.3 0h0m.2-.1h0m.2 0h0m.2 0h0m.2-.1h0m.2 0h0m.2 0h0m.2-.1h0m.2 0h0m.2 0h0m.2-.1h0m.2 0h0m.2 0h0m.3-.1h0m.2 0h0m.2-.1h0m.2 0h0m.2 0h0m.2-.1h0m.2 0h0m.2 0h0m.2-.1h0m.2 0h0m.2 0h0m.2-.1h0m.2 0h0m.3 0h0m.2-.1h0m.2 0h0m.2 0h0m.2 0h0m.2 0h0m.2-.1h0m.2 0h0m.2 0h0m.2 0h0m.2 0h0m.2 0h0m.2 0h0m.3 0h0m.2 0h0m.2 0h0m.2 0h0m.2 0h0m.2 0h0m.2 0h0m.2 0h0m.2 0h0m.2 0h0m.2 0h0m.2 .1h0m.2 0h0m.3 0h0m.2 0h0m.2 .1h0m.2 0h0m.2 0h0m.2 0h0m.2 .1h0m.2 0h0m.2 0h0m.2 .1h0m.2 0h0m.2 .1h0m.2 0h0m.2 0h0m.3 .1h0m.2 0h0m.2 0h0m.2 .1h0m.2 0h0m.2 0h0m.2 .1h0m.2 0h0m.2 0h0m.2 .1h0m.2 0h0m.2 0h0m.2 .1h0m.3 0h0m.2 0h0m.2 0h0m.2 .1h0m.2 0h0m.2 0h0m.2 0h0m.2 0h0m.2 0h0m.2 0h0m.2 0h0m.2 0h0m.2 0h0m.3 0h0m.2 0h0m.2 0h0m.2 0h0m.2 0h0m.2 0h0m.2 0h0m.2 0h0m.2-.1h0m.2 0h0m.2 0h0m.2 0h0m.2 0h0m.3-.1h0m.2 0h0m.2 0h0m.2-.1h0m.2 0h0m.2 0h0m.2 0h0m.2-.1h0m.2 0h0m.2 0h0m.2-.1h0m.2 0h0m.2 0h0m.3-.1h0m.2 0h0m.2 0h0m.2-.1h0m.2 0h0m.2 0h0m.2-.1h0m.2 0h0m.2 0h0m.2 0h0m.2-.1h0m.2 0h0m.2 0h0m.3 0h0m.2-.1h0m.2 0h0m.2 0h0m.2 0h0m.2 0h0m.2 0h0m.2 0h0m.2-.1h0m.2 0h0m.2 0h0m.2 0h0m.2 0h0m.3 0h0m.2 0h0m.2 0h0m.2 .1h0m.2 0h0m.2 0h0m.2 0h0m.2 0h0m.2 0h0m.2 0h0m.2 0h0m.2 0h0m.2 .1h0m.2 0h0m.3 0h0m.2 0h0m.2 0h0m.2 .1h0m.2 0h0m.2 0h0m.2 0h0m.2 0h0m.2 .1h0m.2 0h0m.2 0h0m.2 0h0m.2 .1h0m.3 0h0m.2 0h0m.2 0h0m.2 .1h0m.2 0h0m.2 0h0m.2 0h0m.2 .1h0m.2 0h0m.2 0h0m.2 0h0m.2 0h0m.2 .1h0m.3 0h0m.2 0h0m.2 0h0m.2 0h0m.2 0h0m.2 .1h0m.2 0h0m.2 0h0m.2 0h0m.2 0h0m.2 0h0m.2 0h0m.2 0h0m.3 0h0m.2 0h0m.2 0h0m.2 0h0m.2 0h0m.2 0h0m.2 0h0m.2 0h0m.2 0h0m.2 0h0m.2 0h0m.2 0h0m.2-.1h0m.3 0h0m.2 0h0m.2 0h0m.2 0h0m.2 0h0m.2 0h0m.2-.1h0m.2 0h0m.2 0h0m.2 0h0m.2 0h0m.2-.1h0m.2 0h0m.3 0h0m.2 0h0m.2 0h0m.2-.1h0m.2 0h0m.2 0h0m.2 0h0m.2 0h0m.2 0h0m.2-.1h0m.2 0h0m.2 0h0m.2 0h0m.2 0h0m.3 0h0m.2-.1h0m.2 0h0m.2 0h0m.2 0h0m.2 0h0m.2 0h0m.2 0h0m.2 0h0m.2 0h0m.2 0h0m.2 0h0m.2 0h0m.3 0h0m.2 0h0m.2 0h0m.2 0h0m.2 0h0m.2 0h0m.2 0h0m.2 0h0m.2 .1h0m.2 0h0m.2 0h0m.2 0h0m.2 0h0m.3 0h0m.2 0h0m.2 .1h0m.2 0h0m.2 0h0m.2 0h0m.2 0h0m.2 0h0m.2 .1h0m.2 0h0m.2 0h0m.2 0h0m.2 0h0m.3 0h0m.2 .1h0m.2 0h0m.2 0h0m.2 0h0m.2 0h0m.2 0h0m.2 .1h0m.2 0h0m.2 0h0m.2 0h0m.2 0h0m.2 0h0m.3 0h0m.2 0h0m.2 .1h0m.2 0h0m.2 0h0m.2 0h0m.2 0h0m.2 0h0m.2 0h0m.2 0h0m.2 0h0m.2 0h0m.2 0h0m.3 0h0m.2 0h0m.2 0h0m.2 0h0m.2 0h0m.2 0h0m.2 0h0m.2-.1h0m.2 0h0m.2 0h0m.2 0h0m.2 0h0m.2 0h0m.2 0h0m.3 0h0m.2 0h0m.2 0h0m.2-.1h0m.2 0h0m.2 0h0m.2 0h0m.2 0h0m.2 0h0m.2 0h0m.2 0h0m.2-.1h0m.2 0h0m.3 0h0m.2 0h0m.2 0h0m.2 0h0m.2 0h0m.2 0h0m.2 0h0m.2-.1h0m.2 0h0m.2 0h0m.2 0h0m.2 0h0m.2 0h0m.3 0h0m.2 0h0m.2 0h0m.2 0h0m.2 0h0m.2 0h0m.2 0h0m.2 0h0m.2 0h0m.2 0h0m.2 0h0m.2 0h0m.2 0h0m.3 0h0m.2 0h0m.2 0h0m.2 0h0m.2 0h0m.2 0h0m.2 0h0m.2 0h0m.2 .1h0m.2 0h0m.2 0h0m.2 0h0m.2 0h0m.3 0h0m.2 0h0m.2 0h0m.2 0h0m.2 .1h0m.2 0h0m.2 0h0m.2 0h0m.2 0h0m.2 0h0m.2 0h0m.2 .1h0m.2 0h0m.3 0h0m.2 0h0m.2 0h0m.2 0h0m.2 0h0m.2 0h0m.2 .1h0m.2 0h0m.2 0h0m.2 0h0m.2 0h0m.2 0h0m.2 0h0m.3 0h0m.2 0h0m.2 .1h0m.2 0h0m.2 0h0m.2 0h0m.2 0h0m.2 0h0m.2 0h0m.2 0h0m.2 0h0m.2 0h0m.2 0h0m.2 0h0m.3 0h0m.2 0h0m.2 0h0m.2 0h0m.2 0h0m.2 0h0m.2 0h0m.2 0h0m.2 0h0m.2 0h0m.2 0h0m.2 0h0m.2 0h0m.3-.1h0m.2 0h0m.2 0h0m.2 0h0m.2 0h0m.2 0h0m.2 0h0m.2 0h0m.2 0h0m.2 0h0m.2 0h0m.2 0h0m.2-.1h0m.3 0h0m.2 0h0m.2 0h0m.2 0h0m.2 0h0m.2 0h0m.2 0h0m.2 0h0m.2 0h0m.2 0h0m.2 0h0m.2 0h0m.2 0h0m.3 0h0m.2 0h0m.2 0h0m.2 0h0m.2 0h0m.2 0h0m.2 0h0m.2 0h0m.2 0h0m.2 0h0m.2 0h0m.2 0h0m.2 0h0m.3 0h0m.2 0h0m.2 0h0m.2 0h0m.2 0h0m.2 0h0m.2 0h0m.2 0h0m.2 0h0m.2 0h0m.2 0h0m.2 0h0m.2 .1h0m.3 0h0m.2 0h0m.2 0h0m.2 0h0m.2 0h0m.2 0h0m.2 0h0m.2 0h0m.2 0h0m.2 .1h0m.2 0h0m.2 0h0m.2 0h0m.2 0h0m.3 0h0m.2 0h0m.2 0h0m.2 0h0m.2 0h0m.2 0h0m.2 .1h0m.2 0h0m.2 0h0m.2 0h0m.2 0h0m.2 0h0m.2 0h0m.3 0h0m.2 0h0m.2 0h0m.2 0h0m.2 0h0m.2 0h0m.2 0h0m.2 0h0m.2 0h0m.2 0h0m.2 0h0m.2 0h0m.2 0h0m.3 0h0m.2 0h0m.2 0h0m.2 0h0m.2 0h0m.2 0h0m.2 0h0m.2 0h0m.2 0h0m.2 0h0m.2 0h0m.2 0h0m.2 0h0m.3 0h0m.2 0h0m.2 0h0m.2 0h0m.2 0h0m.2-.1h0m.2 0h0m.2 0h0m.2 0h0m.2 0h0m.2 0h0m.2 0h0m.2 0h0m.3 0h0m.2 0h0m.2 0h0m.2 0h0m.2 0h0m.2 0h0m.2 0h0m.2 0h0m.2-.1h0m.2 0h0m.2 0h0m.2 0h0m.2 0h0m.3 0h0m.2 0h0m.2 0h0m.2 0h0m.2 0h0m.2 0h0m.2 0h0m.2 0h0m.2 0h0m.2 0h0m.2 0h0m.2 0h0m.2 0h0m.2 0h0m.3 0h0m.2 0h0m.2 0h0m.2 0h0m.2 .1h0m.2 0h0m.2 0h0m.2 0h0m.2 0h0m.2 0h0m.2 0h0m.2 0h0m.2 0h0m.3 0h0m.2 0h0m.2 0h0m.2 0h0m.2 0h0m.2 0h0m.2 0h0m.2 .1h0m.2 0h0m.2 0h0m.2 0h0m.2 0h0m.2 0h0m.3 0h0m.2 0h0m.2 0h0m.2 0h0m.2 0h0m.2 0h0m.2 0h0m.2 0h0m.2 0h0m.2 .1h0m.2 0h0m.2 0h0m.2 0h0m.3 0h0m.2 0h0m.2 0h0m.2 0h0m.2 0h0m.2 0h0m.2 0h0m.2 0h0m.2 0h0m.2 0h0m.2 0h0m.2 0h0m.2 0h0m.3 0h0m.2 0h0m.2 0h0m.2 0h0m.2 0h0m.2 0h0m.2 0h0m.2 0h0m.2 0h0m.2 0h0m.2 0h0m.2-.1h0m.2 0h0m.3 0h0m.2 0h0m.2 0h0m.2 0h0m.2 0h0m.2 0h0m.2 0h0m.2 0h0m.2 0h0m.2 0h0m.2 0h0m.2 0h0m.2 0h0m.3 0h0m.2 0h0m.2 0h0m.2-.1h0m.2 0h0m.2 0h0m.2 0h0m.2 0h0m.2 0h0m.2 0h0m.2 0h0m.2 0h0m.2 0h0m.2 0h0m.3 0h0m.2 0h0m.2 0h0m.2 0h0m.2 0h0m.2 0h0m.2 0h0m.2 0h0m.2 0h0m.2 0h0m.2 0h0m.2 0h0m.2 0h0m.3 0h0m.2 0h0m.2 0h0m.2 0h0m.2 0h0m.2 0h0m.2 0h0m.2 0h0m.2 0h0m.2 .1h0m.2 0h0m.2 0h0m.2 0h0m.3 0h0m.2 0h0m.2 0h0m.2 0h0m.2 0h0m.2 0h0m.2 0h0m.2 0h0m.2 0h0m.2 0h0m.2 0h0m.2 0h0m.2 0h0m.3 0h0m.2 0h0m.2 0h0m.2 .1h0m.2 0h0m.2 0h0m.2 0h0m.2 0h0m.2 0h0m.2 0h0m.2 0h0m.2 0h0m.2 0h0m.3 0h0m.2 0h0m.2 0h0m.2 0h0m.2 0h0m.2 0h0m.2 0h0m.2 0h0m.2 0h0m.2 0h0m.2 0h0m.2 0h0m.2 0h0m.3 0h0m.2 0h0m.2 0h0m.2 0h0m.2 0h0m.2 0h0m.2-.1h0m.2 0h0m.2 0h0m.2 0h0m.2 0h0m.2 0h0m.2 0h0m.2 0h0m.3 0h0m.2 0h0m.2 0h0m.2 0h0m.2 0h0m.2 0h0m.2 0h0m.2 0h0m.2 0h0m.2 0h0m.2 0h0m.2 0h0m.2 0h0m.3 0h0m.2 0h0m.2 0h0m.2 0h0m.2 0h0m.2 0h0m.2-.1h0m.2 0h0m.2 0h0m.2 0h0m.2 0h0m.2 0h0m.2 0h0m.3 0h0m.2 0h0m.2 0h0m.2 0h0m.2 0h0m.2 0h0m.2 0h0m.2 0h0m.2 0h0m.2 .1h0m.2 0h0m.2 0h0m.2 0h0m.3 0h0m.2 0h0m.2 0h0m.2 0h0m.2 0h0m.2 0h0m.2 0h0m.2 0h0m.2 0h0m.2 0h0m.2 0h0m.2 0h0m.2 0h0m.3 0h0m.2 0h0m.2 0h0m.2 0h0m.2 0h0m.2 0h0m.2 0h0m.2 0h0m.2 .1h0m.2 0h0m.2 0h0m.2 0h0m.2 0h0m.3 0h0m.2 0h0m.2 0h0m.2 0h0m.2 0h0m.2 0h0m.2 0h0m.2 0h0m.2 0h0m.2 0h0m.2 0h0m.2 0h0m.2 0h0m.2 0h0m.3 0h0m.2 0h0m.2 0h0m.2 0h0m.2 0h0m.2 0h0m.2 0h0m.2 0h0m.2 0h0m.2 0h0m.2 0h0m.2 0h0m.2 0h0m.3 0h0m.2 0h0m.2 0h0m.2 0h0m.2 0h0m.2 0h0m.2 0h0m.2 0h0m.2 0h0m.2 0h0m.2 0h0m.2 0h0m.2 0h0m.3 0h0m.2 0h0m.2-.1h0m.2 0h0m.2 0h0m.2 0h0m.2 0h0m.2 0h0m.2 0h0m.2 0h0m.2 0h0m.2 0h0m.2 0h0m.3 0h0m.2 0h0m.2 0h0m.2 0h0m.2 0h0m.2 0h0m.2 0h0m.2 0h0m.2 0h0m.2 0h0m.2 0h0m.2 0h0m.2 0h0m.3 0h0m.2 0h0m.2 0h0m.2 0h0m.2 0h0m.2 0h0m.2 0h0m.2 0h0m.2 0h0m.2 0h0m.2 0h0m.2 0h0m.2 0h0m.3 0h0m.2 0h0m.2 0h0m.2 0h0m.2 0h0m.2 0h0m.2 0h0m.2 0h0m.2 0h0m.2 0h0m.2 0h0m.2 0h0m.2 0h0m.3 0h0m.2 0h0m.2 0h0m.2 0h0m.2 0h0m.2 0h0m.2 0h0m.2 0h0m.2 0h0m.2 0h0m.2 0h0m.2 0h0m.2 0h0m.2 0h0m.3 0h0m.2 0h0m.2 0h0m.2 0h0m.2 0h0m.2 0h0m.2 0h0m.2 0h0m.2 0h0m.2 0h0m.2 0h0m.2 0h0m.2 0h0m.3 0h0m.2 0h0m.2 0h0m.2 0h0m.2 0h0m.2 0h0m.2 0h0m.2 0h0m.2 0h0m.2 0h0m.2 .1h0m.2 0h0m.2 0h0m.3 0h0m.2 0h0m.2 0h0m.2 0h0m.2 0h0m.2 0h0m.2 0h0" fill="none" stroke="#f00" stroke-width="2.3" stroke-linecap="round"/>
<polyline points="32.00,88.10 32.21,88.10 32.42,88.10 32.62,88.10 32.83,88.10 33.04,88.10 33.25,88.10 33.45,88.10 33.66,88.10 33.87,88.10 34.08,88.10 34.28,88.10 34.49,88.10 34.70,88.10 34.91,88.10 35.11,88.10 35.32,88.10 35.53,88.10 35.74,88.10 35.94,88.10 36.15,88.10 36.36,88.10 36.57,88.10 36.77,88.10 36.98,88.10 37.19,88.10 37.40,88.10 37.61,88.10 37.81,88.10 38.02,88.10 38.23,88.10 38.44,88.10 38.64,88.10 38.85,88.10 39.06,88.10 39.27,88.10 39.47,88.10 39.68,88.10 39.89,88.10 40.10,88.10 40.30,88.10 40.51,88.10 40.72,88.10 40.93,88.10 41.13,88.10 41.34,88.10 41.55,88.10 41.76,88.10 41.96,88.10 42.17,88.10 42.38,88.10 42.59,88.10 42.80,88.10 43.00,88.10 43.21,88.10 43.42,88.10 43.63,88.10 43.83,88.10 44.04,88.10 44.25,88.10 44.46,88.10 44.66,88.10 44.87,88.10 45.08,88.10 45.29,88.10 45.49,88.10 45.70,88.10 45.91,88.10 46.12,88.10 46.32,88.10 46.53,88.10 46.74,88.10 46.95,88.10 47.15,88.10 47.36,88.10 47.57,88.10 47.78,88.10 47.99,88.10 48.19,88.10 48.40,88.10 48.61,90.94 48.82,96.31 49.02,100.46 49.23,103.09 49.44,104.82 49.65,106.55 49.85,107.77 50.06,108.81 50.27,109.84 50.48,110.88 50.68,112.29 50.89,113.74 51.10,115.19 51.31,116.65 51.51,118.07 51.72,119.11 51.93,120.15 52.14,121.19 52.34,122.22 52.55,123.35 52.76,124.73 52.97,126.12 53.18,127.50 53.38,128.89 53.59,130.27 53.80,131.65 54.01,133.04 54.21,134.35 54.42,135.67 54.63,136.98 54.84,138.29 55.04,139.61 55.25,140.92 55.46,142.24 55.67,143.05 55.87,143.75 56.08,144.44 56.29,145.13 56.50,145.82 56.70,146.50 56.91,146.32 57.12,146.12 57.33,145.60 57.53,145.02 57.74,144.16 57.95,143.23 58.16,142.04 58.37,140.76 58.57,139.26 58.78,137.64 58.99,135.85 59.20,133.93 59.40,131.87 59.61,129.67 59.82,127.36 60.03,124.92 60.23,122.39 60.44,119.74 60.65,117.02 60.86,114.20 61.06,111.33 61.27,108.38 61.48,105.40 61.69,102.35 61.89,99.29 62.10,96.20 62.31,93.11 62.52,90.01 62.72,86.92 62.93,83.87 63.14,80.83 63.35,77.85 63.56,74.90 63.76,72.04 63.97,69.23 64.18,66.51 64.39,63.88 64.59,61.35 64.80,58.93 65.01,56.62 65.22,54.44 65.42,52.38 65.63,50.48 65.84,48.69 66.05,47.10 66.25,45.61 66.46,44.35 66.67,43.16 66.88,42.26 67.08,41.40 67.29,40.85 67.50,40.34 67.71,40.16 67.91,40.01 68.12,40.15 68.33,40.32 68.54,40.73 68.75,41.20 68.95,41.87 69.16,42.62 69.37,43.55 69.58,44.58 69.78,45.76 69.99,47.04 70.20,48.45 70.41,49.98 70.61,51.61 70.82,53.35 71.03,55.18 71.24,57.12 71.44,59.12 71.65,61.23 71.86,63.39 72.07,65.64 72.27,67.92 72.48,70.29 72.69,72.66 72.90,75.11 73.10,77.56 73.31,80.04 73.52,82.53 73.73,85.03 73.94,87.53 74.14,90.01 74.35,92.48 74.56,94.91 74.77,97.32 74.97,99.68 75.18,101.99 75.39,104.24 75.60,106.43 75.80,108.55 76.01,110.58 76.22,112.54 76.43,114.39 76.63,116.17 76.84,117.81 77.05,119.39 77.26,120.80 77.46,122.16 77.67,123.32 77.88,124.44 78.09,125.33 78.29,126.20 78.50,126.82 78.71,127.41 78.92,127.75 79.13,128.06 79.33,128.13 79.54,128.15 79.75,127.98 79.96,127.75 80.16,127.35 80.37,126.88 80.58,126.26 80.79,125.56 80.99,124.73 81.20,123.80 81.41,122.77 81.62,121.63 81.82,120.40 82.03,119.07 82.24,117.67 82.45,116.16 82.65,114.60 82.86,112.94 83.07,111.24 83.28,109.45 83.48,107.63 83.69,105.73 83.90,103.82 84.11,101.84 84.32,99.86 84.52,97.83 84.73,95.80 84.94,93.75 85.15,91.71 85.35,89.66 85.56,87.62 85.77,85.61 85.98,83.61 86.18,81.64 86.39,79.71 86.60,77.83 86.81,75.99 87.01,74.21 87.22,72.49 87.43,70.83 87.64,69.26 87.84,67.75 88.05,66.34 88.26,64.99 88.47,63.78 88.67,62.60 88.88,61.59 89.09,60.61 89.30,59.82 89.51,59.05 89.71,58.48 89.92,57.94 90.13,57.60 90.34,57.30 90.54,57.19 90.75,57.12 90.96,57.20 91.17,57.34 91.37,57.58 91.58,57.89 91.79,58.30 92.00,58.77 92.20,59.34 92.41,59.98 92.62,60.69 92.83,61.48 93.03,62.33 93.24,63.27 93.45,64.25 93.66,65.32 93.86,66.41 94.07,67.59 94.28,68.79 94.49,70.07 94.70,71.36 94.90,72.72 95.11,74.09 95.32,75.50 95.53,76.92 95.73,78.38 95.94,79.84 96.15,81.32 96.36,82.79 96.56,84.27 96.77,85.74 96.98,87.21 97.19,88.65 97.39,90.08 97.60,91.49 97.81,92.86 98.02,94.20 98.22,95.51 98.43,96.76 98.64,97.99 98.85,99.14 99.05,100.26 99.26,101.29 99.47,102.30 99.68,103.21 99.89,104.09 100.09,104.84 100.30,105.59 100.51,106.19 100.72,106.78 100.92,107.22 101.13,107.64 101.34,107.93 101.55,108.18 101.75,108.30 101.96,108.38 102.17,108.34 102.38,108.25 102.58,108.06 102.79,107.81 103.00,107.48 103.21,107.08 103.41,106.60 103.62,106.05 103.83,105.44 104.04,104.74 104.24,104.01 104.45,103.19 104.66,102.33 104.87,101.40 105.08,100.44 105.28,99.40 105.49,98.35 105.70,97.23 105.91,96.10 106.11,94.91 106.32,93.72 106.53,92.48 106.74,91.25 106.94,89.98 107.15,88.72 107.36,87.45 107.57,86.17 107.77,84.91 107.98,83.65 108.19,82.41 108.40,81.19 108.60,79.98 108.81,78.81 109.02,77.67 109.23,76.57 109.43,75.50 109.64,74.49 109.85,73.51 110.06,72.61 110.27,71.73 110.47,70.94 110.68,70.17 110.89,69.52 111.10,68.88 111.30,68.37 111.51,67.86 111.72,67.50 111.93,67.15 112.13,66.92 112.34,66.73 112.55,66.65 112.76,66.62 112.96,66.70 113.17,66.84 113.38,67.08 113.59,67.39 113.79,67.78 114.00,68.25 114.21,68.80 114.42,69.43 114.62,70.12 114.83,70.89 115.04,71.72 115.25,72.62 115.46,73.57 115.66,74.59 115.87,75.64 116.08,76.77 116.29,77.90 116.49,79.11 116.70,80.32 116.91,81.59 117.12,82.86 117.32,84.17 117.53,85.47 117.74,86.79 117.95,88.11 118.15,89.43 118.36,90.74 118.57,92.04 118.78,93.32 118.98,94.58 119.19,95.81 119.40,97.00 119.61,98.16 119.81,99.27 120.02,100.34 120.23,101.36 120.44,102.31 120.65,103.22 120.85,104.05 121.06,104.84 121.27,105.52 121.48,106.17 121.68,106.70 121.89,107.21 122.10,107.58 122.31,107.93 122.51,108.13 122.72,108.32 122.93,108.36 123.14,108.38 123.34,108.30 123.55,108.19 123.76,108.01 123.97,107.79 124.17,107.50 124.38,107.17 124.59,106.78 124.80,106.35 125.00,105.86 125.21,105.32 125.42,104.75 125.63,104.12 125.84,103.46 126.04,102.75 126.25,102.01 126.46,101.22 126.67,100.42 126.87,99.56 127.08,98.70 127.29,97.79 127.50,96.88 127.70,95.93 127.91,94.97 128.12,93.99 128.33,93.01 128.53,92.01 128.74,91.02 128.95,90.01 129.16,89.01 129.36,88.01 129.57,87.02 129.78,86.04 129.99,85.07 130.19,84.12 130.40,83.19 130.61,82.28 130.82,81.39 131.03,80.53 131.23,79.70 131.44,78.90 131.65,78.14 131.86,77.40 132.06,76.73 132.27,76.07 132.48,75.48 132.69,74.90 132.89,74.41 133.10,73.93 133.31,73.54 133.52,73.15 133.72,72.86 133.93,72.59 134.14,72.40 134.35,72.24 134.55,72.16 134.76,72.11 134.97,72.14 135.18,72.21 135.38,72.34 135.59,72.51 135.80,72.74 136.01,73.03 136.22,73.36 136.42,73.74 136.63,74.17 136.84,74.65 137.05,75.16 137.25,75.74 137.46,76.33 137.67,76.98 137.88,77.64 138.08,78.36 138.29,79.09 138.50,79.87 138.71,80.64 138.91,81.46 139.12,82.28 139.33,83.13 139.54,83.98 139.74,84.84 139.95,85.70 140.16,86.56 140.37,87.43 140.57,88.28 140.78,89.13 140.99,89.96 141.20,90.78 141.41,91.58 141.61,92.35 141.82,93.10 142.03,93.82 142.24,94.52 142.44,95.17 142.65,95.80 142.86,96.37 143.07,96.92 143.27,97.41 143.48,97.88 143.69,98.26 143.90,98.64 144.10,98.93 144.31,99.20 144.52,99.38 144.73,99.55 144.93,99.63 145.14,99.69 145.35,99.68 145.56,99.64 145.76,99.57 145.97,99.47 146.18,99.33 146.39,99.16 146.60,98.96 146.80,98.74 147.01,98.48 147.22,98.19 147.43,97.88 147.63,97.54 147.84,97.18 148.05,96.78 148.26,96.38 148.46,95.94 148.67,95.49 148.88,95.01 149.09,94.52 149.29,94.01 149.50,93.49 149.71,92.95 149.92,92.41 150.12,91.86 150.33,91.30 150.54,90.73 150.75,90.16 150.95,89.59 151.16,89.01 151.37,88.45 151.58,87.88 151.79,87.32 151.99,86.76 152.20,86.22 152.41,85.69 152.62,85.17 152.82,84.66 153.03,84.17 153.24,83.70 153.45,83.24 153.65,82.81 153.86,82.39 154.07,82.01 154.28,81.64 154.48,81.31 154.69,80.98 154.90,80.71 155.11,80.44 155.31,80.23 155.52,80.02 155.73,79.87 155.94,79.72 156.14,79.63 156.35,79.55 156.56,79.52 156.77,79.51 156.98,79.55 157.18,79.61 157.39,79.72 157.60,79.86 157.81,80.03 158.01,80.24 158.22,80.49 158.43,80.77 158.64,81.07 158.84,81.42 159.05,81.78 159.26,82.19 159.47,82.61 159.67,83.06 159.88,83.53 160.09,84.03 160.30,84.53 160.50,85.07 160.71,85.60 160.92,86.16 161.13,86.73 161.33,87.31 161.54,87.88 161.75,88.47 161.96,89.05 162.17,89.64 162.37,90.22 162.58,90.79 162.79,91.36 163.00,91.91 163.20,92.45 163.41,92.98 163.62,93.49 163.83,93.99 164.03,94.46 164.24,94.91 164.45,95.33 164.66,95.73 164.86,96.09 165.07,96.44 165.28,96.74 165.49,97.03 165.69,97.26 165.90,97.49 166.11,97.64 166.32,97.80 166.52,97.89 166.73,97.96 166.94,97.98 167.15,97.99 167.36,97.94 167.56,97.88 167.77,97.77 167.98,97.64 168.19,97.48 168.39,97.29 168.60,97.07 168.81,96.82 169.02,96.55 169.22,96.24 169.43,95.92 169.64,95.56 169.85,95.20 170.05,94.80 170.26,94.39 170.47,93.95 170.68,93.50 170.88,93.04 171.09,92.56 171.30,92.07 171.51,91.57 171.71,91.06 171.92,90.55 172.13,90.03 172.34,89.51 172.55,88.99 172.75,88.46 172.96,87.95 173.17,87.44 173.38,86.93 173.58,86.43 173.79,85.95 174.00,85.48 174.21,85.02 174.41,84.57 174.62,84.15 174.83,83.74 175.04,83.35 175.24,82.99 175.45,82.65 175.66,82.34 175.87,82.04 176.07,81.78 176.28,81.53 176.49,81.33 176.70,81.14 176.90,81.01 177.11,80.87 177.32,80.80 177.53,80.73 177.74,80.72 177.94,80.71 178.15,80.74 178.36,80.78 178.57,80.86 178.77,80.94 178.98,81.06 179.19,81.18 179.40,81.34 179.60,81.51 179.81,81.70 180.02,81.91 180.23,82.13 180.43,82.38 180.64,82.63 180.85,82.91 181.06,83.20 181.26,83.51 181.47,83.82 181.68,84.15 181.89,84.49 182.09,84.84 182.30,85.19 182.51,85.56 182.72,85.93 182.93,86.31 183.13,86.69 183.34,87.07 183.55,87.45 183.76,87.84 183.96,88.22 184.17,88.60 184.38,88.98 184.59,89.36 184.79,89.72 185.00,90.08 185.21,90.44 185.42,90.78 185.62,91.12 185.83,91.44 186.04,91.75 186.25,92.05 186.45,92.33 186.66,92.60 186.87,92.85 187.08,93.09 187.28,93.30 187.49,93.51 187.70,93.68 187.91,93.85 188.12,93.98 188.32,94.11 188.53,94.20 188.74,94.29 188.95,94.34 189.15,94.38 189.36,94.39 189.57,94.39 189.78,94.36 189.98,94.31 190.19,94.24 190.40,94.16 190.61,94.05 190.81,93.93 191.02,93.78 191.23,93.62 191.44,93.44 191.64,93.24 191.85,93.04 192.06,92.81 192.27,92.57 192.47,92.31 192.68,92.05 192.89,91.77 193.10,91.49 193.31,91.19 193.51,90.89 193.72,90.57 193.93,90.26 194.14,89.94 194.34,89.62 194.55,89.30 194.76,88.98 194.97,88.66 195.17,88.34 195.38,88.02 195.59,87.71 195.80,87.41 196.00,87.11 196.21,86.83 196.42,86.55 196.63,86.28 196.83,86.03 197.04,85.79 197.25,85.57 197.46,85.35 197.66,85.16 197.87,84.97 198.08,84.82 198.29,84.67 198.50,84.55 198.70,84.43 198.91,84.36 199.12,84.28 199.33,84.24 199.53,84.21 199.74,84.21 199.95,84.22 200.16,84.25 200.36,84.29 200.57,84.35 200.78,84.43 200.99,84.53 201.19,84.63 201.40,84.76 201.61,84.90 201.82,85.05 202.02,85.22 202.23,85.39 202.44,85.59 202.65,85.79 202.85,86.00 203.06,86.22 203.27,86.46 203.48,86.69 203.69,86.94 203.89,87.19 204.10,87.45 204.31,87.71 204.52,87.97 204.72,88.24 204.93,88.50 205.14,88.77 205.35,89.03 205.55,89.29 205.76,89.55 205.97,89.80 206.18,90.05 206.38,90.29 206.59,90.52 206.80,90.75 207.01,90.96 207.21,91.17 207.42,91.36 207.63,91.54 207.84,91.72 208.04,91.87 208.25,92.01 208.46,92.14 208.67,92.26 208.88,92.35 209.08,92.44 209.29,92.49 209.50,92.55 209.71,92.58 209.91,92.60 210.12,92.59 210.33,92.58 210.54,92.55 210.74,92.51 210.95,92.45 211.16,92.39 211.37,92.30 211.57,92.21 211.78,92.11 211.99,91.99 212.20,91.86 212.40,91.72 212.61,91.57 212.82,91.41 213.03,91.24 213.23,91.06 213.44,90.87 213.65,90.68 213.86,90.48 214.07,90.27 214.27,90.05 214.48,89.83 214.69,89.61 214.90,89.38 215.10,89.16 215.31,88.92 215.52,88.69 215.73,88.46 215.93,88.23 216.14,88.00 216.35,87.77 216.56,87.54 216.76,87.32 216.97,87.10 217.18,86.89 217.39,86.68 217.59,86.48 217.80,86.29 218.01,86.10 218.22,85.92 218.42,85.76 218.63,85.60 218.84,85.45 219.05,85.31 219.26,85.19 219.46,85.07 219.67,84.97 219.88,84.87 220.09,84.80 220.29,84.73 220.50,84.68 220.71,84.64 220.92,84.62 221.12,84.60 221.33,84.61 221.54,84.62 221.75,84.65 221.95,84.68 222.16,84.73 222.37,84.79 222.58,84.86 222.78,84.94 222.99,85.03 223.20,85.13 223.41,85.25 223.61,85.37 223.82,85.50 224.03,85.64 224.24,85.78 224.45,85.94 224.65,86.10 224.86,86.27 225.07,86.44 225.28,86.62 225.48,86.81 225.69,87.00 225.90,87.19 226.11,87.38 226.31,87.58 226.52,87.78 226.73,87.98 226.94,88.18 227.14,88.38 227.35,88.58 227.56,88.77 227.77,88.96 227.97,89.15 228.18,89.34 228.39,89.52 228.60,89.70 228.80,89.87 229.01,90.03 229.22,90.18 229.43,90.33 229.64,90.47 229.84,90.61 230.05,90.73 230.26,90.85 230.47,90.95 230.67,91.04 230.88,91.12 231.09,91.20 231.30,91.26 231.50,91.31 231.71,91.35 231.92,91.38 232.13,91.39 232.33,91.40 232.54,91.39 232.75,91.37 232.96,91.34 233.16,91.30 233.37,91.25 233.58,91.19 233.79,91.12 233.99,91.04 234.20,90.95 234.41,90.86 234.62,90.75 234.83,90.64 235.03,90.51 235.24,90.38 235.45,90.25 235.66,90.10 235.86,89.96 236.07,89.80 236.28,89.65 236.49,89.48 236.69,89.32 236.90,89.15 237.11,88.99 237.32,88.82 237.52,88.65 237.73,88.48 237.94,88.31 238.15,88.15 238.35,87.98 238.56,87.82 238.77,87.67 238.98,87.51 239.18,87.37 239.39,87.23 239.60,87.09 239.81,86.96 240.02,86.84 240.22,86.73 240.43,86.62 240.64,86.53 240.85,86.44 241.05,86.36 241.26,86.30 241.47,86.23 241.68,86.19 241.88,86.15 242.09,86.13 242.30,86.11 242.51,86.10 242.71,86.10 242.92,86.12 243.13,86.14 243.34,86.17 243.54,86.20 243.75,86.24 243.96,86.29 244.17,86.35 244.37,86.41 244.58,86.48 244.79,86.56 245.00,86.64 245.21,86.73 245.41,86.82 245.62,86.92 245.83,87.03 246.04,87.14 246.24,87.25 246.45,87.37 246.66,87.49 246.87,87.61 247.07,87.74 247.28,87.87 247.49,87.99 247.70,88.13 247.90,88.26 248.11,88.39 248.32,88.52 248.53,88.65 248.73,88.78 248.94,88.91 249.15,89.04 249.36,89.16 249.56,89.28 249.77,89.40 249.98,89.52 250.19,89.63 250.40,89.73 250.60,89.84 250.81,89.93 251.02,90.02 251.23,90.11 251.43,90.19 251.64,90.26 251.85,90.33 252.06,90.39 252.26,90.44 252.47,90.48 252.68,90.52 252.89,90.55 253.09,90.58 253.30,90.59 253.51,90.60 253.72,90.59 253.92,90.59 254.13,90.57 254.34,90.55 254.55,90.51 254.75,90.47 254.96,90.42 255.17,90.37 255.38,90.30 255.59,90.23 255.79,90.15 256.00,90.07 256.21,89.98 256.42,89.88 256.62,89.78 256.83,89.67 257.04,89.56 257.25,89.44 257.45,89.32 257.66,89.20 257.87,89.07 258.08,88.94 258.28,88.81 258.49,88.68 258.70,88.55 258.91,88.41 259.11,88.28 259.32,88.15 259.53,88.02 259.74,87.89 259.94,87.76 260.15,87.63 260.36,87.51 260.57,87.39 260.78,87.28 260.98,87.17 261.19,87.07 261.40,86.97 261.61,86.87 261.81,86.79 262.02,86.71 262.23,86.63 262.44,86.56 262.64,86.50 262.85,86.45 263.06,86.40 263.27,86.37 263.47,86.34 263.68,86.32 263.89,86.30 264.10,86.30 264.30,86.30 264.51,86.32 264.72,86.33 264.93,86.35 265.13,86.38 265.34,86.42 265.55,86.46 265.76,86.50 265.97,86.56 266.17,86.61 266.38,86.68 266.59,86.75 266.80,86.82 267.00,86.90 267.21,86.98 267.42,87.07 267.63,87.16 267.83,87.25 268.04,87.35 268.25,87.45 268.46,87.56 268.66,87.66 268.87,87.77 269.08,87.88 269.29,87.99 269.49,88.11 269.70,88.22 269.91,88.33 270.12,88.45 270.32,88.56 270.53,88.67 270.74,88.78 270.95,88.89 271.16,89.00 271.36,89.10 271.57,89.20 271.78,89.30 271.99,89.40 272.19,89.49 272.40,89.58 272.61,89.67 272.82,89.75 273.02,89.82 273.23,89.89 273.44,89.96 273.65,90.02 273.85,90.08 274.06,90.12 274.27,90.17 274.48,90.20 274.68,90.24 274.89,90.26 275.10,90.28 275.31,90.29 275.51,90.30 275.72,90.30 275.93,90.29 276.14,90.28 276.35,90.26 276.55,90.23 276.76,90.20 276.97,90.17 277.18,90.13 277.38,90.08 277.59,90.03 277.80,89.97 278.01,89.91 278.21,89.84 278.42,89.77 278.63,89.69 278.84,89.62 279.04,89.53 279.25,89.45 279.46,89.36 279.67,89.27 279.87,89.18 280.08,89.08 280.29,88.99 280.50,88.89 280.70,88.79 280.91,88.70 281.12,88.60 281.33,88.50 281.54,88.41 281.74,88.32 281.95,88.22 282.16,88.13 282.37,88.04 282.57,87.96 282.78,87.88 282.99,87.80 283.20,87.72 283.40,87.65 283.61,87.59 283.82,87.53 284.03,87.47 284.23,87.42 284.44,87.37 284.65,87.33 284.86,87.29 285.06,87.26 285.27,87.24 285.48,87.22 285.69,87.21 285.89,87.20 286.10,87.20 286.31,87.21 286.52,87.22 286.73,87.23 286.93,87.26 287.14,87.28 287.35,87.32 287.56,87.36 287.76,87.40 287.97,87.45 288.18,87.50 288.39,87.56 288.59,87.62 288.80,87.68 289.01,87.75 289.22,87.82 289.42,87.90 289.63,87.97 289.84,88.05 290.05,88.14 290.25,88.22 290.46,88.30 290.67,88.39 290.88,88.48 291.08,88.56 291.29,88.65 291.50,88.74 291.71,88.82 291.92,88.91 292.12,88.99 292.33,89.07 292.54,89.15 292.75,89.23 292.95,89.30 293.16,89.37 293.37,89.44 293.58,89.50 293.78,89.56 293.99,89.62 294.20,89.67 294.41,89.72 294.61,89.76 294.82,89.79 295.03,89.82 295.24,89.85 295.44,89.87 295.65,89.88 295.86,89.90 296.07,89.90 296.27,89.90 296.48,89.89 296.69,89.88 296.90,89.86 297.11,89.84 297.31,89.82 297.52,89.79 297.73,89.75 297.94,89.71 298.14,89.67 298.35,89.62 298.56,89.57 298.77,89.52 298.97,89.46 299.18,89.40 299.39,89.34 299.60,89.27 299.80,89.20 300.01,89.13 300.22,89.05 300.43,88.98 300.63,88.90 300.84,88.82 301.05,88.74 301.26,88.66 301.46,88.58 301.67,88.50 301.88,88.42 302.09,88.34 302.30,88.26 302.50,88.18 302.71,88.11 302.92,88.03 303.13,87.96 303.33,87.89 303.54,87.82 303.75,87.75 303.96,87.69 304.16,87.63 304.37,87.57 304.58,87.52 304.79,87.47 304.99,87.42 305.20,87.38 305.41,87.34 305.62,87.31 305.82,87.28 306.03,87.25 306.24,87.23 306.45,87.22 306.65,87.21 306.86,87.20 307.07,87.20 307.28,87.21 307.49,87.21 307.69,87.23 307.90,87.25 308.11,87.27 308.32,87.30 308.52,87.34 308.73,87.37 308.94,87.42 309.15,87.46 309.35,87.52 309.56,87.57 309.77,87.63 309.98,87.69 310.18,87.76 310.39,87.83 310.60,87.90 310.81,87.97 311.01,88.05 311.22,88.13 311.43,88.21 311.64,88.29 311.84,88.37 312.05,88.45 312.26,88.53 312.47,88.62 312.68,88.70 312.88,88.78 313.09,88.86 313.30,88.94 313.51,89.02 313.71,89.10 313.92,89.17 314.13,89.25 314.34,89.32 314.54,89.38 314.75,89.45 314.96,89.51 315.17,89.56 315.37,89.62 315.58,89.66 315.79,89.71 316.00,89.75 316.20,89.78 316.41,89.82 316.62,89.84 316.83,89.86 317.03,89.88 317.24,89.89 317.45,89.90 317.66,89.90 317.87,89.90 318.07,89.89 318.28,89.88 318.49,89.87 318.70,89.85 318.90,89.83 319.11,89.81 319.32,89.79 319.53,89.76 319.73,89.73 319.94,89.69 320.15,89.66 320.36,89.62 320.56,89.58 320.77,89.53 320.98,89.49 321.19,89.44 321.39,89.39 321.60,89.33 321.81,89.28 322.02,89.22 322.22,89.17 322.43,89.11 322.64,89.05 322.85,88.99 323.06,88.92 323.26,88.86 323.47,88.80 323.68,88.74 323.89,88.67 324.09,88.61 324.30,88.55 324.51,88.49 324.72,88.42 324.92,88.36 325.13,88.30 325.34,88.24 325.55,88.19 325.75,88.13 325.96,88.08 326.17,88.02 326.38,87.97 326.58,87.92 326.79,87.88 327.00,87.83 327.21,87.79 327.41,87.75 327.62,87.71 327.83,87.68 328.04,87.65 328.25,87.62 328.45,87.59 328.66,87.57 328.87,87.55 329.08,87.53 329.28,87.52 329.49,87.51 329.70,87.51 329.91,87.50 330.11,87.50 330.32,87.50 330.53,87.50 330.74,87.51 330.94,87.51 331.15,87.52 331.36,87.53 331.57,87.53 331.77,87.54 331.98,87.55 332.19,87.56 332.40,87.58 332.60,87.59 332.81,87.60 333.02,87.62 333.23,87.63 333.44,87.65 333.64,87.67 333.85,87.69 334.06,87.71 334.27,87.73 334.47,87.75 334.68,87.77 334.89,87.79 335.10,87.81 335.30,87.84 335.51,87.86 335.72,87.88 335.93,87.90 336.13,87.93 336.34,87.95 336.55,87.98 336.76,88.00 336.96,88.02 337.17,88.05 337.38,88.07 337.59,88.10 337.79,88.12 338.00,88.14 338.21,88.17 338.42,88.19 338.63,88.21 338.83,88.23 339.04,88.25 339.25,88.27 339.46,88.29 339.66,88.31 339.87,88.33 340.08,88.35 340.29,88.37 340.49,88.38 340.70,88.40 340.91,88.41 341.12,88.42 341.32,88.44 341.53,88.45 341.74,88.46 341.95,88.47 342.15,88.48 342.36,88.48 342.57,88.49 342.78,88.49 342.98,88.50 343.19,88.50 343.40,88.50" fill="none" stroke="#f0f" stroke-width="0.6" stroke-dasharray="6.5,2.4,0.8,3.6"/>
<path d="M32 88.1h0m.2 0h0m.2 0h0m.2 0h0m.2 0h0m.2 0h0m.2 0h0m.3 0h0m.2 0h0m.2 0h0m.2 0h0m.2 0h0m.2 0h0m.2 0h0m.2 0h0m.2 0h0m.2 0h0m.2 0h0m.2 0h0m.2 0h0m.3 0h0m.2 0h0m.2 0h0m.2 0h0m.2 0h0m.2 0h0m.2 0h0m.2 0h0m.2 0h0m.2 0h0m.2 0h0m.2 0h0m.2 0h0m.3 0h0m.2 0h0m.2 0h0m.2 0h0m.2 0h0m.2 0h0m.2 0h0m.2 0h0m.2 0h0m.2 0h0m.2 0h0m.2 0h0m.2 0h0m.2 0h0m.3 0h0m.2 0h0m.2 0h0m.2 0h0m.2 0h0m.2 0h0m.2 0h0m.2 0h0m.2 0h0m.2 0h0m.2 0h0m.2 0h0m.2 0h0m.3 0h0m.2 0h0m.2 0h0m.2 0h0m.2 0h0m.2 0h0m.2 0h0m.2 0h0m.2 0h0m.2 0h0m.2 0h0m.2 0h0m.2 0h0m.3 0h0m.2 0h0m.2 0h0m.2 0h0m.2 0h0m.2 0h0m.2 0h0m.2 2.8h0m.2 5.4h0m.2 4.2h0m.2 2.6h0m.2 1.7h0m.2 1.7h0m.3 1.3h0m.2 1h0m.2 1h0m.2 1.1h0m.2 1.4h0m.2 1.4h0m.2 1.5h0m.2 1.4h0m.2 1.5h0m.2 1h0m.2 1h0m.2 1.1h0m.2 1h0m.3 1.1h0m.2 1.4h0m.2 1.4h0m.2 1.4h0m.2 1.4h0m.2 1.4h0m.2 1.4h0m.2 1.3h0m.2 1.4h0m.2 1.3h0m.2 1.3h0m.2 1.3h0m.2 1.3h0m.3 1.3h0m.2 1.3h0m.2 .9h0m.2 .6h0m.2 .7h0m.2 .7h0m.2 .7h0m.2 .7h0m.2-.2h0m.2-.2h0m.2-.5h0m.2-.6h0m.2-.8h0m.2-1h0m.3-1.2h0m.2-1.2h0m.2-1.5h0m.2-1.7h0m.2-1.7h0m.2-2h0m.2-2h0m.2-2.2h0m.2-2.3h0m.2-2.5h0m.2-2.5h0m.2-2.7h0m.2-2.7h0m.3-2.8h0m.2-2.9h0m.2-2.9h0m.2-3h0m.2-3.1h0m.2-3h0m.2-3.1h0m.2-3.1h0m.2-3.1h0m.2-3.1h0m.2-3h0m.2-3.1h0m.2-3h0m.3-2.9h0m.2-2.9h0m.2-2.8h0m.2-2.7h0m.2-2.6h0m.2-2.6h0m.2-2.4h0m.2-2.3h0m.2-2.2h0m.2-2h0m.2-1.9h0m.2-1.8h0m.2-1.6h0m.3-1.5h0m.2-1.2h0m.2-1.2h0m.2-.9h0m.2-.9h0m.2-.5h0m.2-.6h0m.2-.1h0m.2-.2h0m.2 .1h0m.2 .2h0m.2 .4h0m.2 .5h0m.3 .7h0m.2 .7h0m.2 1h0m.2 1h0m.2 1.2h0m.2 1.2h0m.2 1.5h0m.2 1.5h0m.2 1.6h0m.2 1.8h0m.2 1.8h0m.2 1.9h0m.2 2h0m.3 2.1h0m.2 2.2h0m.2 2.2h0m.2 2.3h0m.2 2.4h0m.2 2.4h0m.2 2.4h0m.2 2.5h0m.2 2.4h0m.2 2.5h0m.2 2.5h0m.2 2.5h0m.2 2.5h0m.3 2.5h0m.2 2.4h0m.2 2.4h0m.2 2.4h0m.2 2.3h0m.2 2.2h0m.2 2.2h0m.2 2.1h0m.2 2.1h0m.2 1.9h0m.2 1.9h0m.2 1.8h0m.2 1.6h0m.2 1.6h0m.3 1.4h0m.2 1.4h0m.2 1.1h0m.2 1.1h0m.2 .9h0m.2 .9h0m.2 .6h0m.2 .6h0m.2 .4h0m.2 .3h0m.2 0h0m.2 .1h0m.2-.2h0m.3-.2h0m.2-.4h0m.2-.5h0m.2-.6h0m.2-.7h0m.2-.9h0m.2-.9h0m.2-1h0m.2-1.2h0m.2-1.2h0m.2-1.3h0m.2-1.4h0m.2-1.5h0m.3-1.6h0m.2-1.7h0m.2-1.7h0m.2-1.8h0m.2-1.8h0m.2-1.9h0m.2-1.9h0m.2-2h0m.2-1.9h0m.2-2.1h0m.2-2h0m.2-2h0m.2-2.1h0m.3-2h0m.2-2.1h0m.2-2h0m.2-2h0m.2-2h0m.2-1.9h0m.2-1.9h0m.2-1.8h0m.2-1.8h0m.2-1.7h0m.2-1.7h0m.2-1.5h0m.2-1.6h0m.3-1.4h0m.2-1.3h0m.2-1.2h0m.2-1.2h0m.2-1h0m.2-1h0m.2-.8h0m.2-.8h0m.2-.5h0m.2-.6h0m.2-.3h0m.2-.3h0m.2-.1h0m.3-.1h0m.2 .1h0m.2 .1h0m.2 .3h0m.2 .3h0m.2 .4h0m.2 .5h0m.2 .5h0m.2 .7h0m.2 .7h0m.2 .8h0m.2 .8h0m.2 1h0m.2 .9h0m.3 1.1h0m.2 1.1h0m.2 1.2h0m.2 1.2h0m.2 1.3h0m.2 1.3h0m.2 1.3h0m.2 1.4h0m.2 1.4h0m.2 1.4h0m.2 1.5h0m.2 1.4h0m.2 1.5h0m.3 1.5h0m.2 1.5h0m.2 1.4h0m.2 1.5h0m.2 1.5h0m.2 1.4h0m.2 1.4h0m.2 1.4h0m.2 1.3h0m.2 1.3h0m.2 1.3h0m.2 1.2h0m.2 1.1h0m.3 1.2h0m.2 1h0m.2 1h0m.2 .9h0m.2 .9h0m.2 .7h0m.2 .8h0m.2 .6h0m.2 .6h0m.2 .4h0m.2 .4h0m.2 .3h0m.2 .3h0m.3 .1h0m.2 .1h0m.2-.1h0m.2 0h0m.2-.2h0m.2-.3h0m.2-.3h0m.2-.4h0m.2-.5h0m.2-.6h0m.2-.6h0m.2-.7h0m.2-.7h0m.3-.8h0m.2-.9h0m.2-.9h0m.2-1h0m.2-1h0m.2-1h0m.2-1.2h0m.2-1.1h0m.2-1.2h0m.2-1.2h0m.2-1.2h0m.2-1.3h0m.2-1.2h0m.3-1.3h0m.2-1.3h0m.2-1.2h0m.2-1.3h0m.2-1.2h0m.2-1.3h0m.2-1.2h0m.2-1.2h0m.2-1.2h0m.2-1.1h0m.2-1.1h0m.2-1.1h0m.2-1h0m.2-1h0m.3-.9h0m.2-.9h0m.2-.8h0m.2-.7h0m.2-.7h0m.2-.6h0m.2-.5h0m.2-.5h0m.2-.4h0m.2-.4h0m.2-.2h0m.2-.2h0m.2 0h0m.3-.1h0m.2 .1h0m.2 .1h0m.2 .3h0m.2 .3h0m.2 .4h0m.2 .5h0m.2 .5h0m.2 .6h0m.2 .7h0m.2 .8h0m.2 .8h0m.2 .9h0m.3 1h0m.2 1h0m.2 1h0m.2 1.2h0m.2 1.1h0m.2 1.2h0m.2 1.2h0m.2 1.3h0m.2 1.3h0m.2 1.3h0m.2 1.3h0m.2 1.3h0m.2 1.3h0m.3 1.3h0m.2 1.3h0m.2 1.3h0m.2 1.3h0m.2 1.3h0m.2 1.2h0m.2 1.2h0m.2 1.2h0m.2 1.1h0m.2 1h0m.2 1.1h0m.2 .9h0m.2 .9h0m.3 .8h0m.2 .8h0m.2 .7h0m.2 .7h0m.2 .5h0m.2 .5h0m.2 .4h0m.2 .3h0m.2 .2h0m.2 .2h0m.2 .1h0m.2 0h0m.2-.1h0m.3-.1h0m.2-.2h0m.2-.2h0m.2-.3h0m.2-.3h0m.2-.4h0m.2-.5h0m.2-.4h0m.2-.6h0m.2-.6h0m.2-.6h0m.2-.6h0m.2-.8h0m.3-.7h0m.2-.8h0m.2-.8h0m.2-.8h0m.2-.9h0m.2-.9h0m.2-.9h0m.2-1h0m.2-.9h0m.2-1h0m.2-1h0m.2-1h0m.2-1h0m.2-1h0m.3-1h0m.2-1h0m.2-1h0m.2-1h0m.2-.9h0m.2-1h0m.2-.9h0m.2-.9h0m.2-.9h0m.2-.9h0m.2-.8h0m.2-.8h0m.2-.8h0m.3-.7h0m.2-.7h0m.2-.6h0m.2-.6h0m.2-.6h0m.2-.5h0m.2-.5h0m.2-.4h0m.2-.3h0m.2-.3h0m.2-.3h0m.2-.2h0m.2-.2h0m.3 0h0m.2-.1h0m.2 0h0m.2 .1h0m.2 .1h0m.2 .2h0m.2 .2h0m.2 .3h0m.2 .4h0m.2 .3h0m.2 .5h0m.2 .5h0m.2 .5h0m.3 .5h0m.2 .6h0m.2 .7h0m.2 .6h0m.2 .8h0m.2 .7h0m.2 .8h0m.2 .7h0m.2 .9h0m.2 .8h0m.2 .8h0m.2 .9h0m.2 .8h0m.3 .9h0m.2 .9h0m.2 .8h0m.2 .9h0m.2 .8h0m.2 .9h0m.2 .8h0m.2 .8h0m.2 .8h0m.2 .7h0m.2 .7h0m.2 .7h0m.2 .7h0m.3 .6h0m.2 .6h0m.2 .5h0m.2 .5h0m.2 .5h0m.2 .4h0m.2 .3h0m.2 .3h0m.2 .3h0m.2 .2h0m.2 .2h0m.2 0h0m.2 .1h0m.2 0h0m.3-.1h0m.2 0h0m.2-.1h0m.2-.2h0m.2-.1h0m.2-.2h0m.2-.3h0m.2-.2h0m.2-.3h0m.2-.3h0m.2-.4h0m.2-.3h0m.2-.4h0m.3-.4h0m.2-.5h0m.2-.4h0m.2-.5h0m.2-.5h0m.2-.5h0m.2-.5h0m.2-.5h0m.2-.6h0m.2-.5h0m.2-.6h0m.2-.6h0m.2-.5h0m.3-.6h0m.2-.6h0m.2-.6h0m.2-.5h0m.2-.6h0m.2-.5h0m.2-.6h0m.2-.5h0m.2-.5h0m.2-.5h0m.2-.5h0m.2-.5h0m.2-.5h0m.3-.4h0m.2-.4h0m.2-.4h0m.2-.4h0m.2-.3h0m.2-.3h0m.2-.3h0m.2-.3h0m.2-.2h0m.2-.2h0m.2-.1h0m.2-.2h0m.2-.1h0m.3 0h0m.2-.1h0m.2 0h0m.2 0h0m.2 .1h0m.2 .1h0m.2 .2h0m.2 .1h0m.2 .2h0m.2 .3h0m.2 .3h0m.2 .3h0m.2 .3h0m.3 .4h0m.2 .4h0m.2 .4h0m.2 .5h0m.2 .4h0m.2 .5h0m.2 .5h0m.2 .6h0m.2 .5h0m.2 .6h0m.2 .5h0m.2 .6h0m.2 .6h0m.2 .6h0m.3 .6h0m.2 .5h0m.2 .6h0m.2 .6h0m.2 .6h0m.2 .5h0m.2 .6h0m.2 .5h0m.2 .5h0m.2 .5h0m.2 .5h0m.2 .4h0m.2 .4h0m.3 .4h0m.2 .4h0m.2 .3h0m.2 .3h0m.2 .3h0m.2 .3h0m.2 .2h0m.2 .1h0m.2 .2h0m.2 .1h0m.2 .1h0m.2 0h0m.2 0h0m.3-.1h0m.2 0h0m.2-.1h0m.2-.2h0m.2-.1h0m.2-.2h0m.2-.2h0m.2-.3h0m.2-.3h0m.2-.3h0m.2-.3h0m.2-.3h0m.2-.4h0m.3-.4h0m.2-.4h0m.2-.5h0m.2-.4h0m.2-.5h0m.2-.4h0m.2-.5h0m.2-.5h0m.2-.5h0m.2-.6h0m.2-.5h0m.2-.5h0m.2-.5h0m.3-.5h0m.2-.6h0m.2-.5h0m.2-.5h0m.2-.5h0m.2-.5h0m.2-.4h0m.2-.5h0m.2-.4h0m.2-.5h0m.2-.4h0m.2-.3h0m.2-.4h0m.3-.4h0m.2-.3h0m.2-.3h0m.2-.2h0m.2-.3h0m.2-.2h0m.2-.2h0m.2-.1h0m.2-.1h0m.2-.1h0m.2-.1h0m.2 0h0m.2 0h0m.3 0h0m.2 .1h0m.2 .1h0m.2 0h0m.2 .2h0m.2 .1h0m.2 .1h0m.2 .2h0m.2 .2h0m.2 .2h0m.2 .2h0m.2 .3h0m.2 .2h0m.2 .3h0m.3 .3h0m.2 .3h0m.2 .3h0m.2 .4h0m.2 .3h0m.2 .3h0m.2 .4h0m.2 .4h0m.2 .3h0m.2 .4h0m.2 .4h0m.2 .4h0m.2 .4h0m.3 .3h0m.2 .4h0m.2 .4h0m.2 .4h0m.2 .4h0m.2 .3h0m.2 .4h0m.2 .3h0m.2 .4h0m.2 .3h0m.2 .3h0m.2 .3h0m.2 .3h0m.3 .3h0m.2 .3h0m.2 .2h0m.2 .3h0m.2 .2h0m.2 .2h0m.2 .2h0m.2 .1h0m.2 .2h0m.2 .1h0m.2 .1h0m.2 .1h0m.2 0h0m.3 .1h0m.2 0h0m.2 0h0m.2 0h0m.2-.1h0m.2-.1h0m.2 0h0m.2-.1h0m.2-.2h0m.2-.1h0m.2-.2h0m.2-.2h0m.2-.2h0m.3-.2h0m.2-.2h0m.2-.2h0m.2-.3h0m.2-.3h0m.2-.2h0m.2-.3h0m.2-.3h0m.2-.3h0m.2-.3h0m.2-.3h0m.2-.4h0m.2-.3h0m.3-.3h0m.2-.3h0m.2-.3h0m.2-.4h0m.2-.3h0m.2-.3h0m.2-.3h0m.2-.3h0m.2-.3h0m.2-.2h0m.2-.3h0m.2-.3h0m.2-.2h0m.2-.2h0m.3-.2h0m.2-.2h0m.2-.2h0m.2-.2h0m.2-.1h0m.2-.2h0m.2-.1h0m.2 0h0m.2-.1h0m.2-.1h0m.2 0h0m.2 0h0m.2 0h0m.3 0h0m.2 .1h0m.2 .1h0m.2 0h0m.2 .1h0m.2 .1h0m.2 .2h0m.2 .1h0m.2 .1h0m.2 .2h0m.2 .2h0m.2 .2h0m.2 .2h0m.3 .2h0m.2 .2h0m.2 .3h0m.2 .2h0m.2 .2h0m.2 .3h0m.2 .2h0m.2 .3h0m.2 .3h0m.2 .2h0m.2 .3h0m.2 .3h0m.2 .2h0m.3 .3h0m.2 .3h0m.2 .2h0m.2 .3h0m.2 .2h0m.2 .2h0m.2 .2h0m.2 .3h0m.2 .2h0m.2 .2h0m.2 .1h0m.2 .2h0m.2 .2h0m.3 .1h0m.2 .1h0m.2 .2h0m.2 0h0m.2 .1h0m.2 .1h0m.2 .1h0m.2 0h0m.2 0h0m.2 0h0m.2 0h0m.2-.1h0m.2 0h0m.3 0h0m.2-.1h0m.2-.1h0m.2-.1h0m.2-.1h0m.2-.1h0m.2-.1h0m.2-.2h0m.2-.1h0m.2-.2h0m.2-.2h0m.2-.1h0m.2-.2h0m.2-.2h0m.3-.2h0m.2-.2h0m.2-.2h0m.2-.3h0m.2-.2h0m.2-.2h0m.2-.2h0m.2-.3h0m.2-.2h0m.2-.2h0m.2-.3h0m.2-.2h0m.2-.2h0m.3-.3h0m.2-.2h0m.2-.2h0m.2-.2h0m.2-.2h0m.2-.2h0m.2-.2h0m.2-.2h0m.2-.2h0m.2-.1h0m.2-.2h0m.2-.2h0m.2-.1h0m.3-.1h0m.2-.1h0m.2-.1h0m.2-.1h0m.2-.1h0m.2-.1h0m.2 0h0m.2-.1h0m.2 0h0m.2 0h0m.2 0h0m.2 0h0m.2 0h0m.3 .1h0m.2 0h0m.2 .1h0m.2 .1h0m.2 0h0m.2 .1h0m.2 .1h0m.2 .1h0m.2 .2h0m.2 .1h0m.2 .1h0m.2 .2h0m.2 .1h0m.3 .2h0m.2 .2h0m.2 .1h0m.2 .2h0m.2 .2h0m.2 .2h0m.2 .2h0m.2 .2h0m.2 .2h0m.2 .2h0m.2 .2h0m.2 .2h0m.2 .2h0m.3 .2h0m.2 .2h0m.2 .2h0m.2 .2h0m.2 .1h0m.2 .2h0m.2 .2h0m.2 .2h0m.2 .1h0m.2 .2h0m.2 .1h0m.2 .2h0m.2 .1h0m.3 .1h0m.2 .1h0m.2 .1h0m.2 .1h0m.2 .1h0m.2 .1h0m.2 .1h0m.2 0h0m.2 0h0m.2 .1h0m.2 0h0m.2 0h0m.2 0h0m.2 0h0m.3-.1h0m.2 0h0m.2 0h0m.2-.1h0m.2-.1h0m.2-.1h0m.2 0h0m.2-.1h0m.2-.1h0m.2-.2h0m.2-.1h0m.2-.1h0m.2-.2h0m.3-.1h0m.2-.1h0m.2-.2h0m.2-.2h0m.2-.1h0m.2-.2h0m.2-.1h0m.2-.2h0m.2-.2h0m.2-.2h0m.2-.1h0m.2-.2h0m.2-.2h0m.3-.1h0m.2-.2h0m.2-.1h0m.2-.2h0m.2-.1h0m.2-.2h0m.2-.1h0m.2-.1h0m.2-.2h0m.2-.1h0m.2-.1h0m.2-.1h0m.2-.1h0m.3 0h0m.2-.1h0m.2-.1h0m.2 0h0m.2-.1h0m.2 0h0m.2 0h0m.2 0h0m.2 0h0m.2 0h0m.2 0h0m.2 .1h0m.2 0h0m.3 0h0m.2 .1h0m.2 0h0m.2 .1h0m.2 .1h0m.2 .1h0m.2 0h0m.2 .1h0m.2 .1h0m.2 .1h0m.2 .1h0m.2 .1h0m.2 .1h0m.3 .2h0m.2 .1h0m.2 .1h0m.2 .1h0m.2 .2h0m.2 .1h0m.2 .1h0m.2 .2h0m.2 .1h0m.2 .1h0m.2 .2h0m.2 .1h0m.2 .1h0m.2 .1h0m.3 .2h0m.2 .1h0m.2 .1h0m.2 .1h0m.2 .1h0m.2 .1h0m.2 .1h0m.2 .1h0m.2 .1h0m.2 .1h0m.2 .1h0m.2 .1h0m.2 0h0m.3 .1h0m.2 0h0m.2 .1h0m.2 0h0m.2 .1h0m.2 0h0m.2 0h0m.2 0h0m.2 0h0m.2 0h0m.2 0h0m.2-.1h0m.2 0h0m.3 0h0m.2-.1h0m.2 0h0m.2-.1h0m.2-.1h0m.2 0h0m.2-.1h0m.2-.1h0m.2-.1h0m.2-.1h0m.2-.1h0m.2-.1h0m.2-.2h0m.3-.1h0m.2-.1h0m.2-.1h0m.2-.2h0m.2-.1h0m.2-.1h0m.2-.2h0m.2-.1h0m.2-.1h0m.2-.2h0m.2-.1h0m.2-.1h0m.2-.1h0m.3-.2h0m.2-.1h0m.2-.1h0m.2-.1h0m.2-.1h0m.2-.1h0m.2-.1h0m.2-.1h0m.2-.1h0m.2-.1h0m.2-.1h0m.2 0h0m.2-.1h0m.3 0h0m.2-.1h0m.2 0h0m.2-.1h0m.2 0h0m.2 0h0m.2 0h0m.2 0h0m.2 0h0m.2 0h0m.2 .1h0m.2 0h0m.2 0h0m.2 .1h0m.3 0h0m.2 .1h0m.2 0h0m.2 .1h0m.2 0h0m.2 .1h0m.2 .1h0m.2 .1h0m.2 .1h0m.2 .1h0m.2 .1h0m.2 .1h0m.2 .1h0m.3 .1h0m.2 .1h0m.2 .1h0m.2 .1h0m.2 .1h0m.2 .1h0m.2 .1h0m.2 .1h0m.2 .1h0m.2 .2h0m.2 .1h0m.2 .1h0m.2 .1h0m.3 .1h0m.2 .1h0m.2 .1h0m.2 .1h0m.2 .1h0m.2 .1h0m.2 .1h0m.2 .1h0m.2 0h0m.2 .1h0m.2 .1h0m.2 .1h0m.2 0h0m.3 .1h0m.2 0h0m.2 .1h0m.2 0h0m.2 0h0m.2 .1h0m.2 0h0m.2 0h0m.2 0h0m.2 0h0m.2 0h0m.2 0h0m.2 0h0m.3-.1h0m.2 0h0m.2 0h0m.2-.1h0m.2 0h0m.2-.1h0m.2 0h0m.2-.1h0m.2-.1h0m.2 0h0m.2-.1h0m.2-.1h0m.2-.1h0m.3-.1h0m.2 0h0m.2-.1h0m.2-.1h0m.2-.1h0m.2-.1h0m.2-.1h0m.2-.1h0m.2-.1h0m.2-.1h0m.2-.1h0m.2-.1h0m.2-.1h0m.3-.1h0m.2-.1h0m.2-.1h0m.2 0h0m.2-.1h0m.2-.1h0m.2-.1h0m.2 0h0m.2-.1h0m.2-.1h0m.2 0h0m.2-.1h0m.2 0h0m.2-.1h0m.3 0h0m.2 0h0m.2-.1h0m.2 0h0m.2 0h0m.2 0h0m.2 0h0m.2 0h0m.2 0h0m.2 0h0m.2 .1h0m.2 0h0m.2 0h0m.3 .1h0m.2 0h0m.2 0h0m.2 .1h0m.2 .1h0m.2 0h0m.2 .1h0m.2 .1h0m.2 0h0m.2 .1h0m.2 .1h0m.2 .1h0m.2 0h0m.3 .1h0m.2 .1h0m.2 .1h0m.2 .1h0m.2 .1h0m.2 .1h0m.2 0h0m.2 .1h0m.2 .1h0m.2 .1h0m.2 .1h0m.2 .1h0m.2 0h0m.3 .1h0m.2 .1h0m.2 0h0m.2 .1h0m.2 .1h0m.2 0h0m.2 .1h0m.2 0h0m.2 .1h0m.2 0h0m.2 0h0m.2 0h0m.2 .1h0m.3 0h0m.2 0h0m.2 0h0m.2 0h0m.2 0h0m.2 0h0m.2 0h0m.2-.1h0m.2 0h0m.2 0h0m.2 0h0m.2-.1h0m.2 0h0m.3-.1h0m.2 0h0m.2-.1h0m.2 0h0m.2-.1h0m.2-.1h0m.2 0h0m.2-.1h0m.2-.1h0m.2 0h0m.2-.1h0m.2-.1h0m.2-.1h0m.2-.1h0m.3 0h0m.2-.1h0m.2-.1h0m.2-.1h0m.2-.1h0m.2 0h0m.2-.1h0m.2-.1h0m.2-.1h0m.2 0h0m.2-.1h0m.2-.1h0m.2 0h0m.3-.1h0m.2-.1h0m.2 0h0m.2-.1h0m.2 0h0m.2-.1h0m.2 0h0m.2-.1h0m.2 0h0m.2 0h0m.2 0h0m.2-.1h0m.2 0h0m.3 0h0m.2 0h0m.2 0h0m.2 0h0m.2 0h0m.2 0h0m.2 0h0m.2 .1h0m.2 0h0m.2 0h0m.2 .1h0m.2 0h0m.2 .1h0m.3 0h0m.2 .1h0m.2 0h0m.2 .1h0m.2 .1h0m.2 0h0m.2 .1h0m.2 .1h0m.2 0h0m.2 .1h0m.2 .1h0m.2 .1h0m.2 .1h0m.3 .1h0m.2 0h0m.2 .1h0m.2 .1h0m.2 .1h0m.2 .1h0m.2 0h0m.2 .1h0m.2 .1h0m.2 .1h0m.2 0h0m.2 .1h0m.2 .1h0m.3 0h0m.2 .1h0m.2 .1h0m.2 0h0m.2 .1h0m.2 0h0m.2 0h0m.2 .1h0m.2 0h0m.2 0h0m.2 .1h0m.2 0h0m.2 0h0m.2 0h0m.3 0h0m.2 0h0m.2 0h0m.2 0h0m.2 0h0m.2 0h0m.2-.1h0m.2 0h0m.2 0h0m.2 0h0m.2-.1h0m.2 0h0m.2 0h0m.3-.1h0m.2 0h0m.2-.1h0m.2 0h0m.2-.1h0m.2 0h0m.2-.1h0m.2 0h0m.2-.1h0m.2 0h0m.2-.1h0m.2-.1h0m.2 0h0m.3-.1h0m.2 0h0m.2-.1h0m.2-.1h0m.2 0h0m.2-.1h0m.2-.1h0m.2 0h0m.2-.1h0m.2 0h0m.2-.1h0m.2-.1h0m.2 0h0m.3-.1h0m.2 0h0m.2-.1h0m.2 0h0m.2-.1h0m.2 0h0m.2-.1h0m.2 0h0m.2-.1h0m.2 0h0m.2 0h0m.2-.1h0m.2 0h0m.3 0h0m.2 0h0m.2 0h0m.2-.1h0m.2 0h0m.2 0h0m.2 0h0m.2 0h0m.2 0h0m.2 0h0m.2 0h0m.2 0h0m.2 0h0m.3 0h0m.2 0h0m.2 0h0m.2 0h0m.2 .1h0m.2 0h0m.2 0h0m.2 0h0m.2 0h0m.2 0h0m.2 0h0m.2 .1h0m.2 0h0m.3 0h0m.2 0h0m.2 0h0m.2 0h0m.2 .1h0m.2 0h0m.2 0h0m.2 0h0m.2 .1h0m.2 0h0m.2 0h0m.2 0h0m.2 .1h0m.2 0h0m.3 0h0m.2 0h0m.2 0h0m.2 .1h0m.2 0h0m.2 0h0m.2 0h0m.2 .1h0m.2 0h0m.2 0h0m.2 0h0m.2 .1h0m.2 0h0m.3 0h0m.2 0h0m.2 0h0m.2 0h0m.2 .1h0m.2 0h0m.2 0h0m.2 0h0m.2 0h0m.2 0h0m.2 0h0m.2 .1h0m.2 0h0m.3 0h0m.2 0h0m.2 0h0m.2 0h0m.2 0h0m.2 0h0m.2 0h0" fill="none" stroke="#f0f" stroke-width="2.4" stroke-linecap="round"/>
<polyline points="32.00,383.90 32.42,383.98 32.83,384.06 33.25,384.14 33.66,384.22 34.08,384.29 34.50,384.34 34.91,384.39 35.33,384.43 35.74,384.47 36.16,384.50 36.58,384.53 36.99,384.56 37.41,384.59 37.82,384.62 38.24,384.65 38.66,384.68 39.07,384.70 39.49,384.72 39.90,384.75 40.32,384.77 40.74,384.79 41.15,384.81 41.57,384.83 41.98,384.85 42.40,384.87 42.82,384.89 43.23,384.91 43.65,384.92 44.06,384.94 44.48,384.96 44.90,384.97 45.31,384.99 45.73,385.01 46.14,385.03 46.56,385.04 46.98,385.06 47.39,385.08 47.81,385.10 48.22,385.11 48.64,385.13 49.06,385.15 49.47,385.17 49.89,385.19 50.30,385.22 50.72,385.24 51.14,385.26 51.55,385.28 51.97,385.30 52.38,385.32 52.80,385.35 53.22,385.37 53.63,385.39 54.05,385.41 54.46,385.43 54.88,385.46 55.30,385.48 55.71,385.50 56.13,385.52 56.54,385.54 56.96,385.57 57.38,385.59 57.79,385.61 58.21,385.63 58.62,385.65 59.04,385.67 59.46,385.70 59.87,385.72 60.29,385.74 60.70,385.76 61.12,385.78 61.54,385.80 61.95,385.82 62.37,385.84 62.78,385.87 63.20,385.89 63.62,385.91 64.03,385.93 64.45,385.95 64.86,385.97 65.28,385.99 65.70,386.01 66.11,386.03 66.53,386.05 66.94,386.07 67.36,386.08 67.78,386.10 68.19,386.12 68.61,386.14 69.02,386.16 69.44,386.18 69.86,386.19 70.27,386.21 70.69,386.23 71.10,386.25 71.52,386.27 71.94,386.29 72.35,386.31 72.77,386.33 73.18,386.35 73.60,386.37 74.02,386.39 74.43,386.41 74.85,386.43 75.26,386.44 75.68,386.46 76.10,386.47 76.51,386.48 76.93,386.49 77.34,386.50 77.76,386.50 78.18,386.50 78.59,386.50 79.01,386.50 79.42,386.50 79.84,386.50 80.26,386.50 80.67,386.50 81.09,386.50 81.50,386.50 81.92,386.50 82.34,386.50 82.75,386.50 83.17,386.50 83.58,386.50 84.00,386.50 84.42,386.40 84.83,385.88 85.25,385.01 85.66,383.93 86.08,382.85 86.50,381.89 86.91,381.09 87.33,380.23 87.74,379.46 88.16,379.06 88.58,379.03 88.99,379.13 89.41,379.29 89.82,379.49 90.24,379.68 90.66,379.85 91.07,379.97 91.49,379.99 91.90,379.83 92.32,379.52 92.74,379.08 93.15,378.59 93.57,378.10 93.98,377.67 94.40,377.36 94.82,377.16 95.23,376.99 95.65,376.85 96.06,376.72 96.48,376.61 96.90,376.49 97.31,376.38 97.73,376.25 98.14,376.12 98.56,376.00 98.98,375.87 99.39,375.75 99.81,375.63 100.22,375.51 100.64,375.38 101.06,375.25 101.47,375.10 101.89,374.94 102.30,374.78 102.72,374.60 103.14,374.42 103.55,374.24 103.97,374.04 104.38,373.84 104.80,373.62 105.22,373.39 105.63,373.15 106.05,372.89 106.46,372.61 106.88,372.31 107.30,371.99 107.71,371.65 108.13,371.28 108.54,370.83 108.96,370.31 109.38,369.70 109.79,369.03 110.21,368.31 110.62,367.54 111.04,366.74 111.46,365.91 111.87,365.06 112.29,364.19 112.70,363.23 113.12,362.20 113.54,361.11 113.95,359.96 114.37,358.77 114.78,357.55 115.20,356.28 115.62,354.94 116.03,353.53 116.45,352.06 116.86,350.51 117.28,348.91 117.70,347.24 118.11,345.50 118.53,343.66 118.94,341.73 119.36,339.70 119.78,337.58 120.19,335.37 120.61,333.04 121.02,330.57 121.44,327.91 121.86,325.04 122.27,321.83 122.69,318.05 123.10,313.93 123.52,309.70 123.94,305.61 124.35,301.77 124.77,298.02 125.18,294.25 125.60,290.35 126.02,286.27 126.43,282.01 126.85,277.66 127.26,273.22 127.68,268.41 128.10,263.58 128.51,259.15 128.93,255.56 129.34,252.10 129.76,248.86 130.18,246.51 130.59,245.59 131.01,246.64 131.42,249.84 131.84,254.53 132.26,263.74 132.67,275.99 133.09,281.84 133.50,286.54 133.92,293.84 134.34,302.88 134.75,311.66 135.17,320.91 135.58,331.97 136.00,341.64 136.42,347.45 136.83,352.06 137.25,355.80 137.66,358.95 138.08,361.78 138.50,364.29 138.91,366.49 139.33,368.45 139.74,370.17 140.16,371.70 140.58,373.07 140.99,374.27 141.41,375.29 141.82,376.19 142.24,377.05 142.66,377.86 143.07,378.64 143.49,379.38 143.90,380.06 144.32,380.70 144.74,381.28 145.15,381.80 145.57,382.26 145.98,382.65 146.40,382.97 146.82,383.26 147.23,383.54 147.65,383.79 148.06,384.04 148.48,384.27 148.90,384.49 149.31,384.70 149.73,384.90 150.14,385.09 150.56,385.27 150.98,385.44 151.39,385.60 151.81,385.76 152.22,385.91 152.64,386.05 153.06,386.19 153.47,386.32 153.89,386.45 154.30,386.58 154.72,386.71 155.14,386.83 155.55,386.96 155.97,387.08 156.38,387.20 156.80,387.32 157.22,387.43 157.63,387.54 158.05,387.65 158.46,387.75 158.88,387.86 159.30,387.96 159.71,388.05 160.13,388.15 160.54,388.24 160.96,388.33 161.38,388.42 161.79,388.50 162.21,388.59 162.62,388.67 163.04,388.75 163.46,388.83 163.87,388.90 164.29,388.98 164.70,389.05 165.12,389.12 165.54,389.19 165.95,389.26 166.37,389.33 166.78,389.40 167.20,389.47 167.62,389.53 168.03,389.60 168.45,389.67 168.86,389.73 169.28,389.79 169.70,389.85 170.11,389.91 170.53,389.97 170.94,390.03 171.36,390.08 171.78,390.13 172.19,390.18 172.61,390.23 173.02,390.27 173.44,390.32 173.86,390.36 174.27,390.39 174.69,390.43 175.10,390.46 175.52,390.49 175.94,390.52 176.35,390.54 176.77,390.57 177.18,390.60 177.60,390.63 178.02,390.66 178.43,390.68 178.85,390.71 179.26,390.73 179.68,390.76 180.10,390.78 180.51,390.81 180.93,390.83 181.34,390.85 181.76,390.88 182.18,390.90 182.59,390.92 183.01,390.94 183.42,390.96 183.84,390.97 184.26,390.99 184.67,391.01 185.09,391.03 185.50,391.04 185.92,391.06 186.34,391.07 186.75,391.08 187.17,391.09 187.58,391.10 188.00,391.12 188.42,391.12 188.83,391.13 189.25,391.14 189.66,391.15 190.08,391.15 190.50,391.16 190.91,391.16 191.33,391.17 191.74,391.17 192.16,391.17 192.58,391.18 192.99,391.18 193.41,391.19 193.82,391.19 194.24,391.19 194.66,391.20 195.07,391.20 195.49,391.21 195.90,391.21 196.32,391.21 196.74,391.22 197.15,391.22 197.57,391.22 197.98,391.23 198.40,391.23 198.82,391.23 199.23,391.23 199.65,391.24 200.06,391.24 200.48,391.24 200.90,391.24 201.31,391.24 201.73,391.24 202.14,391.25 202.56,391.25 202.98,391.25 203.39,391.25 203.81,391.25 204.22,391.25 204.64,391.25 205.06,391.25 205.47,391.25 205.89,391.25 206.30,391.25 206.72,391.25 207.14,391.25 207.55,391.25 207.97,391.25 208.38,391.25 208.80,391.25 209.22,391.25 209.63,391.25 210.05,391.25 210.46,391.25 210.88,391.25 211.30,391.25 211.71,391.25 212.13,391.25 212.54,391.25 212.96,391.25 213.38,391.25 213.79,391.25 214.21,391.25 214.62,391.25 215.04,391.25 215.46,391.25 215.87,391.25 216.29,391.25 216.70,391.25 217.12,391.25 217.54,391.25 217.95,391.25 218.37,391.25 218.78,391.25 219.20,391.25 219.62,391.25 220.03,391.25 220.45,391.25 220.86,391.25 221.28,391.25 221.70,391.25 222.11,391.25 222.53,391.25 222.94,391.25 223.36,391.25 223.78,391.25 224.19,391.25 224.61,391.25 225.02,391.25 225.44,391.25 225.86,391.25 226.27,391.25 226.69,391.25 227.10,391.25 227.52,391.25 227.94,391.25 228.35,391.25 228.77,391.25 229.18,391.25 229.60,391.25 230.02,391.25 230.43,391.25 230.85,391.25 231.26,391.25 231.68,391.25 232.10,391.25 232.51,391.25 232.93,391.25 233.34,391.25 233.76,391.25 234.18,391.25 234.59,391.25 235.01,391.25 235.42,391.25 235.84,391.25 236.26,391.25 236.67,391.25 237.09,391.25 237.50,391.25 237.92,391.25 238.34,391.25 238.75,391.25 239.17,391.25 239.58,391.25 240.00,391.25 240.42,391.25 240.83,391.25 241.25,391.25 241.66,391.25 242.08,391.25 242.50,391.25 242.91,391.25 243.33,391.25 243.74,391.25 244.16,391.25 244.58,391.25 244.99,391.25 245.41,391.25 245.82,391.25 246.24,391.25 246.66,391.25 247.07,391.25 247.49,391.25 247.90,391.25 248.32,391.25 248.74,391.25 249.15,391.25 249.57,391.25 249.98,391.25 250.40,391.25 250.82,391.25 251.23,391.25 251.65,391.25 252.06,391.25 252.48,391.25 252.90,391.25 253.31,391.25 253.73,391.25 254.14,391.25 254.56,391.25 254.98,391.25 255.39,391.25 255.81,391.25 256.22,391.25 256.64,391.25 257.06,391.25 257.47,391.25 257.89,391.25 258.30,391.25 258.72,391.25 259.14,391.25 259.55,391.25 259.97,391.25 260.38,391.25 260.80,391.25 261.22,391.25 261.63,391.25 262.05,391.25 262.46,391.25 262.88,391.25 263.30,391.25 263.71,391.25 264.13,391.25 264.54,391.25 264.96,391.25 265.38,391.25 265.79,391.25 266.21,391.25 266.62,391.25 267.04,391.25 267.46,391.25 267.87,391.25 268.29,391.25 268.70,391.25 269.12,391.25 269.54,391.25 269.95,391.25 270.37,391.25 270.78,391.25 271.20,391.25 271.62,391.25 272.03,391.25 272.45,391.25 272.86,391.25 273.28,391.25 273.70,391.25 274.11,391.25 274.53,391.25 274.94,391.25 275.36,391.25 275.78,391.25 276.19,391.25 276.61,391.25 277.02,391.25 277.44,391.25 277.86,391.25 278.27,391.25 278.69,391.25 279.10,391.25 279.52,391.25 279.94,391.25 280.35,391.25 280.77,391.25 281.18,391.25 281.60,391.25 282.02,391.25 282.43,391.25 282.85,391.25 283.26,391.25 283.68,391.25 284.10,391.25 284.51,391.25 284.93,391.25 285.34,391.25 285.76,391.25 286.18,391.25 286.59,391.25 287.01,391.25 287.42,391.25 287.84,391.25 288.26,391.25 288.67,391.25 289.09,391.25 289.50,391.25 289.92,391.25 290.34,391.25 290.75,391.25 291.17,391.25 291.58,391.25 292.00,391.25 292.42,391.25 292.83,391.25 293.25,391.25 293.66,391.25 294.08,391.25 294.50,391.25 294.91,391.25 295.33,391.25 295.74,391.25 296.16,391.25 296.58,391.25 296.99,391.25 297.41,391.25 297.82,391.25 298.24,391.25 298.66,391.25 299.07,391.25 299.49,391.25 299.90,391.25 300.32,391.25 300.74,391.25 301.15,391.25 301.57,391.25 301.98,391.25 302.40,391.25 302.82,391.25 303.23,391.25 303.65,391.25 304.06,391.25 304.48,391.25 304.90,391.25 305.31,391.25 305.73,391.25 306.14,391.25 306.56,391.25 306.98,391.25 307.39,391.25 307.81,391.25 308.22,391.25 308.64,391.25 309.06,391.25 309.47,391.25 309.89,391.25 310.30,391.25 310.72,391.25 311.14,391.25 311.55,391.25 311.97,391.25 312.38,391.25 312.80,391.25 313.22,391.25 313.63,391.25 314.05,391.25 314.46,391.25 314.88,391.25 315.30,391.25 315.71,391.25 316.13,391.25 316.54,391.25 316.96,391.25 317.38,391.25 317.79,391.25 318.21,391.25 318.62,391.25 319.04,391.25 319.46,391.25 319.87,391.25 320.29,391.25 320.70,391.25 321.12,391.25 321.54,391.25 321.95,391.25 322.37,391.25 322.78,391.25 323.20,391.25 323.62,391.25 324.03,391.25 324.45,391.25 324.86,391.25 325.28,391.25 325.70,391.25 326.11,391.25 326.53,391.25 326.94,391.25 327.36,391.25 327.78,391.25 328.19,391.25 328.61,391.25 329.02,391.25 329.44,391.25 329.86,391.25 330.27,391.25 330.69,391.25 331.10,391.25 331.52,391.25 331.94,391.25 332.35,391.25 332.77,391.25 333.18,391.25 333.60,391.25 334.02,391.25 334.43,391.25 334.85,391.25 335.26,391.25 335.68,391.25 336.10,391.25 336.51,391.25 336.93,391.25 337.34,391.25 337.76,391.25 338.18,391.25 338.59,391.25 339.01,391.25 339.42,391.25 339.84,391.25 340.26,391.25 340.67,391.25 341.09,391.25 341.50,391.25 341.92,391.25 342.34,391.25 342.75,391.25 343.17,391.25 343.58,391.25" fill="none" stroke="#000" stroke-width="0.6" stroke-dasharray="7.8,5.7"/>
<path d="M32 383.9h0m.4 .1h0m.4 .1h0m.4 0h0m.5 .1h0m.4 .1h0m.4 0h0m.4 .1h0m.4 0h0m.4 .1h0m.5 0h0m.4 0h0m.4 .1h0m.4 0h0m.4 0h0m.4 0h0m.5 .1h0m.4 0h0m.4 0h0m.4 0h0m.4 .1h0m.4 0h0m.5 0h0m.4 0h0m.4 .1h0m.4 0h0m.4 0h0m.4 0h0m.4 0h0m.5 0h0m.4 .1h0m.4 0h0m.4 0h0m.4 0h0m.4 0h0m.5 0h0m.4 .1h0m.4 0h0m.4 0h0m.4 0h0m.4 0h0m.5 .1h0m.4 0h0m.4 0h0m.4 0h0m.4 0h0m.4 .1h0m.5 0h0m.4 0h0m.4 0h0m.4 0h0m.4 .1h0m.4 0h0m.4 0h0m.5 0h0m.4 .1h0m.4 0h0m.4 0h0m.4 0h0m.4 0h0m.5 .1h0m.4 0h0m.4 0h0m.4 0h0m.4 .1h0m.4 0h0m.5 0h0m.4 0h0m.4 0h0m.4 .1h0m.4 0h0m.4 0h0m.5 0h0m.4 0h0m.4 .1h0m.4 0h0m.4 0h0m.4 0h0m.4 0h0m.5 .1h0m.4 0h0m.4 0h0m.4 0h0m.4 0h0m.4 .1h0m.5 0h0m.4 0h0m.4 0h0m.4 0h0m.4 .1h0m.4 0h0m.5 0h0m.4 0h0m.4 0h0m.4 .1h0m.4 0h0m.4 0h0m.5 0h0m.4 0h0m.4 .1h0m.4 0h0m.4 0h0m.4 0h0m.4 0h0m.5 0h0m.4 .1h0m.4 0h0m.4 0h0m.4 0h0m.4 0h0m.5 0h0m.4 0h0m.4 0h0m.4 0h0m.4 0h0m.4 0h0m.5 0h0m.4 0h0m.4 0h0m.4 0h0m.4 0h0m.4 0h0m.5 0h0m.4 0h0m.4 0h0m.4 0h0m.4-.1h0m.4-.5h0m.4-.9h0m.5-1.1h0m.4-1.1h0m.4-.9h0m.4-.8h0m.4-.9h0m.4-.7h0m.5-.4h0m.4-.1h0m.4 .1h0m.4 .2h0m.4 .2h0m.4 .2h0m.5 .2h0m.4 .1h0m.4 0h0m.4-.2h0m.4-.3h0m.4-.4h0m.5-.5h0m.4-.5h0m.4-.4h0m.4-.3h0m.4-.2h0m.4-.2h0m.4-.1h0m.5-.2h0m.4-.1h0m.4-.1h0m.4-.1h0m.4-.1h0m.4-.2h0m.5-.1h0m.4-.1h0m.4-.1h0m.4-.2h0m.4-.1h0m.4-.1h0m.5-.2h0m.4-.1h0m.4-.2h0m.4-.1h0m.4-.2h0m.4-.2h0m.5-.2h0m.4-.2h0m.4-.2h0m.4-.2h0m.4-.2h0m.4-.3h0m.4-.2h0m.5-.3h0m.4-.3h0m.4-.3h0m.4-.4h0m.4-.3h0m.4-.5h0m.5-.5h0m.4-.6h0m.4-.7h0m.4-.7h0m.4-.8h0m.4-.8h0m.5-.8h0m.4-.8h0m.4-.9h0m.4-1h0m.4-1h0m.4-1.1h0m.5-1.1h0m.4-1.2h0m.4-1.3h0m.4-1.2h0m.4-1.4h0m.4-1.4h0m.4-1.4h0m.5-1.6h0m.4-1.6h0m.4-1.7h0m.4-1.7h0m.4-1.8h0m.4-2h0m.5-2h0m.4-2.1h0m.4-2.2h0m.4-2.4h0m.4-2.4h0m.4-2.7h0m.5-2.9h0m.4-3.2h0m.4-3.7h0m.4-4.2h0m.4-4.2h0m.4-4.1h0m.5-3.8h0m.4-3.8h0m.4-3.8h0m.4-3.8h0m.4-4.1h0m.4-4.3h0m.4-4.3h0m.5-4.5h0m.4-4.8h0m.4-4.8h0m.4-4.4h0m.4-3.6h0m.4-3.5h0m.5-3.2h0m.4-2.4h0m.4-.9h0m.4 1h0m.4 3.2h0m.4 4.7h0m.5 9.2h0m.4 12.3h0m.4 5.8h0m.4 4.7h0m.4 7.3h0m.4 9.1h0m.5 8.8h0m.4 9.2h0m.4 11.1h0m.4 9.6h0m.4 5.8h0m.4 4.7h0m.4 3.7h0m.5 3.2h0m.4 2.8h0m.4 2.5h0m.4 2.2h0m.4 1.9h0m.4 1.8h0m.5 1.5h0m.4 1.4h0m.4 1.2h0m.4 1h0m.4 .9h0m.4 .8h0m.5 .9h0m.4 .7h0m.4 .8h0m.4 .7h0m.4 .6h0m.4 .6h0m.5 .5h0m.4 .5h0m.4 .3h0m.4 .4h0m.4 .3h0m.4 .2h0m.4 .3h0m.5 .2h0m.4 .3h0m.4 .2h0m.4 .2h0m.4 .2h0m.4 .2h0m.5 .2h0m.4 .1h0m.4 .2h0m.4 .2h0m.4 .1h0m.4 .2h0m.5 .1h0m.4 .1h0m.4 .2h0m.4 .1h0m.4 .1h0m.4 .1h0m.5 .2h0m.4 .1h0m.4 .1h0m.4 .1h0m.4 .1h0m.4 .1h0m.4 .1h0m.5 .2h0m.4 .1h0m.4 .1h0m.4 .1h0m.4 0h0m.4 .1h0m.5 .1h0m.4 .1h0m.4 .1h0m.4 .1h0m.4 .1h0m.4 0h0m.5 .1h0m.4 .1h0m.4 .1h0m.4 0h0m.4 .1h0m.4 .1h0m.5 .1h0m.4 0h0m.4 .1h0m.4 .1h0m.4 0h0m.4 .1h0m.4 .1h0m.5 0h0m.4 .1h0m.4 .1h0m.4 0h0m.4 .1h0m.4 0h0m.5 .1h0m.4 0h0m.4 .1h0m.4 0h0m.4 .1h0m.4 0h0m.5 .1h0m.4 0h0m.4 0h0m.4 .1h0m.4 0h0m.4 0h0m.5 0h0m.4 .1h0m.4 0h0m.4 0h0m.4 .1h0m.4 0h0m.4 0h0m.5 0h0m.4 .1h0m.4 0h0m.4 0h0m.4 0h0m.4 .1h0m.5 0h0m.4 0h0m.4 0h0m.4 0h0m.4 .1h0m.4 0h0m.5 0h0m.4 0h0m.4 0h0m.4 0h0m.4 .1h0m.4 0h0m.5 0h0m.4 0h0m.4 0h0m.4 0h0m.4 0h0m.4 0h0m.4 0h0m.5 0h0m.4 .1h0m.4 0h0m.4 0h0m.4 0h0m.4 0h0m.5 0h0m.4 0h0m.4 0h0m.4 0h0m.4 0h0m.4 0h0m.5 0h0m.4 0h0m.4 0h0m.4 0h0m.4 0h0m.4 0h0m.5 0h0m.4 0h0m.4 0h0m.4 0h0m.4 0h0m.4 0h0m.4 0h0m.5 0h0m.4 0h0m.4 0h0m.4 0h0m.4 0h0m.4 0h0m.5 0h0m.4 0h0m.4 0h0m.4 0h0m.4 0h0m.4 0h0m.5 0h0m.4 0h0m.4 0h0m.4 0h0m.4 0h0m.4 0h0m.5 0h0m.4 0h0m.4 0h0m.4 0h0m.4 0h0m.4 0h0m.4 0h0m.5 0h0m.4 0h0m.4 0h0m.4 0h0m.4 0h0m.4 0h0m.5 0h0m.4 0h0m.4 0h0m.4 0h0m.4 0h0m.4 0h0m.5 0h0m.4 0h0m.4 0h0m.4 0h0m.4 0h0m.4 0h0m.5 0h0m.4 0h0m.4 0h0m.4 0h0m.4 0h0m.4 0h0m.4 0h0m.5 0h0m.4 0h0m.4 0h0m.4 0h0m.4 0h0m.4 0h0m.5 0h0m.4 0h0m.4 0h0m.4 0h0m.4 0h0m.4 0h0m.5 0h0m.4 0h0m.4 0h0m.4 0h0m.4 0h0m.4 0h0m.5 0h0m.4 0h0m.4 0h0m.4 0h0m.4 0h0m.4 0h0m.4 0h0m.5 0h0m.4 0h0m.4 0h0m.4 0h0m.4 0h0m.4 0h0m.5 0h0m.4 0h0m.4 0h0m.4 0h0m.4 0h0m.4 0h0m.5 0h0m.4 0h0m.4 0h0m.4 0h0m.4 0h0m.4 0h0m.5 0h0m.4 0h0m.4 0h0m.4 0h0m.4 0h0m.4 0h0m.4 0h0m.5 0h0m.4 0h0m.4 0h0m.4 0h0m.4 0h0m.4 0h0m.5 0h0m.4 0h0m.4 0h0m.4 0h0m.4 0h0m.4 0h0m.5 0h0m.4 0h0m.4 0h0m.4 0h0m.4 0h0m.4 0h0m.5 0h0m.4 0h0m.4 0h0m.4 0h0m.4 0h0m.4 0h0m.4 0h0m.5 0h0m.4 0h0m.4 0h0m.4 0h0m.4 0h0m.4 0h0m.5 0h0m.4 0h0m.4 0h0m.4 0h0m.4 0h0m.4 0h0m.5 0h0m.4 0h0m.4 0h0m.4 0h0m.4 0h0m.4 0h0m.5 0h0m.4 0h0m.4 0h0m.4 0h0m.4 0h0m.4 0h0m.4 0h0m.5 0h0m.4 0h0m.4 0h0m.4 0h0m.4 0h0m.4 0h0m.5 0h0m.4 0h0m.4 0h0m.4 0h0m.4 0h0m.4 0h0m.5 0h0m.4 0h0m.4 0h0m.4 0h0m.4 0h0m.4 0h0m.5 0h0m.4 0h0m.4 0h0m.4 0h0m.4 0h0m.4 0h0m.4 0h0m.5 0h0m.4 0h0m.4 0h0m.4 0h0m.4 0h0m.4 0h0m.5 0h0m.4 0h0m.4 0h0m.4 0h0m.4 0h0m.4 0h0m.5 0h0m.4 0h0m.4 0h0m.4 0h0m.4 0h0m.4 0h0m.5 0h0m.4 0h0m.4 0h0m.4 0h0m.4 0h0m.4 0h0m.4 0h0m.5 0h0m.4 0h0m.4 0h0m.4 0h0m.4 0h0m.4 0h0m.5 0h0m.4 0h0m.4 0h0m.4 0h0m.4 0h0m.4 0h0m.5 0h0m.4 0h0m.4 0h0m.4 0h0m.4 0h0m.4 0h0m.5 0h0m.4 0h0m.4 0h0m.4 0h0m.4 0h0m.4 0h0m.4 0h0m.5 0h0m.4 0h0m.4 0h0m.4 0h0m.4 0h0m.4 0h0m.5 0h0m.4 0h0m.4 0h0m.4 0h0m.4 0h0m.4 0h0m.5 0h0m.4 0h0m.4 0h0m.4 0h0m.4 0h0m.4 0h0m.5 0h0m.4 0h0m.4 0h0m.4 0h0m.4 0h0m.4 0h0m.4 0h0m.5 0h0m.4 0h0m.4 0h0m.4 0h0m.4 0h0m.4 0h0m.5 0h0m.4 0h0m.4 0h0m.4 0h0m.4 0h0m.4 0h0m.5 0h0m.4 0h0m.4 0h0m.4 0h0m.4 0h0m.4 0h0m.5 0h0m.4 0h0m.4 0h0m.4 0h0m.4 0h0m.4 0h0m.4 0h0m.5 0h0m.4 0h0m.4 0h0m.4 0h0m.4 0h0m.4 0h0m.5 0h0m.4 0h0m.4 0h0m.4 0h0m.4 0h0m.4 0h0m.5 0h0m.4 0h0m.4 0h0m.4 0h0m.4 0h0m.4 0h0m.5 0h0m.4 0h0m.4 0h0m.4 0h0m.4 0h0m.4 0h0m.4 0h0m.5 0h0m.4 0h0m.4 0h0m.4 0h0m.4 0h0m.4 0h0m.5 0h0m.4 0h0m.4 0h0m.4 0h0m.4 0h0m.4 0h0m.5 0h0m.4 0h0m.4 0h0m.4 0h0m.4 0h0m.4 0h0m.5 0h0m.4 0h0m.4 0h0m.4 0h0m.4 0h0m.4 0h0m.4 0h0m.5 0h0m.4 0h0m.4 0h0m.4 0h0m.4 0h0m.4 0h0m.5 0h0m.4 0h0m.4 0h0m.4 0h0m.4 0h0m.4 0h0m.5 0h0m.4 0h0m.4 0h0m.4 0h0m.4 0h0m.4 0h0m.5 0h0m.4 0h0m.4 0h0" fill="none" stroke="#000" stroke-width="2.4" stroke-linecap="round"/>
<polyline points="32.00,387.73 32.42,387.76 32.83,387.78 33.25,387.81 33.66,387.84 34.08,387.86 34.50,387.89 34.91,387.92 35.33,387.94 35.74,387.97 36.16,387.99 36.58,388.02 36.99,388.04 37.41,388.07 37.82,388.09 38.24,388.12 38.66,388.14 39.07,388.17 39.49,388.19 39.90,388.21 40.32,388.24 40.74,388.26 41.15,388.29 41.57,388.31 41.98,388.33 42.40,388.35 42.82,388.38 43.23,388.40 43.65,388.42 44.06,388.44 44.48,388.46 44.90,388.48 45.31,388.50 45.73,388.52 46.14,388.54 46.56,388.56 46.98,388.58 47.39,388.60 47.81,388.61 48.22,388.63 48.64,388.65 49.06,388.66 49.47,388.68 49.89,388.70 50.30,388.71 50.72,388.73 51.14,388.74 51.55,388.76 51.97,388.77 52.38,388.79 52.80,388.80 53.22,388.82 53.63,388.83 54.05,388.85 54.46,388.87 54.88,388.88 55.30,388.90 55.71,388.91 56.13,388.93 56.54,388.94 56.96,388.96 57.38,388.97 57.79,388.99 58.21,389.00 58.62,389.02 59.04,389.03 59.46,389.05 59.87,389.06 60.29,389.08 60.70,389.09 61.12,389.11 61.54,389.12 61.95,389.14 62.37,389.15 62.78,389.17 63.20,389.18 63.62,389.20 64.03,389.21 64.45,389.22 64.86,389.24 65.28,389.25 65.70,389.26 66.11,389.28 66.53,389.29 66.94,389.30 67.36,389.31 67.78,389.33 68.19,389.34 68.61,389.35 69.02,389.36 69.44,389.37 69.86,389.39 70.27,389.40 70.69,389.41 71.10,389.42 71.52,389.43 71.94,389.44 72.35,389.45 72.77,389.46 73.18,389.47 73.60,389.48 74.02,389.49 74.43,389.49 74.85,389.50 75.26,389.51 75.68,389.52 76.10,389.53 76.51,389.53 76.93,389.54 77.34,389.55 77.76,389.55 78.18,389.56 78.59,389.56 79.01,389.57 79.42,389.57 79.84,389.58 80.26,389.58 80.67,389.59 81.09,389.59 81.50,389.59 81.92,389.59 82.34,389.60 82.75,389.60 83.17,389.60 83.58,389.60 84.00,389.60 84.42,389.58 84.83,389.45 85.25,389.24 85.66,388.95 86.08,388.63 86.50,388.30 86.91,387.82 87.33,387.19 87.74,386.59 88.16,386.25 88.58,386.21 88.99,386.24 89.41,386.29 89.82,386.35 90.24,386.41 90.66,386.46 91.07,386.49 91.49,386.50 91.90,386.39 92.32,386.18 92.74,385.90 93.15,385.59 93.57,385.28 93.98,385.01 94.40,384.83 94.82,384.73 95.23,384.65 95.65,384.57 96.06,384.51 96.48,384.45 96.90,384.40 97.31,384.35 97.73,384.31 98.14,384.27 98.56,384.23 98.98,384.19 99.39,384.15 99.81,384.11 100.22,384.06 100.64,384.01 101.06,383.95 101.47,383.89 101.89,383.82 102.30,383.74 102.72,383.66 103.14,383.56 103.55,383.47 103.97,383.36 104.38,383.25 104.80,383.13 105.22,383.01 105.63,382.88 106.05,382.74 106.46,382.60 106.88,382.44 107.30,382.29 107.71,382.12 108.13,381.94 108.54,381.76 108.96,381.56 109.38,381.34 109.79,381.11 110.21,380.86 110.62,380.59 111.04,380.31 111.46,380.01 111.87,379.69 112.29,379.36 112.70,379.01 113.12,378.64 113.54,378.25 113.95,377.85 114.37,377.41 114.78,376.91 115.20,376.36 115.62,375.75 116.03,375.10 116.45,374.41 116.86,373.67 117.28,372.89 117.70,372.08 118.11,371.24 118.53,370.37 118.94,369.45 119.36,368.45 119.78,367.36 120.19,366.19 120.61,364.95 121.02,363.65 121.44,362.31 121.86,360.92 122.27,359.51 122.69,358.08 123.10,356.64 123.52,355.22 123.94,353.81 124.35,352.37 124.77,350.90 125.18,349.35 125.60,347.70 126.02,345.93 126.43,344.01 126.85,341.92 127.26,339.61 127.68,336.42 128.10,332.65 128.51,329.01 128.93,326.22 129.34,323.68 129.76,321.64 130.18,321.04 130.59,321.32 131.01,321.93 131.42,322.90 131.84,324.93 132.26,327.70 132.67,331.02 133.09,335.01 133.50,339.11 133.92,342.99 134.34,346.97 134.75,350.87 135.17,354.46 135.58,357.58 136.00,360.38 136.42,362.99 136.83,365.39 137.25,367.57 137.66,369.44 138.08,371.07 138.50,372.56 138.91,373.92 139.33,375.16 139.74,376.28 140.16,377.27 140.58,378.15 140.99,378.96 141.41,379.75 141.82,380.50 142.24,381.22 142.66,381.89 143.07,382.52 143.49,383.10 143.90,383.62 144.32,384.09 144.74,384.50 145.15,384.83 145.57,385.10 145.98,385.35 146.40,385.59 146.82,385.82 147.23,386.03 147.65,386.24 148.06,386.44 148.48,386.63 148.90,386.81 149.31,386.98 149.73,387.14 150.14,387.29 150.56,387.43 150.98,387.57 151.39,387.70 151.81,387.82 152.22,387.93 152.64,388.03 153.06,388.13 153.47,388.22 153.89,388.31 154.30,388.38 154.72,388.46 155.14,388.52 155.55,388.58 155.97,388.65 156.38,388.71 156.80,388.76 157.22,388.82 157.63,388.87 158.05,388.93 158.46,388.98 158.88,389.03 159.30,389.08 159.71,389.13 160.13,389.17 160.54,389.22 160.96,389.26 161.38,389.31 161.79,389.35 162.21,389.39 162.62,389.43 163.04,389.47 163.46,389.50 163.87,389.54 164.29,389.57 164.70,389.61 165.12,389.64 165.54,389.68 165.95,389.71 166.37,389.74 166.78,389.77 167.20,389.80 167.62,389.83 168.03,389.86 168.45,389.89 168.86,389.92 169.28,389.94 169.70,389.97 170.11,390.00 170.53,390.02 170.94,390.05 171.36,390.08 171.78,390.10 172.19,390.13 172.61,390.15 173.02,390.18 173.44,390.20 173.86,390.23 174.27,390.25 174.69,390.28 175.10,390.31 175.52,390.33 175.94,390.36 176.35,390.39 176.77,390.41 177.18,390.44 177.60,390.47 178.02,390.49 178.43,390.52 178.85,390.55 179.26,390.58 179.68,390.60 180.10,390.63 180.51,390.66 180.93,390.68 181.34,390.71 181.76,390.74 182.18,390.76 182.59,390.79 183.01,390.81 183.42,390.84 183.84,390.86 184.26,390.89 184.67,390.91 185.09,390.94 185.50,390.96 185.92,390.98 186.34,391.00 186.75,391.02 187.17,391.04 187.58,391.06 188.00,391.08 188.42,391.10 188.83,391.12 189.25,391.13 189.66,391.15 190.08,391.16 190.50,391.18 190.91,391.19 191.33,391.20 191.74,391.21 192.16,391.22 192.58,391.23 192.99,391.23 193.41,391.24 193.82,391.24 194.24,391.25 194.66,391.25 195.07,391.25 195.49,391.25 195.90,391.25 196.32,391.25 196.74,391.25 197.15,391.25 197.57,391.25 197.98,391.25 198.40,391.25 198.82,391.25 199.23,391.25 199.65,391.25 200.06,391.25 200.48,391.25 200.90,391.25 201.31,391.25 201.73,391.25 202.14,391.25 202.56,391.25 202.98,391.25 203.39,391.25 203.81,391.25 204.22,391.25 204.64,391.25 205.06,391.25 205.47,391.25 205.89,391.25 206.30,391.25 206.72,391.25 207.14,391.25 207.55,391.25 207.97,391.25 208.38,391.25 208.80,391.25 209.22,391.25 209.63,391.25 210.05,391.25 210.46,391.25 210.88,391.25 211.30,391.25 211.71,391.25 212.13,391.25 212.54,391.25 212.96,391.25 213.38,391.25 213.79,391.25 214.21,391.25 214.62,391.25 215.04,391.25 215.46,391.25 215.87,391.25 216.29,391.25 216.70,391.25 217.12,391.25 217.54,391.25 217.95,391.25 218.37,391.25 218.78,391.25 219.20,391.25 219.62,391.25 220.03,391.25 220.45,391.25 220.86,391.25 221.28,391.25 221.70,391.25 222.11,391.25 222.53,391.25 222.94,391.25 223.36,391.25 223.78,391.25 224.19,391.25 224.61,391.25 225.02,391.25 225.44,391.25 225.86,391.25 226.27,391.25 226.69,391.25 227.10,391.25 227.52,391.25 227.94,391.25 228.35,391.25 228.77,391.25 229.18,391.25 229.60,391.25 230.02,391.25 230.43,391.25 230.85,391.25 231.26,391.25 231.68,391.25 232.10,391.25 232.51,391.25 232.93,391.25 233.34,391.25 233.76,391.25 234.18,391.25 234.59,391.25 235.01,391.25 235.42,391.25 235.84,391.25 236.26,391.25 236.67,391.25 237.09,391.25 237.50,391.25 237.92,391.25 238.34,391.25 238.75,391.25 239.17,391.25 239.58,391.25 240.00,391.25 240.42,391.25 240.83,391.25 241.25,391.25 241.66,391.25 242.08,391.25 242.50,391.25 242.91,391.25 243.33,391.25 243.74,391.25 244.16,391.25 244.58,391.25 244.99,391.25 245.41,391.25 245.82,391.25 246.24,391.25 246.66,391.25 247.07,391.25 247.49,391.25 247.90,391.25 248.32,391.25 248.74,391.25 249.15,391.25 249.57,391.25 249.98,391.25 250.40,391.25 250.82,391.25 251.23,391.25 251.65,391.25 252.06,391.25 252.48,391.25 252.90,391.25 253.31,391.25 253.73,391.25 254.14,391.25 254.56,391.25 254.98,391.25 255.39,391.25 255.81,391.25 256.22,391.25 256.64,391.25 257.06,391.25 257.47,391.25 257.89,391.25 258.30,391.25 258.72,391.25 259.14,391.25 259.55,391.25 259.97,391.25 260.38,391.25 260.80,391.25 261.22,391.25 261.63,391.25 262.05,391.25 262.46,391.25 262.88,391.25 263.30,391.25 263.71,391.25 264.13,391.25 264.54,391.25 264.96,391.25 265.38,391.25 265.79,391.25 266.21,391.25 266.62,391.25 267.04,391.25 267.46,391.25 267.87,391.25 268.29,391.25 268.70,391.25 269.12,391.25 269.54,391.25 269.95,391.25 270.37,391.25 270.78,391.25 271.20,391.25 271.62,391.25 272.03,391.25 272.45,391.25 272.86,391.25 273.28,391.25 273.70,391.25 274.11,391.25 274.53,391.25 274.94,391.25 275.36,391.25 275.78,391.25 276.19,391.25 276.61,391.25 277.02,391.25 277.44,391.25 277.86,391.25 278.27,391.25 278.69,391.25 279.10,391.25 279.52,391.25 279.94,391.25 280.35,391.25 280.77,391.25 281.18,391.25 281.60,391.25 282.02,391.25 282.43,391.25 282.85,391.25 283.26,391.25 283.68,391.25 284.10,391.25 284.51,391.25 284.93,391.25 285.34,391.25 285.76,391.25 286.18,391.25 286.59,391.25 287.01,391.25 287.42,391.25 287.84,391.25 288.26,391.25 288.67,391.25 289.09,391.25 289.50,391.25 289.92,391.25 290.34,391.25 290.75,391.25 291.17,391.25 291.58,391.25 292.00,391.25 292.42,391.25 292.83,391.25 293.25,391.25 293.66,391.25 294.08,391.25 294.50,391.25 294.91,391.25 295.33,391.25 295.74,391.25 296.16,391.25 296.58,391.25 296.99,391.25 297.41,391.25 297.82,391.25 298.24,391.25 298.66,391.25 299.07,391.25 299.49,391.25 299.90,391.25 300.32,391.25 300.74,391.25 301.15,391.25 301.57,391.25 301.98,391.25 302.40,391.25 302.82,391.25 303.23,391.25 303.65,391.25 304.06,391.25 304.48,391.25 304.90,391.25 305.31,391.25 305.73,391.25 306.14,391.25 306.56,391.25 306.98,391.25 307.39,391.25 307.81,391.25 308.22,391.25 308.64,391.25 309.06,391.25 309.47,391.25 309.89,391.25 310.30,391.25 310.72,391.25 311.14,391.25 311.55,391.25 311.97,391.25 312.38,391.25 312.80,391.25 313.22,391.25 313.63,391.25 314.05,391.25 314.46,391.25 314.88,391.25 315.30,391.25 315.71,391.25 316.13,391.25 316.54,391.25 316.96,391.25 317.38,391.25 317.79,391.25 318.21,391.25 318.62,391.25 319.04,391.25 319.46,391.25 319.87,391.25 320.29,391.25 320.70,391.25 321.12,391.25 321.54,391.25 321.95,391.25 322.37,391.25 322.78,391.25 323.20,391.25 323.62,391.25 324.03,391.25 324.45,391.25 324.86,391.25 325.28,391.25 325.70,391.25 326.11,391.25 326.53,391.25 326.94,391.25 327.36,391.25 327.78,391.25 328.19,391.25 328.61,391.25 329.02,391.25 329.44,391.25 329.86,391.25 330.27,391.25 330.69,391.25 331.10,391.25 331.52,391.25 331.94,391.25 332.35,391.25 332.77,391.25 333.18,391.25 333.60,391.25 334.02,391.25 334.43,391.25 334.85,391.25 335.26,391.25 335.68,391.25 336.10,391.25 336.51,391.25 336.93,391.25 337.34,391.25 337.76,391.25 338.18,391.25 338.59,391.25 339.01,391.25 339.42,391.25 339.84,391.25 340.26,391.25 340.67,391.25 341.09,391.25 341.50,391.25 341.92,391.25 342.34,391.25 342.75,391.25 343.17,391.25 343.58,391.25" fill="none" stroke="#00f" stroke-width="0.6"/>
<path d="M32 387.7h0m.4 .1h0m.4 0h0m.4 0h0m.5 0h0m.4 .1h0m.4 0h0m.4 0h0m.4 0h0m.4 .1h0m.5 0h0m.4 0h0m.4 0h0m.4 .1h0m.4 0h0m.4 0h0m.5 0h0m.4 .1h0m.4 0h0m.4 0h0m.4 0h0m.4 .1h0m.5 0h0m.4 0h0m.4 0h0m.4 .1h0m.4 0h0m.4 0h0m.4 0h0m.5 0h0m.4 .1h0m.4 0h0m.4 0h0m.4 0h0m.4 0h0m.5 .1h0m.4 0h0m.4 0h0m.4 0h0m.4 0h0m.4 0h0m.5 .1h0m.4 0h0m.4 0h0m.4 0h0m.4 0h0m.4 0h0m.5 .1h0m.4 0h0m.4 0h0m.4 0h0m.4 0h0m.4 0h0m.4 .1h0m.5 0h0m.4 0h0m.4 0h0m.4 0h0m.4 0h0m.4 0h0m.5 .1h0m.4 0h0m.4 0h0m.4 0h0m.4 0h0m.4 0h0m.5 0h0m.4 .1h0m.4 0h0m.4 0h0m.4 0h0m.4 0h0m.5 0h0m.4 .1h0m.4 0h0m.4 0h0m.4 0h0m.4 0h0m.4 0h0m.5 0h0m.4 0h0m.4 .1h0m.4 0h0m.4 0h0m.4 0h0m.5 0h0m.4 0h0m.4 0h0m.4 .1h0m.4 0h0m.4 0h0m.5 0h0m.4 0h0m.4 0h0m.4 0h0m.4 0h0m.4 0h0m.5 0h0m.4 .1h0m.4 0h0m.4 0h0m.4 0h0m.4 0h0m.4 0h0m.5 0h0m.4 0h0m.4 0h0m.4 0h0m.4 0h0m.4 0h0m.5 .1h0m.4 0h0m.4 0h0m.4 0h0m.4 0h0m.4 0h0m.5 0h0m.4 0h0m.4 0h0m.4 0h0m.4 0h0m.4 0h0m.5 0h0m.4 0h0m.4 0h0m.4 0h0m.4 0h0m.4-.1h0m.4-.3h0m.5-.2h0m.4-.4h0m.4-.3h0m.4-.5h0m.4-.6h0m.4-.6h0m.5-.4h0m.4 0h0m.4 0h0m.4 .1h0m.4 0h0m.4 .1h0m.5 .1h0m.4 0h0m.4 0h0m.4-.1h0m.4-.2h0m.4-.3h0m.5-.3h0m.4-.3h0m.4-.3h0m.4-.2h0m.4-.1h0m.4-.1h0m.4 0h0m.5-.1h0m.4-.1h0m.4 0h0m.4-.1h0m.4 0h0m.4 0h0m.5-.1h0m.4 0h0m.4-.1h0m.4 0h0m.4 0h0m.4-.1h0m.5 0h0m.4-.1h0m.4-.1h0m.4-.1h0m.4 0h0m.4-.1h0m.5-.1h0m.4-.1h0m.4-.1h0m.4-.2h0m.4-.1h0m.4-.1h0m.4-.2h0m.5-.1h0m.4-.2h0m.4-.1h0m.4-.2h0m.4-.2h0m.4-.1h0m.5-.2h0m.4-.3h0m.4-.2h0m.4-.2h0m.4-.3h0m.4-.3h0m.5-.3h0m.4-.3h0m.4-.3h0m.4-.4h0m.4-.4h0m.4-.3h0m.5-.5h0m.4-.4h0m.4-.5h0m.4-.5h0m.4-.6h0m.4-.7h0m.4-.7h0m.5-.7h0m.4-.8h0m.4-.8h0m.4-.9h0m.4-.8h0m.4-.9h0m.5-1h0m.4-1.1h0m.4-1.2h0m.4-1.2h0m.4-1.3h0m.4-1.4h0m.5-1.4h0m.4-1.4h0m.4-1.4h0m.4-1.5h0m.4-1.4h0m.4-1.4h0m.5-1.4h0m.4-1.5h0m.4-1.6h0m.4-1.6h0m.4-1.8h0m.4-1.9h0m.4-2.1h0m.5-2.3h0m.4-3.2h0m.4-3.8h0m.4-3.6h0m.4-2.8h0m.4-2.5h0m.5-2.1h0m.4-.6h0m.4 .3h0m.4 .6h0m.4 1h0m.4 2h0m.5 2.8h0m.4 3.3h0m.4 4h0m.4 4.1h0m.4 3.9h0m.4 4h0m.5 3.9h0m.4 3.6h0m.4 3.1h0m.4 2.8h0m.4 2.6h0m.4 2.4h0m.4 2.2h0m.5 1.8h0m.4 1.7h0m.4 1.5h0m.4 1.3h0m.4 1.3h0m.4 1.1h0m.5 1h0m.4 .9h0m.4 .8h0m.4 .7h0m.4 .8h0m.4 .7h0m.5 .7h0m.4 .6h0m.4 .6h0m.4 .5h0m.4 .5h0m.4 .4h0m.5 .3h0m.4 .3h0m.4 .3h0m.4 .2h0m.4 .2h0m.4 .2h0m.4 .2h0m.5 .2h0m.4 .2h0m.4 .2h0m.4 .2h0m.4 .1h0m.4 .2h0m.5 .1h0m.4 .2h0m.4 .1h0m.4 .1h0m.4 .1h0m.4 .1h0m.5 .1h0m.4 .1h0m.4 .1h0m.4 .1h0m.4 .1h0m.4 0h0m.5 .1h0m.4 0h0m.4 .1h0m.4 .1h0m.4 0h0m.4 .1h0m.4 0h0m.5 .1h0m.4 0h0m.4 .1h0m.4 0h0m.4 .1h0m.4 0h0m.5 .1h0m.4 0h0m.4 0h0m.4 .1h0m.4 0h0m.4 .1h0m.5 0h0m.4 0h0m.4 .1h0m.4 0h0m.4 0h0m.4 .1h0m.5 0h0m.4 0h0m.4 .1h0m.4 0h0m.4 0h0m.4 .1h0m.4 0h0m.5 0h0m.4 0h0m.4 .1h0m.4 0h0m.4 0h0m.4 0h0m.5 .1h0m.4 0h0m.4 0h0m.4 .1h0m.4 0h0m.4 0h0m.5 0h0m.4 .1h0m.4 0h0m.4 0h0m.4 0h0m.4 .1h0m.5 0h0m.4 0h0m.4 0h0m.4 .1h0m.4 0h0m.4 0h0m.4 0h0m.5 .1h0m.4 0h0m.4 0h0m.4 .1h0m.4 0h0m.4 0h0m.5 0h0m.4 .1h0m.4 0h0m.4 0h0m.4 0h0m.4 .1h0m.5 0h0m.4 0h0m.4 0h0m.4 .1h0m.4 0h0m.4 0h0m.5 0h0m.4 0h0m.4 .1h0m.4 0h0m.4 0h0m.4 0h0m.4 0h0m.5 0h0m.4 .1h0m.4 0h0m.4 0h0m.4 0h0m.4 0h0m.5 0h0m.4 0h0m.4 0h0m.4 0h0m.4 0h0m.4 0h0m.5 0h0m.4 0h0m.4 0h0m.4 0h0m.4 0h0m.4 0h0m.5 0h0m.4 0h0m.4 0h0m.4 0h0m.4 0h0m.4 0h0m.4 0h0m.5 0h0m.4 0h0m.4 0h0m.4 0h0m.4 0h0m.4 0h0m.5 0h0m.4 0h0m.4 0h0m.4 0h0m.4 0h0m.4 0h0m.5 0h0m.4 0h0m.4 0h0m.4 0h0m.4 0h0m.4 0h0m.5 0h0m.4 0h0m.4 0h0m.4 0h0m.4 0h0m.4 0h0m.4 0h0m.5 0h0m.4 0h0m.4 0h0m.4 0h0m.4 0h0m.4 0h0m.5 0h0m.4 0h0m.4 0h0m.4 0h0m.4 0h0m.4 0h0m.5 0h0m.4 0h0m.4 0h0m.4 0h0m.4 0h0m.4 0h0m.5 0h0m.4 0h0m.4 0h0m.4 0h0m.4 0h0m.4 0h0m.4 0h0m.5 0h0m.4 0h0m.4 0h0m.4 0h0m.4 0h0m.4 0h0m.5 0h0m.4 0h0m.4 0h0m.4 0h0m.4 0h0m.4 0h0m.5 0h0m.4 0h0m.4 0h0m.4 0h0m.4 0h0m.4 0h0m.5 0h0m.4 0h0m.4 0h0m.4 0h0m.4 0h0m.4 0h0m.4 0h0m.5 0h0m.4 0h0m.4 0h0m.4 0h0m.4 0h0m.4 0h0m.5 0h0m.4 0h0m.4 0h0m.4 0h0m.4 0h0m.4 0h0m.5 0h0m.4 0h0m.4 0h0m.4 0h0m.4 0h0m.4 0h0m.5 0h0m.4 0h0m.4 0h0m.4 0h0m.4 0h0m.4 0h0m.4 0h0m.5 0h0m.4 0h0m.4 0h0m.4 0h0m.4 0h0m.4 0h0m.5 0h0m.4 0h0m.4 0h0m.4 0h0m.4 0h0m.4 0h0m.5 0h0m.4 0h0m.4 0h0m.4 0h0m.4 0h0m.4 0h0m.5 0h0m.4 0h0m.4 0h0m.4 0h0m.4 0h0m.4 0h0m.4 0h0m.5 0h0m.4 0h0m.4 0h0m.4 0h0m.4 0h0m.4 0h0m.5 0h0m.4 0h0m.4 0h0m.4 0h0m.4 0h0m.4 0h0m.5 0h0m.4 0h0m.4 0h0m.4 0h0m.4 0h0m.4 0h0m.5 0h0m.4 0h0m.4 0h0m.4 0h0m.4 0h0m.4 0h0m.4 0h0m.5 0h0m.4 0h0m.4 0h0m.4 0h0m.4 0h0m.4 0h0m.5 0h0m.4 0h0m.4 0h0m.4 0h0m.4 0h0m.4 0h0m.5 0h0m.4 0h0m.4 0h0m.4 0h0m.4 0h0m.4 0h0m.5 0h0m.4 0h0m.4 0h0m.4 0h0m.4 0h0m.4 0h0m.4 0h0m.5 0h0m.4 0h0m.4 0h0m.4 0h0m.4 0h0m.4 0h0m.5 0h0m.4 0h0m.4 0h0m.4 0h0m.4 0h0m.4 0h0m.5 0h0m.4 0h0m.4 0h0m.4 0h0m.4 0h0m.4 0h0m.5 0h0m.4 0h0m.4 0h0m.4 0h0m.4 0h0m.4 0h0m.4 0h0m.5 0h0m.4 0h0m.4 0h0m.4 0h0m.4 0h0m.4 0h0m.5 0h0m.4 0h0m.4 0h0m.4 0h0m.4 0h0m.4 0h0m.5 0h0m.4 0h0m.4 0h0m.4 0h0m.4 0h0m.4 0h0m.5 0h0m.4 0h0m.4 0h0m.4 0h0m.4 0h0m.4 0h0m.4 0h0m.5 0h0m.4 0h0m.4 0h0m.4 0h0m.4 0h0m.4 0h0m.5 0h0m.4 0h0m.4 0h0m.4 0h0m.4 0h0m.4 0h0m.5 0h0m.4 0h0m.4 0h0m.4 0h0m.4 0h0m.4 0h0m.5 0h0m.4 0h0m.4 0h0m.4 0h0m.4 0h0m.4 0h0m.4 0h0m.5 0h0m.4 0h0m.4 0h0m.4 0h0m.4 0h0m.4 0h0m.5 0h0m.4 0h0m.4 0h0m.4 0h0m.4 0h0m.4 0h0m.5 0h0m.4 0h0m.4 0h0m.4 0h0m.4 0h0m.4 0h0m.5 0h0m.4 0h0m.4 0h0m.4 0h0m.4 0h0m.4 0h0m.4 0h0m.5 0h0m.4 0h0m.4 0h0m.4 0h0m.4 0h0m.4 0h0m.5 0h0m.4 0h0m.4 0h0m.4 0h0m.4 0h0m.4 0h0m.5 0h0m.4 0h0m.4 0h0m.4 0h0m.4 0h0m.4 0h0m.5 0h0m.4 0h0m.4 0h0m.4 0h0m.4 0h0m.4 0h0m.4 0h0m.5 0h0m.4 0h0m.4 0h0m.4 0h0m.4 0h0m.4 0h0m.5 0h0m.4 0h0m.4 0h0m.4 0h0m.4 0h0m.4 0h0m.5 0h0m.4 0h0m.4 0h0m.4 0h0m.4 0h0m.4 0h0m.5 0h0m.4 0h0m.4 0h0m.4 0h0m.4 0h0m.4 0h0m.4 0h0m.5 0h0m.4 0h0m.4 0h0m.4 0h0m.4 0h0m.4 0h0m.5 0h0m.4 0h0m.4 0h0m.4 0h0m.4 0h0m.4 0h0m.5 0h0m.4 0h0m.4 0h0m.4 0h0m.4 0h0m.4 0h0m.5 0h0m.4 0h0m.4 0h0" fill="none" stroke="#00f" stroke-width="2.2" stroke-linecap="round"/>
<polyline points="32.00,391.25 32.42,391.25 32.83,391.25 33.25,391.25 33.66,391.25 34.08,391.25 34.50,391.25 34.91,391.25 35.33,391.25 35.74,391.25 36.16,391.25 36.58,391.25 36.99,391.25 37.41,391.25 37.82,391.25 38.24,391.25 38.66,391.25 39.07,391.25 39.49,391.25 39.90,391.25 40.32,391.25 40.74,391.25 41.15,391.25 41.57,391.25 41.98,391.25 42.40,391.25 42.82,391.25 43.23,391.25 43.65,391.25 44.06,391.25 44.48,391.25 44.90,391.25 45.31,391.25 45.73,391.25 46.14,391.25 46.56,391.25 46.98,391.25 47.39,391.25 47.81,391.25 48.22,391.25 48.64,391.25 49.06,391.25 49.47,391.25 49.89,391.25 50.30,391.25 50.72,391.25 51.14,391.25 51.55,391.25 51.97,391.25 52.38,391.25 52.80,391.25 53.22,391.25 53.63,391.25 54.05,391.25 54.46,391.25 54.88,391.25 55.30,391.25 55.71,391.25 56.13,391.25 56.54,391.25 56.96,391.25 57.38,391.25 57.79,391.25 58.21,391.25 58.62,391.25 59.04,391.25 59.46,391.25 59.87,391.25 60.29,391.25 60.70,391.25 61.12,391.25 61.54,391.25 61.95,391.25 62.37,391.25 62.78,391.25 63.20,391.25 63.62,391.25 64.03,391.25 64.45,391.25 64.86,391.25 65.28,391.25 65.70,391.25 66.11,391.25 66.53,391.25 66.94,391.25 67.36,391.25 67.78,391.25 68.19,391.25 68.61,391.25 69.02,391.25 69.44,391.25 69.86,391.25 70.27,391.25 70.69,391.25 71.10,391.25 71.52,391.25 71.94,391.25 72.35,391.25 72.77,391.25 73.18,391.25 73.60,391.25 74.02,391.25 74.43,391.25 74.85,391.25 75.26,391.25 75.68,391.25 76.10,391.25 76.51,391.25 76.93,391.25 77.34,391.25 77.76,391.25 78.18,391.25 78.59,391.25 79.01,391.25 79.42,391.25 79.84,391.25 80.26,391.25 80.67,391.25 81.09,391.25 81.50,391.25 81.92,391.25 82.34,391.25 82.75,391.25 83.17,391.25 83.58,391.25 84.00,391.25 84.42,391.25 84.83,391.25 85.25,391.25 85.66,391.25 86.08,391.25 86.50,391.25 86.91,391.25 87.33,391.25 87.74,391.25 88.16,391.25 88.58,391.25 88.99,391.25 89.41,391.25 89.82,391.25 90.24,391.25 90.66,391.25 91.07,391.25 91.49,391.25 91.90,391.25 92.32,391.25 92.74,391.25 93.15,391.25 93.57,391.25 93.98,391.25 94.40,391.25 94.82,391.25 95.23,391.25 95.65,391.25 96.06,391.25 96.48,391.25 96.90,391.25 97.31,391.25 97.73,391.25 98.14,391.25 98.56,391.25 98.98,391.25 99.39,391.25 99.81,391.25 100.22,391.25 100.64,391.25 101.06,391.25 101.47,391.25 101.89,391.25 102.30,391.25 102.72,391.25 103.14,391.25 103.55,391.25 103.97,391.25 104.38,391.25 104.80,391.25 105.22,391.25 105.63,391.25 106.05,391.25 106.46,391.25 106.88,391.25 107.30,391.25 107.71,391.25 108.13,391.25 108.54,391.25 108.96,391.25 109.38,391.25 109.79,391.25 110.21,391.25 110.62,391.25 111.04,391.25 111.46,391.25 111.87,391.25 112.29,391.25 112.70,391.25 113.12,391.25 113.54,391.25 113.95,391.25 114.37,391.25 114.78,391.25 115.20,391.25 115.62,391.25 116.03,391.25 116.45,391.25 116.86,391.25 117.28,391.25 117.70,391.25 118.11,391.25 118.53,391.25 118.94,391.25 119.36,391.25 119.78,391.25 120.19,391.25 120.61,391.25 121.02,391.25 121.44,391.25 121.86,391.25 122.27,391.25 122.69,391.25 123.10,391.25 123.52,391.25 123.94,391.25 124.35,391.25 124.77,391.25 125.18,391.25 125.60,391.25 126.02,391.25 126.43,391.25 126.85,391.25 127.26,391.25 127.68,391.25 128.10,391.25 128.51,391.25 128.93,391.25 129.34,391.25 129.76,391.25 130.18,391.25 130.59,391.25 131.01,391.25 131.42,391.25 131.84,391.25 132.26,391.25 132.67,391.25 133.09,391.25 133.50,391.25 133.92,391.25 134.34,391.25 134.75,391.25 135.17,391.25 135.58,391.25 136.00,391.25 136.42,391.25 136.83,391.25 137.25,391.25 137.66,391.25 138.08,391.25 138.50,391.25 138.91,391.25 139.33,391.25 139.74,391.25 140.16,391.25 140.58,391.25 140.99,391.25 141.41,391.25 141.82,391.25 142.24,391.25 142.66,391.25 143.07,391.25 143.49,391.25 143.90,391.25 144.32,391.25 144.74,391.25 145.15,391.25 145.57,391.25 145.98,391.25 146.40,391.25 146.82,391.25 147.23,391.25 147.65,391.25 148.06,391.25 148.48,391.25 148.90,391.25 149.31,391.25 149.73,391.25 150.14,391.25 150.56,391.25 150.98,391.25 151.39,391.25 151.81,391.25 152.22,391.25 152.64,391.25 153.06,391.25 153.47,391.25 153.89,391.25 154.30,391.25 154.72,391.25 155.14,391.25 155.55,391.25 155.97,391.25 156.38,391.25 156.80,391.25 157.22,391.25 157.63,391.25 158.05,391.25 158.46,391.25 158.88,391.25 159.30,391.25 159.71,391.25 160.13,391.25 160.54,391.25 160.96,391.25 161.38,391.25 161.79,391.25 162.21,391.25 162.62,391.25 163.04,391.25 163.46,391.25 163.87,391.25 164.29,391.25 164.70,391.25 165.12,391.25 165.54,391.25 165.95,391.25 166.37,391.25 166.78,391.25 167.20,391.25 167.62,391.25 168.03,391.25 168.45,391.25 168.86,391.25 169.28,391.25 169.70,391.25 170.11,391.25 170.53,391.25 170.94,391.25 171.36,391.25 171.78,391.25 172.19,391.25 172.61,391.25 173.02,391.25 173.44,391.25 173.86,391.25 174.27,391.25 174.69,391.25 175.10,391.25 175.52,391.25 175.94,391.25 176.35,391.25 176.77,391.25 177.18,391.25 177.60,391.25 178.02,391.25 178.43,391.25 178.85,391.25 179.26,391.25 179.68,391.25 180.10,391.25 180.51,391.25 180.93,391.25 181.34,391.25 181.76,391.25 182.18,391.25 182.59,391.25 183.01,391.25 183.42,391.25 183.84,391.25 184.26,391.25 184.67,391.25 185.09,391.25 185.50,391.25 185.92,391.25 186.34,391.25 186.75,391.25 187.17,391.25 187.58,391.25 188.00,391.25 188.42,391.25 188.83,391.25 189.25,391.25 189.66,391.25 190.08,391.25 190.50,391.25 190.91,391.25 191.33,391.25 191.74,391.25 192.16,391.25 192.58,391.25 192.99,391.25 193.41,391.25 193.82,391.25 194.24,391.25 194.66,391.25 195.07,391.25 195.49,391.25 195.90,391.25 196.32,391.25 196.74,391.25 197.15,391.25 197.57,391.25 197.98,391.25 198.40,391.25 198.82,391.25 199.23,391.25 199.65,391.25 200.06,391.25 200.48,391.25 200.90,391.25 201.31,391.25 201.73,391.25 202.14,391.25 202.56,391.25 202.98,391.25 203.39,391.25 203.81,391.25 204.22,391.25 204.64,391.25 205.06,391.25 205.47,391.25 205.89,391.25 206.30,391.25 206.72,391.25 207.14,391.25 207.55,391.25 207.97,391.25 208.38,391.25 208.80,391.25 209.22,391.25 209.63,391.25 210.05,391.25 210.46,391.25 210.88,391.25 211.30,391.25 211.71,391.25 212.13,391.25 212.54,391.25 212.96,391.25 213.38,391.25 213.79,391.25 214.21,391.25 214.62,391.25 215.04,391.25 215.46,391.25 215.87,391.25 216.29,391.25 216.70,391.25 217.12,391.25 217.54,391.25 217.95,391.25 218.37,391.25 218.78,391.25 219.20,391.25 219.62,391.25 220.03,391.25 220.45,391.25 220.86,391.25 221.28,391.25 221.70,391.25 222.11,391.25 222.53,391.25 222.94,391.25 223.36,391.25 223.78,391.25 224.19,391.25 224.61,391.25 225.02,391.25 225.44,391.25 225.86,391.25 226.27,391.25 226.69,391.25 227.10,391.25 227.52,391.25 227.94,391.25 228.35,391.25 228.77,391.25 229.18,391.25 229.60,391.25 230.02,391.25 230.43,391.25 230.85,391.25 231.26,391.25 231.68,391.25 232.10,391.25 232.51,391.25 232.93,391.25 233.34,391.25 233.76,391.25 234.18,391.25 234.59,391.25 235.01,391.25 235.42,391.25 235.84,391.25 236.26,391.25 236.67,391.25 237.09,391.25 237.50,391.25 237.92,391.25 238.34,391.25 238.75,391.25 239.17,391.25 239.58,391.25 240.00,391.25 240.42,391.25 240.83,391.25 241.25,391.25 241.66,391.25 242.08,391.25 242.50,391.25 242.91,391.25 243.33,391.25 243.74,391.25 244.16,391.25 244.58,391.25 244.99,391.25 245.41,391.25 245.82,391.25 246.24,391.25 246.66,391.25 247.07,391.25 247.49,391.25 247.90,391.25 248.32,391.25 248.74,391.25 249.15,391.25 249.57,391.25 249.98,391.25 250.40,391.25 250.82,391.25 251.23,391.25 251.65,391.25 252.06,391.25 252.48,391.25 252.90,391.25 253.31,391.25 253.73,391.25 254.14,391.25 254.56,391.25 254.98,391.25 255.39,391.25 255.81,391.25 256.22,391.25 256.64,391.25 257.06,391.25 257.47,391.25 257.89,391.25 258.30,391.25 258.72,391.25 259.14,391.25 259.55,391.25 259.97,391.25 260.38,391.25 260.80,391.25 261.22,391.25 261.63,391.25 262.05,391.25 262.46,391.25 262.88,391.25 263.30,391.25 263.71,391.25 264.13,391.25 264.54,391.25 264.96,391.25 265.38,391.25 265.79,391.25 266.21,391.25 266.62,391.25 267.04,391.25 267.46,391.25 267.87,391.25 268.29,391.25 268.70,391.25 269.12,391.25 269.54,391.25 269.95,391.25 270.37,391.25 270.78,391.25 271.20,391.25 271.62,391.25 272.03,391.25 272.45,391.25 272.86,391.25 273.28,391.25 273.70,391.25 274.11,391.25 274.53,391.25 274.94,391.25 275.36,391.25 275.78,391.25 276.19,391.25 276.61,391.25 277.02,391.25 277.44,391.25 277.86,391.25 278.27,391.25 278.69,391.25 279.10,391.25 279.52,391.25 279.94,391.25 280.35,391.25 280.77,391.25 281.18,391.25 281.60,391.25 282.02,391.25 282.43,391.25 282.85,391.25 283.26,391.25 283.68,391.25 284.10,391.25 284.51,391.25 284.93,391.25 285.34,391.25 285.76,391.25 286.18,391.25 286.59,391.25 287.01,391.25 287.42,391.25 287.84,391.25 288.26,391.25 288.67,391.25 289.09,391.25 289.50,391.25 289.92,391.25 290.34,391.25 290.75,391.25 291.17,391.25 291.58,391.25 292.00,391.25 292.42,391.25 292.83,391.25 293.25,391.25 293.66,391.25 294.08,391.25 294.50,391.25 294.91,391.25 295.33,391.25 295.74,391.25 296.16,391.25 296.58,391.25 296.99,391.25 297.41,391.25 297.82,391.25 298.24,391.25 298.66,391.25 299.07,391.25 299.49,391.25 299.90,391.25 300.32,391.25 300.74,391.25 301.15,391.25 301.57,391.25 301.98,391.25 302.40,391.25 302.82,391.25 303.23,391.25 303.65,391.25 304.06,391.25 304.48,391.25 304.90,391.25 305.31,391.25 305.73,391.25 306.14,391.25 306.56,391.25 306.98,391.25 307.39,391.25 307.81,391.25 308.22,391.25 308.64,391.25 309.06,391.25 309.47,391.25 309.89,391.25 310.30,391.25 310.72,391.25 311.14,391.25 311.55,391.25 311.97,391.25 312.38,391.25 312.80,391.25 313.22,391.25 313.63,391.25 314.05,391.25 314.46,391.25 314.88,391.25 315.30,391.25 315.71,391.25 316.13,391.25 316.54,391.25 316.96,391.25 317.38,391.25 317.79,391.25 318.21,391.25 318.62,391.25 319.04,391.25 319.46,391.25 319.87,391.25 320.29,391.25 320.70,391.25 321.12,391.25 321.54,391.25 321.95,391.25 322.37,391.25 322.78,391.25 323.20,391.25 323.62,391.25 324.03,391.25 324.45,391.25 324.86,391.25 325.28,391.25 325.70,391.25 326.11,391.25 326.53,391.25 326.94,391.25 327.36,391.25 327.78,391.25 328.19,391.25 328.61,391.25 329.02,391.25 329.44,391.25 329.86,391.25 330.27,391.25 330.69,391.25 331.10,391.25 331.52,391.25 331.94,391.25 332.35,391.25 332.77,391.25 333.18,391.25 333.60,391.25 334.02,391.25 334.43,391.25 334.85,391.25 335.26,391.25 335.68,391.25 336.10,391.25 336.51,391.25 336.93,391.25 337.34,391.25 337.76,391.25 338.18,391.25 338.59,391.25 339.01,391.25 339.42,391.25 339.84,391.25 340.26,391.25 340.67,391.25 341.09,391.25 341.50,391.25 341.92,391.25 342.34,391.25 342.75,391.25 343.17,391.25 343.58,391.25" fill="none" stroke="#f00" stroke-width="0.6" stroke-dasharray="0.8,1.8"/>
<path d="M32 391.2h0m.4 0h0m.4 0h0m.4 0h0m.5 0h0m.4 0h0m.4 0h0m.4 0h0m.4 0h0m.4 0h0m.5 0h0m.4 0h0m.4 0h0m.4 0h0m.4 0h0m.4 0h0m.5 0h0m.4 0h0m.4 0h0m.4 0h0m.4 0h0m.4 0h0m.5 0h0m.4 0h0m.4 0h0m.4 0h0m.4 0h0m.4 0h0m.4 0h0m.5 0h0m.4 0h0m.4 0h0m.4 0h0m.4 0h0m.4 0h0m.5 0h0m.4 0h0m.4 0h0m.4 0h0m.4 0h0m.4 0h0m.5 0h0m.4 0h0m.4 0h0m.4 0h0m.4 0h0m.4 0h0m.5 0h0m.4 0h0m.4 0h0m.4 0h0m.4 0h0m.4 0h0m.4 0h0m.5 0h0m.4 0h0m.4 0h0m.4 0h0m.4 0h0m.4 0h0m.5 0h0m.4 0h0m.4 0h0m.4 0h0m.4 0h0m.4 0h0m.5 0h0m.4 0h0m.4 0h0m.4 0h0m.4 0h0m.4 0h0m.5 0h0m.4 0h0m.4 0h0m.4 0h0m.4 0h0m.4 0h0m.4 0h0m.5 0h0m.4 0h0m.4 0h0m.4 0h0m.4 0h0m.4 0h0m.5 0h0m.4 0h0m.4 0h0m.4 0h0m.4 0h0m.4 0h0m.5 0h0m.4 0h0m.4 0h0m.4 0h0m.4 0h0m.4 0h0m.5 0h0m.4 0h0m.4 0h0m.4 0h0m.4 0h0m.4 0h0m.4 0h0m.5 0h0m.4 0h0m.4 0h0m.4 0h0m.4 0h0m.4 0h0m.5 0h0m.4 0h0m.4 0h0m.4 0h0m.4 0h0m.4 0h0m.5 0h0m.4 0h0m.4 0h0m.4 0h0m.4 0h0m.4 0h0m.5 0h0m.4 0h0m.4 0h0m.4 0h0m.4 0h0m.4 0h0m.4 0h0m.5 0h0m.4 0h0m.4 0h0m.4 0h0m.4 0h0m.4 0h0m.5 0h0m.4 0h0m.4 0h0m.4 0h0m.4 0h0m.4 0h0m.5 0h0m.4 0h0m.4 0h0m.4 0h0m.4 0h0m.4 0h0m.5 0h0m.4 0h0m.4 0h0m.4 0h0m.4 0h0m.4 0h0m.4 0h0m.5 0h0m.4 0h0m.4 0h0m.4 0h0m.4 0h0m.4 0h0m.5 0h0m.4 0h0m.4 0h0m.4 0h0m.4 0h0m.4 0h0m.5 0h0m.4 0h0m.4 0h0m.4 0h0m.4 0h0m.4 0h0m.5 0h0m.4 0h0m.4 0h0m.4 0h0m.4 0h0m.4 0h0m.4 0h0m.5 0h0m.4 0h0m.4 0h0m.4 0h0m.4 0h0m.4 0h0m.5 0h0m.4 0h0m.4 0h0m.4 0h0m.4 0h0m.4 0h0m.5 0h0m.4 0h0m.4 0h0m.4 0h0m.4 0h0m.4 0h0m.5 0h0m.4 0h0m.4 0h0m.4 0h0m.4 0h0m.4 0h0m.4 0h0m.5 0h0m.4 0h0m.4 0h0m.4 0h0m.4 0h0m.4 0h0m.5 0h0m.4 0h0m.4 0h0m.4 0h0m.4 0h0m.4 0h0m.5 0h0m.4 0h0m.4 0h0m.4 0h0m.4 0h0m.4 0h0m.5 0h0m.4 0h0m.4 0h0m.4 0h0m.4 0h0m.4 0h0m.4 0h0m.5 0h0m.4 0h0m.4 0h0m.4 0h0m.4 0h0m.4 0h0m.5 0h0m.4 0h0m.4 0h0m.4 0h0m.4 0h0m.4 0h0m.5 0h0m.4 0h0m.4 0h0m.4 0h0m.4 0h0m.4 0h0m.5 0h0m.4 0h0m.4 0h0m.4 0h0m.4 0h0m.4 0h0m.4 0h0m.5 0h0m.4 0h0m.4 0h0m.4 0h0m.4 0h0m.4 0h0m.5 0h0m.4 0h0m.4 0h0m.4 0h0m.4 0h0m.4 0h0m.5 0h0m.4 0h0m.4 0h0m.4 0h0m.4 0h0m.4 0h0m.5 0h0m.4 0h0m.4 0h0m.4 0h0m.4 0h0m.4 0h0m.4 0h0m.5 0h0m.4 0h0m.4 0h0m.4 0h0m.4 0h0m.4 0h0m.5 0h0m.4 0h0m.4 0h0m.4 0h0m.4 0h0m.4 0h0m.5 0h0m.4 0h0m.4 0h0m.4 0h0m.4 0h0m.4 0h0m.5 0h0m.4 0h0m.4 0h0m.4 0h0m.4 0h0m.4 0h0m.4 0h0m.5 0h0m.4 0h0m.4 0h0m.4 0h0m.4 0h0m.4 0h0m.5 0h0m.4 0h0m.4 0h0m.4 0h0m.4 0h0m.4 0h0m.5 0h0m.4 0h0m.4 0h0m.4 0h0m.4 0h0m.4 0h0m.5 0h0m.4 0h0m.4 0h0m.4 0h0m.4 0h0m.4 0h0m.4 0h0m.5 0h0m.4 0h0m.4 0h0m.4 0h0m.4 0h0m.4 0h0m.5 0h0m.4 0h0m.4 0h0m.4 0h0m.4 0h0m.4 0h0m.5 0h0m.4 0h0m.4 0h0m.4 0h0m.4 0h0m.4 0h0m.5 0h0m.4 0h0m.4 0h0m.4 0h0m.4 0h0m.4 0h0m.4 0h0m.5 0h0m.4 0h0m.4 0h0m.4 0h0m.4 0h0m.4 0h0m.5 0h0m.4 0h0m.4 0h0m.4 0h0m.4 0h0m.4 0h0m.5 0h0m.4 0h0m.4 0h0m.4 0h0m.4 0h0m.4 0h0m.5 0h0m.4 0h0m.4 0h0m.4 0h0m.4 0h0m.4 0h0m.4 0h0m.5 0h0m.4 0h0m.4 0h0m.4 0h0m.4 0h0m.4 0h0m.5 0h0m.4 0h0m.4 0h0m.4 0h0m.4 0h0m.4 0h0m.5 0h0m.4 0h0m.4 0h0m.4 0h0m.4 0h0m.4 0h0m.5 0h0m.4 0h0m.4 0h0m.4 0h0m.4 0h0m.4 0h0m.4 0h0m.5 0h0m.4 0h0m.4 0h0m.4 0h0m.4 0h0m.4 0h0m.5 0h0m.4 0h0m.4 0h0m.4 0h0m.4 0h0m.4 0h0m.5 0h0m.4 0h0m.4 0h0m.4 0h0m.4 0h0m.4 0h0m.5 0h0m.4 0h0m.4 0h0m.4 0h0m.4 0h0m.4 0h0m.4 0h0m.5 0h0m.4 0h0m.4 0h0m.4 0h0m.4 0h0m.4 0h0m.5 0h0m.4 0h0m.4 0h0m.4 0h0m.4 0h0m.4 0h0m.5 0h0m.4 0h0m.4 0h0m.4 0h0m.4 0h0m.4 0h0m.5 0h0m.4 0h0m.4 0h0m.4 0h0m.4 0h0m.4 0h0m.4 0h0m.5 0h0m.4 0h0m.4 0h0m.4 0h0m.4 0h0m.4 0h0m.5 0h0m.4 0h0m.4 0h0m.4 0h0m.4 0h0m.4 0h0m.5 0h0m.4 0h0m.4 0h0m.4 0h0m.4 0h0m.4 0h0m.5 0h0m.4 0h0m.4 0h0m.4 0h0m.4 0h0m.4 0h0m.4 0h0m.5 0h0m.4 0h0m.4 0h0m.4 0h0m.4 0h0m.4 0h0m.5 0h0m.4 0h0m.4 0h0m.4 0h0m.4 0h0m.4 0h0m.5 0h0m.4 0h0m.4 0h0m.4 0h0m.4 0h0m.4 0h0m.5 0h0m.4 0h0m.4 0h0m.4 0h0m.4 0h0m.4 0h0m.4 0h0m.5 0h0m.4 0h0m.4 0h0m.4 0h0m.4 0h0m.4 0h0m.5 0h0m.4 0h0m.4 0h0m.4 0h0m.4 0h0m.4 0h0m.5 0h0m.4 0h0m.4 0h0m.4 0h0m.4 0h0m.4 0h0m.5 0h0m.4 0h0m.4 0h0m.4 0h0m.4 0h0m.4 0h0m.4 0h0m.5 0h0m.4 0h0m.4 0h0m.4 0h0m.4 0h0m.4 0h0m.5 0h0m.4 0h0m.4 0h0m.4 0h0m.4 0h0m.4 0h0m.5 0h0m.4 0h0m.4 0h0m.4 0h0m.4 0h0m.4 0h0m.5 0h0m.4 0h0m.4 0h0m.4 0h0m.4 0h0m.4 0h0m.4 0h0m.5 0h0m.4 0h0m.4 0h0m.4 0h0m.4 0h0m.4 0h0m.5 0h0m.4 0h0m.4 0h0m.4 0h0m.4 0h0m.4 0h0m.5 0h0m.4 0h0m.4 0h0m.4 0h0m.4 0h0m.4 0h0m.5 0h0m.4 0h0m.4 0h0m.4 0h0m.4 0h0m.4 0h0m.4 0h0m.5 0h0m.4 0h0m.4 0h0m.4 0h0m.4 0h0m.4 0h0m.5 0h0m.4 0h0m.4 0h0m.4 0h0m.4 0h0m.4 0h0m.5 0h0m.4 0h0m.4 0h0m.4 0h0m.4 0h0m.4 0h0m.5 0h0m.4 0h0m.4 0h0m.4 0h0m.4 0h0m.4 0h0m.4 0h0m.5 0h0m.4 0h0m.4 0h0m.4 0h0m.4 0h0m.4 0h0m.5 0h0m.4 0h0m.4 0h0m.4 0h0m.4 0h0m.4 0h0m.5 0h0m.4 0h0m.4 0h0m.4 0h0m.4 0h0m.4 0h0m.5 0h0m.4 0h0m.4 0h0m.4 0h0m.4 0h0m.4 0h0m.4 0h0m.5 0h0m.4 0h0m.4 0h0m.4 0h0m.4 0h0m.4 0h0m.5 0h0m.4 0h0m.4 0h0m.4 0h0m.4 0h0m.4 0h0m.5 0h0m.4 0h0m.4 0h0m.4 0h0m.4 0h0m.4 0h0m.5 0h0m.4 0h0m.4 0h0m.4 0h0m.4 0h0m.4 0h0m.4 0h0m.5 0h0m.4 0h0m.4 0h0m.4 0h0m.4 0h0m.4 0h0m.5 0h0m.4 0h0m.4 0h0m.4 0h0m.4 0h0m.4 0h0m.5 0h0m.4 0h0m.4 0h0m.4 0h0m.4 0h0m.4 0h0m.5 0h0m.4 0h0m.4 0h0m.4 0h0m.4 0h0m.4 0h0m.4 0h0m.5 0h0m.4 0h0m.4 0h0m.4 0h0m.4 0h0m.4 0h0m.5 0h0m.4 0h0m.4 0h0m.4 0h0m.4 0h0m.4 0h0m.5 0h0m.4 0h0m.4 0h0m.4 0h0m.4 0h0m.4 0h0m.5 0h0m.4 0h0m.4 0h0m.4 0h0m.4 0h0m.4 0h0m.4 0h0m.5 0h0m.4 0h0m.4 0h0m.4 0h0m.4 0h0m.4 0h0m.5 0h0m.4 0h0m.4 0h0m.4 0h0m.4 0h0m.4 0h0m.5 0h0m.4 0h0m.4 0h0m.4 0h0m.4 0h0m.4 0h0m.5 0h0m.4 0h0m.4 0h0m.4 0h0m.4 0h0m.4 0h0m.4 0h0m.5 0h0m.4 0h0m.4 0h0m.4 0h0m.4 0h0m.4 0h0m.5 0h0m.4 0h0m.4 0h0m.4 0h0m.4 0h0m.4 0h0m.5 0h0m.4 0h0m.4 0h0m.4 0h0m.4 0h0m.4 0h0m.5 0h0m.4 0h0m.4 0h0" fill="none" stroke="#f00" stroke-width="2.5" stroke-linecap="round"/>
<polyline points="32.00,387.43 32.42,387.46 32.83,387.48 33.25,387.51 33.66,387.53 34.08,387.56 34.50,387.59 34.91,387.61 35.33,387.64 35.74,387.66 36.16,387.69 36.58,387.71 36.99,387.74 37.41,387.76 37.82,387.78 38.24,387.81 38.66,387.83 39.07,387.86 39.49,387.88 39.90,387.90 40.32,387.93 40.74,387.95 41.15,387.97 41.57,387.99 41.98,388.02 42.40,388.04 42.82,388.06 43.23,388.08 43.65,388.10 44.06,388.13 44.48,388.15 44.90,388.17 45.31,388.19 45.73,388.21 46.14,388.23 46.56,388.25 46.98,388.27 47.39,388.29 47.81,388.31 48.22,388.32 48.64,388.34 49.06,388.36 49.47,388.38 49.89,388.40 50.30,388.41 50.72,388.43 51.14,388.45 51.55,388.46 51.97,388.48 52.38,388.50 52.80,388.52 53.22,388.54 53.63,388.55 54.05,388.57 54.46,388.59 54.88,388.61 55.30,388.63 55.71,388.65 56.13,388.66 56.54,388.68 56.96,388.70 57.38,388.72 57.79,388.74 58.21,388.75 58.62,388.77 59.04,388.79 59.46,388.81 59.87,388.83 60.29,388.84 60.70,388.86 61.12,388.88 61.54,388.90 61.95,388.91 62.37,388.93 62.78,388.95 63.20,388.96 63.62,388.98 64.03,388.99 64.45,389.01 64.86,389.03 65.28,389.04 65.70,389.06 66.11,389.07 66.53,389.08 66.94,389.10 67.36,389.11 67.78,389.12 68.19,389.14 68.61,389.15 69.02,389.16 69.44,389.17 69.86,389.18 70.27,389.20 70.69,389.21 71.10,389.22 71.52,389.22 71.94,389.23 72.35,389.24 72.77,389.25 73.18,389.26 73.60,389.26 74.02,389.27 74.43,389.28 74.85,389.28 75.26,389.29 75.68,389.29 76.10,389.29 76.51,389.30 76.93,389.30 77.34,389.30 77.76,389.30 78.18,389.30 78.59,389.30 79.01,389.30 79.42,389.30 79.84,389.30 80.26,389.30 80.67,389.30 81.09,389.30 81.50,389.30 81.92,389.30 82.34,389.30 82.75,389.30 83.17,389.30 83.58,389.30 84.00,389.30 84.42,389.27 84.83,389.10 85.25,388.80 85.66,388.40 86.08,387.96 86.50,387.50 86.91,386.82 87.33,385.92 87.74,385.05 88.16,384.57 88.58,384.51 88.99,384.54 89.41,384.59 89.82,384.65 90.24,384.71 90.66,384.76 91.07,384.79 91.49,384.79 91.90,384.66 92.32,384.40 92.74,384.05 93.15,383.65 93.57,383.27 93.98,382.94 94.40,382.74 94.82,382.63 95.23,382.54 95.65,382.47 96.06,382.40 96.48,382.34 96.90,382.29 97.31,382.25 97.73,382.21 98.14,382.17 98.56,382.13 98.98,382.10 99.39,382.06 99.81,382.02 100.22,381.97 100.64,381.92 101.06,381.86 101.47,381.80 101.89,381.72 102.30,381.63 102.72,381.53 103.14,381.41 103.55,381.28 103.97,381.13 104.38,380.97 104.80,380.81 105.22,380.63 105.63,380.45 106.05,380.26 106.46,380.06 106.88,379.86 107.30,379.65 107.71,379.44 108.13,379.21 108.54,378.98 108.96,378.73 109.38,378.47 109.79,378.20 110.21,377.91 110.62,377.61 111.04,377.30 111.46,376.97 111.87,376.62 112.29,376.26 112.70,375.88 113.12,375.48 113.54,375.05 113.95,374.57 114.37,374.03 114.78,373.44 115.20,372.80 115.62,372.12 116.03,371.41 116.45,370.66 116.86,369.87 117.28,369.03 117.70,368.10 118.11,367.06 118.53,365.92 118.94,364.62 119.36,363.17 119.78,361.58 120.19,359.87 120.61,358.06 121.02,356.14 121.44,353.97 121.86,351.62 122.27,349.14 122.69,346.59 123.10,344.06 123.52,341.59 123.94,339.26 124.35,337.04 124.77,334.89 125.18,332.76 125.60,330.62 126.02,328.43 126.43,326.13 126.85,323.70 127.26,321.03 127.68,318.16 128.10,315.28 128.51,312.54 128.93,309.76 129.34,306.72 129.76,304.06 130.18,302.66 130.59,303.01 131.01,304.62 131.42,306.71 131.84,309.53 132.26,312.68 132.67,315.75 133.09,319.06 133.50,322.82 133.92,327.06 134.34,331.49 134.75,336.19 135.17,340.69 135.58,344.97 136.00,349.13 136.42,352.99 136.83,356.46 137.25,359.56 137.66,362.44 138.08,365.10 138.50,367.50 138.91,369.59 139.33,371.42 139.74,373.09 140.16,374.58 140.58,375.89 140.99,376.98 141.41,377.92 141.82,378.80 142.24,379.63 142.66,380.39 143.07,381.08 143.49,381.69 143.90,382.22 144.32,382.66 144.74,383.01 145.15,383.32 145.57,383.61 145.98,383.90 146.40,384.17 146.82,384.42 147.23,384.66 147.65,384.89 148.06,385.11 148.48,385.32 148.90,385.51 149.31,385.70 149.73,385.87 150.14,386.04 150.56,386.20 150.98,386.34 151.39,386.48 151.81,386.61 152.22,386.74 152.64,386.86 153.06,386.97 153.47,387.07 153.89,387.17 154.30,387.27 154.72,387.36 155.14,387.46 155.55,387.54 155.97,387.63 156.38,387.72 156.80,387.80 157.22,387.88 157.63,387.96 158.05,388.04 158.46,388.11 158.88,388.19 159.30,388.26 159.71,388.33 160.13,388.40 160.54,388.46 160.96,388.53 161.38,388.59 161.79,388.65 162.21,388.71 162.62,388.77 163.04,388.83 163.46,388.88 163.87,388.94 164.29,388.99 164.70,389.04 165.12,389.09 165.54,389.14 165.95,389.19 166.37,389.24 166.78,389.29 167.20,389.33 167.62,389.38 168.03,389.42 168.45,389.46 168.86,389.50 169.28,389.55 169.70,389.59 170.11,389.63 170.53,389.67 170.94,389.70 171.36,389.74 171.78,389.78 172.19,389.82 172.61,389.85 173.02,389.89 173.44,389.93 173.86,389.97 174.27,390.00 174.69,390.04 175.10,390.08 175.52,390.12 175.94,390.15 176.35,390.19 176.77,390.23 177.18,390.27 177.60,390.30 178.02,390.34 178.43,390.37 178.85,390.41 179.26,390.45 179.68,390.48 180.10,390.52 180.51,390.55 180.93,390.58 181.34,390.62 181.76,390.65 182.18,390.68 182.59,390.71 183.01,390.75 183.42,390.78 183.84,390.81 184.26,390.83 184.67,390.86 185.09,390.89 185.50,390.92 185.92,390.94 186.34,390.97 186.75,390.99 187.17,391.02 187.58,391.04 188.00,391.06 188.42,391.08 188.83,391.10 189.25,391.12 189.66,391.14 190.08,391.15 190.50,391.17 190.91,391.18 191.33,391.19 191.74,391.21 192.16,391.22 192.58,391.23 192.99,391.23 193.41,391.24 193.82,391.24 194.24,391.25 194.66,391.25 195.07,391.25 195.49,391.25 195.90,391.25 196.32,391.25 196.74,391.25 197.15,391.25 197.57,391.25 197.98,391.25 198.40,391.25 198.82,391.25 199.23,391.25 199.65,391.25 200.06,391.25 200.48,391.25 200.90,391.25 201.31,391.25 201.73,391.25 202.14,391.25 202.56,391.25 202.98,391.25 203.39,391.25 203.81,391.25 204.22,391.25 204.64,391.25 205.06,391.25 205.47,391.25 205.89,391.25 206.30,391.25 206.72,391.25 207.14,391.25 207.55,391.25 207.97,391.25 208.38,391.25 208.80,391.25 209.22,391.25 209.63,391.25 210.05,391.25 210.46,391.25 210.88,391.25 211.30,391.25 211.71,391.25 212.13,391.25 212.54,391.25 212.96,391.25 213.38,391.25 213.79,391.25 214.21,391.25 214.62,391.25 215.04,391.25 215.46,391.25 215.87,391.25 216.29,391.25 216.70,391.25 217.12,391.25 217.54,391.25 217.95,391.25 218.37,391.25 218.78,391.25 219.20,391.25 219.62,391.25 220.03,391.25 220.45,391.25 220.86,391.25 221.28,391.25 221.70,391.25 222.11,391.25 222.53,391.25 222.94,391.25 223.36,391.25 223.78,391.25 224.19,391.25 224.61,391.25 225.02,391.25 225.44,391.25 225.86,391.25 226.27,391.25 226.69,391.25 227.10,391.25 227.52,391.25 227.94,391.25 228.35,391.25 228.77,391.25 229.18,391.25 229.60,391.25 230.02,391.25 230.43,391.25 230.85,391.25 231.26,391.25 231.68,391.25 232.10,391.25 232.51,391.25 232.93,391.25 233.34,391.25 233.76,391.25 234.18,391.25 234.59,391.25 235.01,391.25 235.42,391.25 235.84,391.25 236.26,391.25 236.67,391.25 237.09,391.25 237.50,391.25 237.92,391.25 238.34,391.25 238.75,391.25 239.17,391.25 239.58,391.25 240.00,391.25 240.42,391.25 240.83,391.25 241.25,391.25 241.66,391.25 242.08,391.25 242.50,391.25 242.91,391.25 243.33,391.25 243.74,391.25 244.16,391.25 244.58,391.25 244.99,391.25 245.41,391.25 245.82,391.25 246.24,391.25 246.66,391.25 247.07,391.25 247.49,391.25 247.90,391.25 248.32,391.25 248.74,391.25 249.15,391.25 249.57,391.25 249.98,391.25 250.40,391.25 250.82,391.25 251.23,391.25 251.65,391.25 252.06,391.25 252.48,391.25 252.90,391.25 253.31,391.25 253.73,391.25 254.14,391.25 254.56,391.25 254.98,391.25 255.39,391.25 255.81,391.25 256.22,391.25 256.64,391.25 257.06,391.25 257.47,391.25 257.89,391.25 258.30,391.25 258.72,391.25 259.14,391.25 259.55,391.25 259.97,391.25 260.38,391.25 260.80,391.25 261.22,391.25 261.63,391.25 262.05,391.25 262.46,391.25 262.88,391.25 263.30,391.25 263.71,391.25 264.13,391.25 264.54,391.25 264.96,391.25 265.38,391.25 265.79,391.25 266.21,391.25 266.62,391.25 267.04,391.25 267.46,391.25 267.87,391.25 268.29,391.25 268.70,391.25 269.12,391.25 269.54,391.25 269.95,391.25 270.37,391.25 270.78,391.25 271.20,391.25 271.62,391.25 272.03,391.25 272.45,391.25 272.86,391.25 273.28,391.25 273.70,391.25 274.11,391.25 274.53,391.25 274.94,391.25 275.36,391.25 275.78,391.25 276.19,391.25 276.61,391.25 277.02,391.25 277.44,391.25 277.86,391.25 278.27,391.25 278.69,391.25 279.10,391.25 279.52,391.25 279.94,391.25 280.35,391.25 280.77,391.25 281.18,391.25 281.60,391.25 282.02,391.25 282.43,391.25 282.85,391.25 283.26,391.25 283.68,391.25 284.10,391.25 284.51,391.25 284.93,391.25 285.34,391.25 285.76,391.25 286.18,391.25 286.59,391.25 287.01,391.25 287.42,391.25 287.84,391.25 288.26,391.25 288.67,391.25 289.09,391.25 289.50,391.25 289.92,391.25 290.34,391.25 290.75,391.25 291.17,391.25 291.58,391.25 292.00,391.25 292.42,391.25 292.83,391.25 293.25,391.25 293.66,391.25 294.08,391.25 294.50,391.25 294.91,391.25 295.33,391.25 295.74,391.25 296.16,391.25 296.58,391.25 296.99,391.25 297.41,391.25 297.82,391.25 298.24,391.25 298.66,391.25 299.07,391.25 299.49,391.25 299.90,391.25 300.32,391.25 300.74,391.25 301.15,391.25 301.57,391.25 301.98,391.25 302.40,391.25 302.82,391.25 303.23,391.25 303.65,391.25 304.06,391.25 304.48,391.25 304.90,391.25 305.31,391.25 305.73,391.25 306.14,391.25 306.56,391.25 306.98,391.25 307.39,391.25 307.81,391.25 308.22,391.25 308.64,391.25 309.06,391.25 309.47,391.25 309.89,391.25 310.30,391.25 310.72,391.25 311.14,391.25 311.55,391.25 311.97,391.25 312.38,391.25 312.80,391.25 313.22,391.25 313.63,391.25 314.05,391.25 314.46,391.25 314.88,391.25 315.30,391.25 315.71,391.25 316.13,391.25 316.54,391.25 316.96,391.25 317.38,391.25 317.79,391.25 318.21,391.25 318.62,391.25 319.04,391.25 319.46,391.25 319.87,391.25 320.29,391.25 320.70,391.25 321.12,391.25 321.54,391.25 321.95,391.25 322.37,391.25 322.78,391.25 323.20,391.25 323.62,391.25 324.03,391.25 324.45,391.25 324.86,391.25 325.28,391.25 325.70,391.25 326.11,391.25 326.53,391.25 326.94,391.25 327.36,391.25 327.78,391.25 328.19,391.25 328.61,391.25 329.02,391.25 329.44,391.25 329.86,391.25 330.27,391.25 330.69,391.25 331.10,391.25 331.52,391.25 331.94,391.25 332.35,391.25 332.77,391.25 333.18,391.25 333.60,391.25 334.02,391.25 334.43,391.25 334.85,391.25 335.26,391.25 335.68,391.25 336.10,391.25 336.51,391.25 336.93,391.25 337.34,391.25 337.76,391.25 338.18,391.25 338.59,391.25 339.01,391.25 339.42,391.25 339.84,391.25 340.26,391.25 340.67,391.25 341.09,391.25 341.50,391.25 341.92,391.25 342.34,391.25 342.75,391.25 343.17,391.25 343.58,391.25" fill="none" stroke="#f0f" stroke-width="0.6" stroke-dasharray="6.5,2.4,0.8,3.6"/>
<path d="M32 387.4h0m.4 .1h0m.4 0h0m.4 0h0m.5 0h0m.4 .1h0m.4 0h0m.4 0h0m.4 0h0m.4 .1h0m.5 0h0m.4 0h0m.4 0h0m.4 .1h0m.4 0h0m.4 0h0m.5 0h0m.4 .1h0m.4 0h0m.4 0h0m.4 0h0m.4 0h0m.5 .1h0m.4 0h0m.4 0h0m.4 0h0m.4 .1h0m.4 0h0m.4 0h0m.5 0h0m.4 0h0m.4 .1h0m.4 0h0m.4 0h0m.4 0h0m.5 0h0m.4 .1h0m.4 0h0m.4 0h0m.4 0h0m.4 0h0m.5 .1h0m.4 0h0m.4 0h0m.4 0h0m.4 0h0m.4 0h0m.5 .1h0m.4 0h0m.4 0h0m.4 0h0m.4 0h0m.4 .1h0m.4 0h0m.5 0h0m.4 0h0m.4 0h0m.4 0h0m.4 .1h0m.4 0h0m.5 0h0m.4 0h0m.4 0h0m.4 .1h0m.4 0h0m.4 0h0m.5 0h0m.4 0h0m.4 0h0m.4 .1h0m.4 0h0m.4 0h0m.5 0h0m.4 0h0m.4 0h0m.4 .1h0m.4 0h0m.4 0h0m.4 0h0m.5 0h0m.4 0h0m.4 .1h0m.4 0h0m.4 0h0m.4 0h0m.5 0h0m.4 0h0m.4 0h0m.4 .1h0m.4 0h0m.4 0h0m.5 0h0m.4 0h0m.4 0h0m.4 0h0m.4 0h0m.4 0h0m.5 0h0m.4 .1h0m.4 0h0m.4 0h0m.4 0h0m.4 0h0m.4 0h0m.5 0h0m.4 0h0m.4 0h0m.4 0h0m.4 0h0m.4 0h0m.5 0h0m.4 0h0m.4 0h0m.4 0h0m.4 0h0m.4 0h0m.5 0h0m.4 0h0m.4 0h0m.4 0h0m.4 0h0m.4 0h0m.5 0h0m.4 0h0m.4 0h0m.4 0h0m.4 0h0m.4-.2h0m.4-.3h0m.5-.4h0m.4-.4h0m.4-.5h0m.4-.7h0m.4-.9h0m.4-.8h0m.5-.5h0m.4-.1h0m.4 0h0m.4 .1h0m.4 0h0m.4 .1h0m.5 .1h0m.4 0h0m.4 0h0m.4-.1h0m.4-.3h0m.4-.4h0m.5-.3h0m.4-.4h0m.4-.4h0m.4-.2h0m.4-.1h0m.4-.1h0m.4 0h0m.5-.1h0m.4-.1h0m.4 0h0m.4-.1h0m.4 0h0m.4 0h0m.5-.1h0m.4 0h0m.4 0h0m.4-.1h0m.4 0h0m.4-.1h0m.5 0h0m.4-.1h0m.4-.1h0m.4-.1h0m.4-.1h0m.4-.1h0m.5-.1h0m.4-.2h0m.4-.1h0m.4-.2h0m.4-.2h0m.4-.2h0m.4-.1h0m.5-.2h0m.4-.2h0m.4-.2h0m.4-.3h0m.4-.2h0m.4-.2h0m.5-.3h0m.4-.2h0m.4-.3h0m.4-.3h0m.4-.3h0m.4-.3h0m.5-.3h0m.4-.4h0m.4-.3h0m.4-.4h0m.4-.4h0m.4-.4h0m.5-.5h0m.4-.6h0m.4-.6h0m.4-.6h0m.4-.7h0m.4-.7h0m.4-.7h0m.5-.8h0m.4-.9h0m.4-.9h0m.4-1h0m.4-1.2h0m.4-1.3h0m.5-1.4h0m.4-1.6h0m.4-1.7h0m.4-1.8h0m.4-2h0m.4-2.1h0m.5-2.4h0m.4-2.5h0m.4-2.5h0m.4-2.5h0m.4-2.5h0m.4-2.3h0m.5-2.3h0m.4-2.1h0m.4-2.1h0m.4-2.2h0m.4-2.2h0m.4-2.3h0m.4-2.4h0m.5-2.7h0m.4-2.8h0m.4-2.9h0m.4-2.8h0m.4-2.7h0m.4-3.1h0m.5-2.6h0m.4-1.4h0m.4 .3h0m.4 1.6h0m.4 2.1h0m.4 2.8h0m.5 3.2h0m.4 3.1h0m.4 3.3h0m.4 3.7h0m.4 4.3h0m.4 4.4h0m.5 4.7h0m.4 4.5h0m.4 4.3h0m.4 4.1h0m.4 3.9h0m.4 3.5h0m.4 3.1h0m.5 2.8h0m.4 2.7h0m.4 2.4h0m.4 2.1h0m.4 1.8h0m.4 1.7h0m.5 1.5h0m.4 1.3h0m.4 1.1h0m.4 .9h0m.4 .9h0m.4 .8h0m.5 .8h0m.4 .7h0m.4 .6h0m.4 .5h0m.4 .5h0m.4 .3h0m.5 .3h0m.4 .3h0m.4 .3h0m.4 .3h0m.4 .2h0m.4 .3h0m.4 .2h0m.5 .2h0m.4 .2h0m.4 .2h0m.4 .2h0m.4 .2h0m.4 .1h0m.5 .2h0m.4 .1h0m.4 .2h0m.4 .1h0m.4 .1h0m.4 .2h0m.5 .1h0m.4 .1h0m.4 .1h0m.4 .1h0m.4 .1h0m.4 .1h0m.5 0h0m.4 .1h0m.4 .1h0m.4 .1h0m.4 .1h0m.4 .1h0m.4 0h0m.5 .1h0m.4 .1h0m.4 .1h0m.4 0h0m.4 .1h0m.4 .1h0m.5 0h0m.4 .1h0m.4 .1h0m.4 0h0m.4 .1h0m.4 0h0m.5 .1h0m.4 0h0m.4 .1h0m.4 0h0m.4 .1h0m.4 0h0m.5 .1h0m.4 0h0m.4 .1h0m.4 0h0m.4 .1h0m.4 0h0m.4 .1h0m.5 0h0m.4 0h0m.4 .1h0m.4 0h0m.4 .1h0m.4 0h0m.5 0h0m.4 .1h0m.4 0h0m.4 .1h0m.4 0h0m.4 0h0m.5 .1h0m.4 0h0m.4 0h0m.4 .1h0m.4 0h0m.4 .1h0m.5 0h0m.4 0h0m.4 .1h0m.4 0h0m.4 0h0m.4 .1h0m.4 0h0m.5 0h0m.4 .1h0m.4 0h0m.4 .1h0m.4 0h0m.4 0h0m.5 .1h0m.4 0h0m.4 0h0m.4 0h0m.4 .1h0m.4 0h0m.5 0h0m.4 .1h0m.4 0h0m.4 0h0m.4 0h0m.4 .1h0m.5 0h0m.4 0h0m.4 0h0m.4 .1h0m.4 0h0m.4 0h0m.4 0h0m.5 0h0m.4 .1h0m.4 0h0m.4 0h0m.4 0h0m.4 0h0m.5 0h0m.4 0h0m.4 0h0m.4 0h0m.4 0h0m.4 0h0m.5 0h0m.4 0h0m.4 0h0m.4 0h0m.4 0h0m.4 0h0m.5 0h0m.4 0h0m.4 0h0m.4 0h0m.4 0h0m.4 0h0m.4 0h0m.5 0h0m.4 0h0m.4 0h0m.4 0h0m.4 0h0m.4 0h0m.5 0h0m.4 0h0m.4 0h0m.4 0h0m.4 0h0m.4 0h0m.5 0h0m.4 0h0m.4 0h0m.4 0h0m.4 0h0m.4 0h0m.5 0h0m.4 0h0m.4 0h0m.4 0h0m.4 0h0m.4 0h0m.4 0h0m.5 0h0m.4 0h0m.4 0h0m.4 0h0m.4 0h0m.4 0h0m.5 0h0m.4 0h0m.4 0h0m.4 0h0m.4 0h0m.4 0h0m.5 0h0m.4 0h0m.4 0h0m.4 0h0m.4 0h0m.4 0h0m.5 0h0m.4 0h0m.4 0h0m.4 0h0m.4 0h0m.4 0h0m.4 0h0m.5 0h0m.4 0h0m.4 0h0m.4 0h0m.4 0h0m.4 0h0m.5 0h0m.4 0h0m.4 0h0m.4 0h0m.4 0h0m.4 0h0m.5 0h0m.4 0h0m.4 0h0m.4 0h0m.4 0h0m.4 0h0m.5 0h0m.4 0h0m.4 0h0m.4 0h0m.4 0h0m.4 0h0m.4 0h0m.5 0h0m.4 0h0m.4 0h0m.4 0h0m.4 0h0m.4 0h0m.5 0h0m.4 0h0m.4 0h0m.4 0h0m.4 0h0m.4 0h0m.5 0h0m.4 0h0m.4 0h0m.4 0h0m.4 0h0m.4 0h0m.5 0h0m.4 0h0m.4 0h0m.4 0h0m.4 0h0m.4 0h0m.4 0h0m.5 0h0m.4 0h0m.4 0h0m.4 0h0m.4 0h0m.4 0h0m.5 0h0m.4 0h0m.4 0h0m.4 0h0m.4 0h0m.4 0h0m.5 0h0m.4 0h0m.4 0h0m.4 0h0m.4 0h0m.4 0h0m.5 0h0m.4 0h0m.4 0h0m.4 0h0m.4 0h0m.4 0h0m.4 0h0m.5 0h0m.4 0h0m.4 0h0m.4 0h0m.4 0h0m.4 0h0m.5 0h0m.4 0h0m.4 0h0m.4 0h0m.4 0h0m.4 0h0m.5 0h0m.4 0h0m.4 0h0m.4 0h0m.4 0h0m.4 0h0m.5 0h0m.4 0h0m.4 0h0m.4 0h0m.4 0h0m.4 0h0m.4 0h0m.5 0h0m.4 0h0m.4 0h0m.4 0h0m.4 0h0m.4 0h0m.5 0h0m.4 0h0m.4 0h0m.4 0h0m.4 0h0m.4 0h0m.5 0h0m.4 0h0m.4 0h0m.4 0h0m.4 0h0m.4 0h0m.5 0h0m.4 0h0m.4 0h0m.4 0h0m.4 0h0m.4 0h0m.4 0h0m.5 0h0m.4 0h0m.4 0h0m.4 0h0m.4 0h0m.4 0h0m.5 0h0m.4 0h0m.4 0h0m.4 0h0m.4 0h0m.4 0h0m.5 0h0m.4 0h0m.4 0h0m.4 0h0m.4 0h0m.4 0h0m.5 0h0m.4 0h0m.4 0h0m.4 0h0m.4 0h0m.4 0h0m.4 0h0m.5 0h0m.4 0h0m.4 0h0m.4 0h0m.4 0h0m.4 0h0m.5 0h0m.4 0h0m.4 0h0m.4 0h0m.4 0h0m.4 0h0m.5 0h0m.4 0h0m.4 0h0m.4 0h0m.4 0h0m.4 0h0m.5 0h0m.4 0h0m.4 0h0m.4 0h0m.4 0h0m.4 0h0m.4 0h0m.5 0h0m.4 0h0m.4 0h0m.4 0h0m.4 0h0m.4 0h0m.5 0h0m.4 0h0m.4 0h0m.4 0h0m.4 0h0m.4 0h0m.5 0h0m.4 0h0m.4 0h0m.4 0h0m.4 0h0m.4 0h0m.5 0h0m.4 0h0m.4 0h0m.4 0h0m.4 0h0m.4 0h0m.4 0h0m.5 0h0m.4 0h0m.4 0h0m.4 0h0m.4 0h0m.4 0h0m.5 0h0m.4 0h0m.4 0h0m.4 0h0m.4 0h0m.4 0h0m.5 0h0m.4 0h0m.4 0h0m.4 0h0m.4 0h0m.4 0h0m.5 0h0m.4 0h0m.4 0h0m.4 0h0m.4 0h0m.4 0h0m.4 0h0m.5 0h0m.4 0h0m.4 0h0m.4 0h0m.4 0h0m.4 0h0m.5 0h0m.4 0h0m.4 0h0m.4 0h0m.4 0h0m.4 0h0m.5 0h0m.4 0h0m.4 0h0m.4 0h0m.4 0h0m.4 0h0m.5 0h0m.4 0h0m.4 0h0m.4 0h0m.4 0h0m.4 0h0m.4 0h0m.5 0h0m.4 0h0m.4 0h0m.4 0h0m.4 0h0m.4 0h0m.5 0h0m.4 0h0m.4 0h0m.4 0h0m.4 0h0m.4 0h0m.5 0h0m.4 0h0m.4 0h0m.4 0h0m.4 0h0m.4 0h0m.5 0h0m.4 0h0m.4 0h0m.4 0h0m.4 0h0m.4 0h0m.4 0h0m.5 0h0m.4 0h0m.4 0h0m.4 0h0m.4 0h0m.4 0h0m.5 0h0m.4 0h0m.4 0h0m.4 0h0m.4 0h0m.4 0h0m.5 0h0m.4 0h0m.4 0h0m.4 0h0m.4 0h0m.4 0h0m.5 0h0m.4 0h0m.4 0h0" fill="none" stroke="#f0f" stroke-width="2.5" stroke-linecap="round"/>
<polygon points="66.12,186.10 66.88,186.10 66.88,179.44 66.27,179.44 66.10,179.94 65.53,180.46 64.13,180.74 64.13,181.31 66.12,181.31" fill="#222" stroke="#222" stroke-width="0.2"/>
<text transform="translate(68.20,186.10) scale(0.93,1)" font-size="9.4">.</text>
<text transform="translate(70.63,186.10) scale(0.93,1)" font-size="9.4">7</text>
<text transform="translate(75.50,186.10) scale(0.93,1)" font-size="9.4">5</text>
<polygon points="120.55,186.10 121.31,186.10 121.31,179.44 120.70,179.44 120.53,179.94 119.96,180.46 118.56,180.74 118.56,181.31 120.55,181.31" fill="#222" stroke="#222" stroke-width="0.2"/>
<text transform="translate(122.63,186.10) scale(0.93,1)" font-size="9.4">.</text>
<text transform="translate(125.07,186.10) scale(0.93,1)" font-size="9.4">8</text>
<polygon points="170.12,186.10 170.88,186.10 170.88,179.44 170.27,179.44 170.10,179.94 169.53,180.46 168.13,180.74 168.13,181.31 170.12,181.31" fill="#222" stroke="#222" stroke-width="0.2"/>
<text transform="translate(172.20,186.10) scale(0.93,1)" font-size="9.4">.</text>
<text transform="translate(174.63,186.10) scale(0.93,1)" font-size="9.4">8</text>
<text transform="translate(179.50,186.10) scale(0.93,1)" font-size="9.4">5</text>
<polygon points="224.55,186.10 225.31,186.10 225.31,179.44 224.70,179.44 224.53,179.94 223.96,180.46 222.56,180.74 222.56,181.31 224.55,181.31" fill="#222" stroke="#222" stroke-width="0.2"/>
<text transform="translate(226.63,186.10) scale(0.93,1)" font-size="9.4">.</text>
<text transform="translate(229.07,186.10) scale(0.93,1)" font-size="9.4">9</text>
<polygon points="274.12,186.10 274.88,186.10 274.88,179.44 274.27,179.44 274.10,179.94 273.53,180.46 272.13,180.74 272.13,181.31 274.12,181.31" fill="#222" stroke="#222" stroke-width="0.2"/>
<text transform="translate(276.20,186.10) scale(0.93,1)" font-size="9.4">.</text>
<text transform="translate(278.63,186.10) scale(0.93,1)" font-size="9.4">9</text>
<text transform="translate(283.50,186.10) scale(0.93,1)" font-size="9.4">5</text>
<text transform="translate(329.42,186.10) scale(0.93,1)" font-size="9.4">2</text>
<polygon points="19.96,7.40 20.72,7.40 20.72,0.74 20.11,0.74 19.93,1.24 19.36,1.76 17.97,2.04 17.97,2.61 19.96,2.61" fill="#222" stroke="#222" stroke-width="0.2"/>
<text transform="translate(22.04,7.40) scale(0.93,1)" font-size="9.4">5</text>
<polygon points="19.96,35.47 20.72,35.47 20.72,28.80 20.11,28.80 19.93,29.31 19.36,29.83 17.97,30.11 17.97,30.67 19.96,30.67" fill="#222" stroke="#222" stroke-width="0.2"/>
<text transform="translate(22.04,35.47) scale(0.93,1)" font-size="9.4">0</text>
<text transform="translate(22.04,63.53) scale(0.93,1)" font-size="9.4">5</text>
<text transform="translate(22.04,91.60) scale(0.93,1)" font-size="9.4">0</text>
<text transform="translate(19.13,119.67) scale(0.93,1)" font-size="9.4">-</text>
<text transform="translate(22.04,119.67) scale(0.93,1)" font-size="9.4">5</text>
<text transform="translate(14.27,147.73) scale(0.93,1)" font-size="9.4">-</text>
<polygon points="19.96,147.73 20.72,147.73 20.72,141.07 20.11,141.07 19.93,141.58 19.36,142.09 17.97,142.38 17.97,142.94 19.96,142.94" fill="#222" stroke="#222" stroke-width="0.2"/>
<text transform="translate(22.04,147.73) scale(0.93,1)" font-size="9.4">0</text>
<text transform="translate(14.27,175.80) scale(0.93,1)" font-size="9.4">-</text>
<polygon points="19.96,175.80 20.72,175.80 20.72,169.14 20.11,169.14 19.93,169.64 19.36,170.16 17.97,170.44 17.97,171.01 19.96,171.01" fill="#222" stroke="#222" stroke-width="0.2"/>
<text transform="translate(22.04,175.80) scale(0.93,1)" font-size="9.4">5</text>
<text transform="translate(28.87,404.60) scale(0.93,1)" font-size="9.4">0</text>
<text transform="translate(130.37,404.60) scale(0.93,1)" font-size="9.4">5</text>
<text transform="translate(135.23,404.60) scale(0.93,1)" font-size="9.4">0</text>
<polygon points="234.66,404.60 235.42,404.60 235.42,397.94 234.80,397.94 234.63,398.44 234.06,398.96 232.66,399.24 232.66,399.81 234.66,399.81" fill="#222" stroke="#222" stroke-width="0.2"/>
<text transform="translate(236.74,404.60) scale(0.93,1)" font-size="9.4">0</text>
<text transform="translate(241.60,404.60) scale(0.93,1)" font-size="9.4">0</text>
<polygon points="338.59,404.60 339.35,404.60 339.35,397.94 338.74,397.94 338.56,398.44 337.99,398.96 336.60,399.24 336.60,399.81 338.59,399.81" fill="#222" stroke="#222" stroke-width="0.2"/>
<text transform="translate(340.67,404.60) scale(0.93,1)" font-size="9.4">5</text>
<text transform="translate(345.53,404.60) scale(0.93,1)" font-size="9.4">0</text>
<text transform="translate(22.04,226.00) scale(0.93,1)" font-size="9.4">5</text>
<text transform="translate(22.04,259.66) scale(0.93,1)" font-size="9.4">4</text>
<text transform="translate(22.04,293.32) scale(0.93,1)" font-size="9.4">3</text>
<text transform="translate(22.04,326.98) scale(0.93,1)" font-size="9.4">2</text>
<polygon points="24.82,360.64 25.58,360.64 25.58,353.98 24.97,353.98 24.79,354.48 24.22,355.00 22.83,355.28 22.83,355.85 24.82,355.85" fill="#222" stroke="#222" stroke-width="0.2"/>
<text transform="translate(22.04,394.80) scale(0.93,1)" font-size="9.4">0</text>
<text x="185.2" y="199" font-size="9.8" text-anchor="middle">Time [s]</text>
<text x="184" y="418" font-size="9.8" text-anchor="middle">Frequency [Hz]</text>
<text transform="translate(7.6,92.3) rotate(-90)" font-size="10.4" text-anchor="middle">Voltage [V]</text>
<text transform="translate(16.1,312.8) rotate(-90)" font-size="9.8" text-anchor="middle">Power density [W/Hz]</text>
<text x="35.5" y="219.9" font-size="7.6">×</text>
<polygon points="42.43,219.90 43.20,219.90 43.20,213.59 42.58,213.59 42.40,214.07 41.83,214.56 40.40,214.83 40.40,215.36 42.43,215.36" fill="#222" stroke="#222" stroke-width="0.2"/>
<text transform="translate(44.55,219.90) scale(1.0,1)" font-size="8.9">0</text>
<text x="50.5" y="215.7" font-size="6.7">-6</text>
<rect x="243.5" y="15.6" width="89.30" height="49.50" fill="#fff" stroke="#262626" stroke-width="0.8"/>
<line x1="250.1" y1="23.3" x2="283" y2="23.3" stroke="#000" stroke-width="0.8" stroke-dasharray="7.8,5.7"/>
<circle cx="266.6" cy="23.3" r="1.2" fill="#000"/>
<text x="286.7" y="26.20" font-size="8.3">PZ#2 tip</text>
<line x1="250.1" y1="34.7" x2="283" y2="34.7" stroke="#00f" stroke-width="0.8"/>
<circle cx="266.6" cy="34.7" r="1.2" fill="#00f"/>
<text x="286.7" y="37.60" font-size="8.3">PZ#2 root</text>
<line x1="250.1" y1="46.3" x2="283" y2="46.3" stroke="#f00" stroke-width="0.8" stroke-dasharray="0.8,1.8"/>
<circle cx="266.6" cy="46.3" r="1.2" fill="#f00"/>
<text x="286.7" y="49.20" font-size="8.3">PZ#4 tip</text>
<line x1="250.1" y1="57.6" x2="283" y2="57.6" stroke="#f0f" stroke-width="0.8" stroke-dasharray="6.5,2.8,0.8,3.2"/>
<circle cx="266.6" cy="57.6" r="1.2" fill="#f0f"/>
<text x="286.7" y="60.50" font-size="8.3">PZ#4 root</text>
</svg></body></html>
